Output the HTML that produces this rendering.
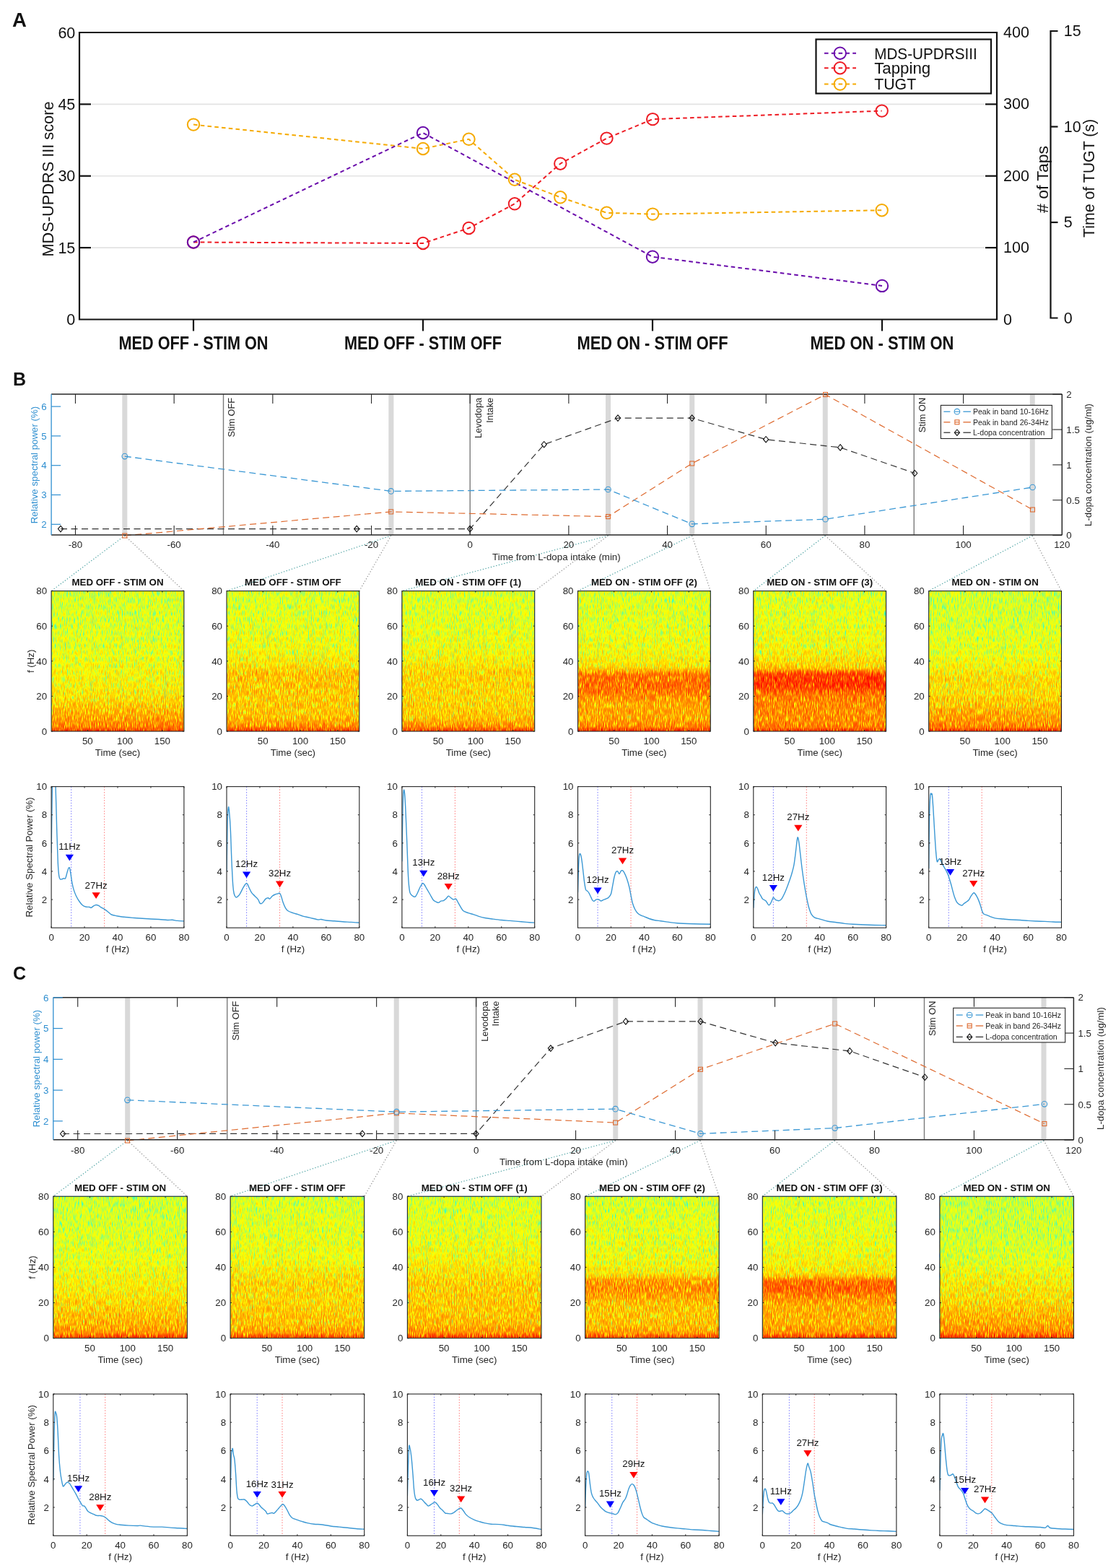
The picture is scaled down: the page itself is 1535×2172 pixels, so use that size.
<!DOCTYPE html>
<html><head><meta charset="utf-8"><title>Figure</title>
<style>html,body{margin:0;padding:0;background:#fff;} svg{display:block;} text{font-family:'Liberation Sans', Arial, Helvetica, sans-serif;}</style>
</head><body>
<svg width="1535" height="2172" viewBox="0 0 1535 2172">
<defs>
<linearGradient id="g1" x1="0" y1="0" x2="0" y2="1"><stop offset="0.0000" stop-color="rgb(152,152,152)"/><stop offset="0.2500" stop-color="rgb(154,154,154)"/><stop offset="0.4375" stop-color="rgb(157,157,157)"/><stop offset="0.5625" stop-color="rgb(161,161,161)"/><stop offset="0.6875" stop-color="rgb(164,164,164)"/><stop offset="0.7750" stop-color="rgb(170,170,170)"/><stop offset="0.8375" stop-color="rgb(178,178,178)"/><stop offset="0.9000" stop-color="rgb(185,185,185)"/><stop offset="0.9625" stop-color="rgb(193,193,193)"/><stop offset="0.9875" stop-color="rgb(204,204,204)"/><stop offset="1.0000" stop-color="rgb(212,212,212)"/></linearGradient>
<filter id="f1" x="0" y="0" width="1" height="1" color-interpolation-filters="sRGB">
<feTurbulence type="fractalNoise" baseFrequency="0.95 0.11" numOctaves="2" seed="11" result="t"/>
<feColorMatrix in="t" type="matrix" values="1 0 0 0 0 1 0 0 0 0 1 0 0 0 0 0 0 0 0 1" result="n0"/>
<feComponentTransfer in="n0" result="n"><feFuncR type="table" tableValues="0 0.07 0.3 0.5 0.58 0.645 0.71"/><feFuncG type="table" tableValues="0 0.07 0.3 0.5 0.58 0.645 0.71"/><feFuncB type="table" tableValues="0 0.07 0.3 0.5 0.58 0.645 0.71"/></feComponentTransfer>
<feComposite in="SourceGraphic" in2="n" operator="arithmetic" k1="0" k2="1" k3="0.42" k4="-0.21" result="v"/>
<feComponentTransfer in="v"><feFuncR type="table" tableValues="0.000 0.000 0.000 0.000 0.000 0.000 0.000 0.000 0.000 0.000 0.000 0.000 0.000 0.000 0.000 0.000 0.000 0.000 0.000 0.000 0.000 0.000 0.000 0.000 0.000 0.062 0.125 0.188 0.250 0.312 0.375 0.438 0.500 0.562 0.625 0.688 0.750 0.812 0.875 0.938 1.000 1.000 1.000 1.000 1.000 1.000 1.000 1.000 1.000 1.000 1.000 1.000 1.000 1.000 1.000 1.000 1.000 0.980 0.980 0.980 0.980 0.980 0.980 0.980 0.980"/><feFuncG type="table" tableValues="0.000 0.000 0.000 0.000 0.000 0.000 0.000 0.000 0.000 0.062 0.125 0.188 0.250 0.312 0.375 0.438 0.500 0.562 0.625 0.688 0.750 0.812 0.875 0.938 1.000 1.000 1.000 1.000 1.000 1.000 1.000 1.000 1.000 1.000 1.000 1.000 1.000 1.000 1.000 1.000 1.000 0.938 0.875 0.812 0.750 0.688 0.625 0.562 0.500 0.438 0.375 0.312 0.250 0.188 0.125 0.062 0.000 0.000 0.000 0.000 0.000 0.000 0.000 0.000 0.000"/><feFuncB type="table" tableValues="0.500 0.562 0.625 0.688 0.750 0.812 0.875 0.938 1.000 1.000 1.000 1.000 1.000 1.000 1.000 1.000 1.000 1.000 1.000 1.000 1.000 1.000 1.000 1.000 1.000 0.938 0.875 0.812 0.750 0.688 0.625 0.562 0.500 0.438 0.375 0.312 0.250 0.188 0.125 0.062 0.000 0.000 0.000 0.000 0.000 0.000 0.000 0.000 0.000 0.000 0.000 0.000 0.000 0.000 0.000 0.000 0.000 0.000 0.000 0.000 0.000 0.000 0.000 0.000 0.000"/></feComponentTransfer>
<feGaussianBlur stdDeviation="0.45"/>
</filter>
<linearGradient id="g2" x1="0" y1="0" x2="0" y2="1"><stop offset="0.0000" stop-color="rgb(153,153,153)"/><stop offset="0.2500" stop-color="rgb(156,156,156)"/><stop offset="0.4375" stop-color="rgb(161,161,161)"/><stop offset="0.5250" stop-color="rgb(168,168,168)"/><stop offset="0.5875" stop-color="rgb(177,177,177)"/><stop offset="0.7250" stop-color="rgb(176,176,176)"/><stop offset="0.8125" stop-color="rgb(175,175,175)"/><stop offset="0.9000" stop-color="rgb(178,178,178)"/><stop offset="0.9625" stop-color="rgb(190,190,190)"/><stop offset="0.9875" stop-color="rgb(204,204,204)"/><stop offset="1.0000" stop-color="rgb(212,212,212)"/></linearGradient>
<filter id="f2" x="0" y="0" width="1" height="1" color-interpolation-filters="sRGB">
<feTurbulence type="fractalNoise" baseFrequency="0.95 0.11" numOctaves="2" seed="12" result="t"/>
<feColorMatrix in="t" type="matrix" values="1 0 0 0 0 1 0 0 0 0 1 0 0 0 0 0 0 0 0 1" result="n0"/>
<feComponentTransfer in="n0" result="n"><feFuncR type="table" tableValues="0 0.07 0.3 0.5 0.58 0.645 0.71"/><feFuncG type="table" tableValues="0 0.07 0.3 0.5 0.58 0.645 0.71"/><feFuncB type="table" tableValues="0 0.07 0.3 0.5 0.58 0.645 0.71"/></feComponentTransfer>
<feComposite in="SourceGraphic" in2="n" operator="arithmetic" k1="0" k2="1" k3="0.42" k4="-0.21" result="v"/>
<feComponentTransfer in="v"><feFuncR type="table" tableValues="0.000 0.000 0.000 0.000 0.000 0.000 0.000 0.000 0.000 0.000 0.000 0.000 0.000 0.000 0.000 0.000 0.000 0.000 0.000 0.000 0.000 0.000 0.000 0.000 0.000 0.062 0.125 0.188 0.250 0.312 0.375 0.438 0.500 0.562 0.625 0.688 0.750 0.812 0.875 0.938 1.000 1.000 1.000 1.000 1.000 1.000 1.000 1.000 1.000 1.000 1.000 1.000 1.000 1.000 1.000 1.000 1.000 0.980 0.980 0.980 0.980 0.980 0.980 0.980 0.980"/><feFuncG type="table" tableValues="0.000 0.000 0.000 0.000 0.000 0.000 0.000 0.000 0.000 0.062 0.125 0.188 0.250 0.312 0.375 0.438 0.500 0.562 0.625 0.688 0.750 0.812 0.875 0.938 1.000 1.000 1.000 1.000 1.000 1.000 1.000 1.000 1.000 1.000 1.000 1.000 1.000 1.000 1.000 1.000 1.000 0.938 0.875 0.812 0.750 0.688 0.625 0.562 0.500 0.438 0.375 0.312 0.250 0.188 0.125 0.062 0.000 0.000 0.000 0.000 0.000 0.000 0.000 0.000 0.000"/><feFuncB type="table" tableValues="0.500 0.562 0.625 0.688 0.750 0.812 0.875 0.938 1.000 1.000 1.000 1.000 1.000 1.000 1.000 1.000 1.000 1.000 1.000 1.000 1.000 1.000 1.000 1.000 1.000 0.938 0.875 0.812 0.750 0.688 0.625 0.562 0.500 0.438 0.375 0.312 0.250 0.188 0.125 0.062 0.000 0.000 0.000 0.000 0.000 0.000 0.000 0.000 0.000 0.000 0.000 0.000 0.000 0.000 0.000 0.000 0.000 0.000 0.000 0.000 0.000 0.000 0.000 0.000 0.000"/></feComponentTransfer>
<feGaussianBlur stdDeviation="0.45"/>
</filter>
<linearGradient id="g3" x1="0" y1="0" x2="0" y2="1"><stop offset="0.0000" stop-color="rgb(153,153,153)"/><stop offset="0.2500" stop-color="rgb(156,156,156)"/><stop offset="0.4375" stop-color="rgb(161,161,161)"/><stop offset="0.5250" stop-color="rgb(167,167,167)"/><stop offset="0.5875" stop-color="rgb(173,173,173)"/><stop offset="0.7250" stop-color="rgb(172,172,172)"/><stop offset="0.8125" stop-color="rgb(173,173,173)"/><stop offset="0.9000" stop-color="rgb(177,177,177)"/><stop offset="0.9625" stop-color="rgb(189,189,189)"/><stop offset="0.9875" stop-color="rgb(204,204,204)"/><stop offset="1.0000" stop-color="rgb(212,212,212)"/></linearGradient>
<filter id="f3" x="0" y="0" width="1" height="1" color-interpolation-filters="sRGB">
<feTurbulence type="fractalNoise" baseFrequency="0.95 0.11" numOctaves="2" seed="13" result="t"/>
<feColorMatrix in="t" type="matrix" values="1 0 0 0 0 1 0 0 0 0 1 0 0 0 0 0 0 0 0 1" result="n0"/>
<feComponentTransfer in="n0" result="n"><feFuncR type="table" tableValues="0 0.07 0.3 0.5 0.58 0.645 0.71"/><feFuncG type="table" tableValues="0 0.07 0.3 0.5 0.58 0.645 0.71"/><feFuncB type="table" tableValues="0 0.07 0.3 0.5 0.58 0.645 0.71"/></feComponentTransfer>
<feComposite in="SourceGraphic" in2="n" operator="arithmetic" k1="0" k2="1" k3="0.42" k4="-0.21" result="v"/>
<feComponentTransfer in="v"><feFuncR type="table" tableValues="0.000 0.000 0.000 0.000 0.000 0.000 0.000 0.000 0.000 0.000 0.000 0.000 0.000 0.000 0.000 0.000 0.000 0.000 0.000 0.000 0.000 0.000 0.000 0.000 0.000 0.062 0.125 0.188 0.250 0.312 0.375 0.438 0.500 0.562 0.625 0.688 0.750 0.812 0.875 0.938 1.000 1.000 1.000 1.000 1.000 1.000 1.000 1.000 1.000 1.000 1.000 1.000 1.000 1.000 1.000 1.000 1.000 0.980 0.980 0.980 0.980 0.980 0.980 0.980 0.980"/><feFuncG type="table" tableValues="0.000 0.000 0.000 0.000 0.000 0.000 0.000 0.000 0.000 0.062 0.125 0.188 0.250 0.312 0.375 0.438 0.500 0.562 0.625 0.688 0.750 0.812 0.875 0.938 1.000 1.000 1.000 1.000 1.000 1.000 1.000 1.000 1.000 1.000 1.000 1.000 1.000 1.000 1.000 1.000 1.000 0.938 0.875 0.812 0.750 0.688 0.625 0.562 0.500 0.438 0.375 0.312 0.250 0.188 0.125 0.062 0.000 0.000 0.000 0.000 0.000 0.000 0.000 0.000 0.000"/><feFuncB type="table" tableValues="0.500 0.562 0.625 0.688 0.750 0.812 0.875 0.938 1.000 1.000 1.000 1.000 1.000 1.000 1.000 1.000 1.000 1.000 1.000 1.000 1.000 1.000 1.000 1.000 1.000 0.938 0.875 0.812 0.750 0.688 0.625 0.562 0.500 0.438 0.375 0.312 0.250 0.188 0.125 0.062 0.000 0.000 0.000 0.000 0.000 0.000 0.000 0.000 0.000 0.000 0.000 0.000 0.000 0.000 0.000 0.000 0.000 0.000 0.000 0.000 0.000 0.000 0.000 0.000 0.000"/></feComponentTransfer>
<feGaussianBlur stdDeviation="0.45"/>
</filter>
<linearGradient id="g4" x1="0" y1="0" x2="0" y2="1"><stop offset="0.0000" stop-color="rgb(153,153,153)"/><stop offset="0.2500" stop-color="rgb(156,156,156)"/><stop offset="0.4375" stop-color="rgb(161,161,161)"/><stop offset="0.5375" stop-color="rgb(168,168,168)"/><stop offset="0.5687" stop-color="rgb(182,182,182)"/><stop offset="0.5938" stop-color="rgb(196,196,196)"/><stop offset="0.6750" stop-color="rgb(199,199,199)"/><stop offset="0.7250" stop-color="rgb(195,195,195)"/><stop offset="0.7625" stop-color="rgb(189,189,189)"/><stop offset="0.8125" stop-color="rgb(184,184,184)"/><stop offset="0.9000" stop-color="rgb(184,184,184)"/><stop offset="0.9625" stop-color="rgb(191,191,191)"/><stop offset="0.9875" stop-color="rgb(207,207,207)"/><stop offset="1.0000" stop-color="rgb(214,214,214)"/></linearGradient>
<filter id="f4" x="0" y="0" width="1" height="1" color-interpolation-filters="sRGB">
<feTurbulence type="fractalNoise" baseFrequency="0.95 0.11" numOctaves="2" seed="14" result="t"/>
<feColorMatrix in="t" type="matrix" values="1 0 0 0 0 1 0 0 0 0 1 0 0 0 0 0 0 0 0 1" result="n0"/>
<feComponentTransfer in="n0" result="n"><feFuncR type="table" tableValues="0 0.07 0.3 0.5 0.58 0.645 0.71"/><feFuncG type="table" tableValues="0 0.07 0.3 0.5 0.58 0.645 0.71"/><feFuncB type="table" tableValues="0 0.07 0.3 0.5 0.58 0.645 0.71"/></feComponentTransfer>
<feComposite in="SourceGraphic" in2="n" operator="arithmetic" k1="0" k2="1" k3="0.42" k4="-0.21" result="v"/>
<feComponentTransfer in="v"><feFuncR type="table" tableValues="0.000 0.000 0.000 0.000 0.000 0.000 0.000 0.000 0.000 0.000 0.000 0.000 0.000 0.000 0.000 0.000 0.000 0.000 0.000 0.000 0.000 0.000 0.000 0.000 0.000 0.062 0.125 0.188 0.250 0.312 0.375 0.438 0.500 0.562 0.625 0.688 0.750 0.812 0.875 0.938 1.000 1.000 1.000 1.000 1.000 1.000 1.000 1.000 1.000 1.000 1.000 1.000 1.000 1.000 1.000 1.000 1.000 0.980 0.980 0.980 0.980 0.980 0.980 0.980 0.980"/><feFuncG type="table" tableValues="0.000 0.000 0.000 0.000 0.000 0.000 0.000 0.000 0.000 0.062 0.125 0.188 0.250 0.312 0.375 0.438 0.500 0.562 0.625 0.688 0.750 0.812 0.875 0.938 1.000 1.000 1.000 1.000 1.000 1.000 1.000 1.000 1.000 1.000 1.000 1.000 1.000 1.000 1.000 1.000 1.000 0.938 0.875 0.812 0.750 0.688 0.625 0.562 0.500 0.438 0.375 0.312 0.250 0.188 0.125 0.062 0.000 0.000 0.000 0.000 0.000 0.000 0.000 0.000 0.000"/><feFuncB type="table" tableValues="0.500 0.562 0.625 0.688 0.750 0.812 0.875 0.938 1.000 1.000 1.000 1.000 1.000 1.000 1.000 1.000 1.000 1.000 1.000 1.000 1.000 1.000 1.000 1.000 1.000 0.938 0.875 0.812 0.750 0.688 0.625 0.562 0.500 0.438 0.375 0.312 0.250 0.188 0.125 0.062 0.000 0.000 0.000 0.000 0.000 0.000 0.000 0.000 0.000 0.000 0.000 0.000 0.000 0.000 0.000 0.000 0.000 0.000 0.000 0.000 0.000 0.000 0.000 0.000 0.000"/></feComponentTransfer>
<feGaussianBlur stdDeviation="0.45"/>
</filter>
<linearGradient id="g5" x1="0" y1="0" x2="0" y2="1"><stop offset="0.0000" stop-color="rgb(154,154,154)"/><stop offset="0.2500" stop-color="rgb(157,157,157)"/><stop offset="0.4375" stop-color="rgb(163,163,163)"/><stop offset="0.5250" stop-color="rgb(172,172,172)"/><stop offset="0.5563" stop-color="rgb(180,180,180)"/><stop offset="0.5750" stop-color="rgb(196,196,196)"/><stop offset="0.5938" stop-color="rgb(209,209,209)"/><stop offset="0.6625" stop-color="rgb(212,212,212)"/><stop offset="0.7000" stop-color="rgb(207,207,207)"/><stop offset="0.7250" stop-color="rgb(199,199,199)"/><stop offset="0.7625" stop-color="rgb(193,193,193)"/><stop offset="0.8750" stop-color="rgb(190,190,190)"/><stop offset="0.9375" stop-color="rgb(191,191,191)"/><stop offset="0.9750" stop-color="rgb(196,196,196)"/><stop offset="0.9875" stop-color="rgb(207,207,207)"/><stop offset="1.0000" stop-color="rgb(212,212,212)"/></linearGradient>
<filter id="f5" x="0" y="0" width="1" height="1" color-interpolation-filters="sRGB">
<feTurbulence type="fractalNoise" baseFrequency="0.95 0.11" numOctaves="2" seed="15" result="t"/>
<feColorMatrix in="t" type="matrix" values="1 0 0 0 0 1 0 0 0 0 1 0 0 0 0 0 0 0 0 1" result="n0"/>
<feComponentTransfer in="n0" result="n"><feFuncR type="table" tableValues="0 0.07 0.3 0.5 0.58 0.645 0.71"/><feFuncG type="table" tableValues="0 0.07 0.3 0.5 0.58 0.645 0.71"/><feFuncB type="table" tableValues="0 0.07 0.3 0.5 0.58 0.645 0.71"/></feComponentTransfer>
<feComposite in="SourceGraphic" in2="n" operator="arithmetic" k1="0" k2="1" k3="0.42" k4="-0.21" result="v"/>
<feComponentTransfer in="v"><feFuncR type="table" tableValues="0.000 0.000 0.000 0.000 0.000 0.000 0.000 0.000 0.000 0.000 0.000 0.000 0.000 0.000 0.000 0.000 0.000 0.000 0.000 0.000 0.000 0.000 0.000 0.000 0.000 0.062 0.125 0.188 0.250 0.312 0.375 0.438 0.500 0.562 0.625 0.688 0.750 0.812 0.875 0.938 1.000 1.000 1.000 1.000 1.000 1.000 1.000 1.000 1.000 1.000 1.000 1.000 1.000 1.000 1.000 1.000 1.000 0.980 0.980 0.980 0.980 0.980 0.980 0.980 0.980"/><feFuncG type="table" tableValues="0.000 0.000 0.000 0.000 0.000 0.000 0.000 0.000 0.000 0.062 0.125 0.188 0.250 0.312 0.375 0.438 0.500 0.562 0.625 0.688 0.750 0.812 0.875 0.938 1.000 1.000 1.000 1.000 1.000 1.000 1.000 1.000 1.000 1.000 1.000 1.000 1.000 1.000 1.000 1.000 1.000 0.938 0.875 0.812 0.750 0.688 0.625 0.562 0.500 0.438 0.375 0.312 0.250 0.188 0.125 0.062 0.000 0.000 0.000 0.000 0.000 0.000 0.000 0.000 0.000"/><feFuncB type="table" tableValues="0.500 0.562 0.625 0.688 0.750 0.812 0.875 0.938 1.000 1.000 1.000 1.000 1.000 1.000 1.000 1.000 1.000 1.000 1.000 1.000 1.000 1.000 1.000 1.000 1.000 0.938 0.875 0.812 0.750 0.688 0.625 0.562 0.500 0.438 0.375 0.312 0.250 0.188 0.125 0.062 0.000 0.000 0.000 0.000 0.000 0.000 0.000 0.000 0.000 0.000 0.000 0.000 0.000 0.000 0.000 0.000 0.000 0.000 0.000 0.000 0.000 0.000 0.000 0.000 0.000"/></feComponentTransfer>
<feGaussianBlur stdDeviation="0.45"/>
</filter>
<linearGradient id="g6" x1="0" y1="0" x2="0" y2="1"><stop offset="0.0000" stop-color="rgb(150,150,150)"/><stop offset="0.2500" stop-color="rgb(153,153,153)"/><stop offset="0.4375" stop-color="rgb(157,157,157)"/><stop offset="0.5625" stop-color="rgb(164,164,164)"/><stop offset="0.6250" stop-color="rgb(171,171,171)"/><stop offset="0.7250" stop-color="rgb(170,170,170)"/><stop offset="0.8125" stop-color="rgb(177,177,177)"/><stop offset="0.8750" stop-color="rgb(184,184,184)"/><stop offset="0.9375" stop-color="rgb(189,189,189)"/><stop offset="0.9750" stop-color="rgb(196,196,196)"/><stop offset="0.9875" stop-color="rgb(209,209,209)"/><stop offset="1.0000" stop-color="rgb(214,214,214)"/></linearGradient>
<filter id="f6" x="0" y="0" width="1" height="1" color-interpolation-filters="sRGB">
<feTurbulence type="fractalNoise" baseFrequency="0.95 0.11" numOctaves="2" seed="16" result="t"/>
<feColorMatrix in="t" type="matrix" values="1 0 0 0 0 1 0 0 0 0 1 0 0 0 0 0 0 0 0 1" result="n0"/>
<feComponentTransfer in="n0" result="n"><feFuncR type="table" tableValues="0 0.07 0.3 0.5 0.58 0.645 0.71"/><feFuncG type="table" tableValues="0 0.07 0.3 0.5 0.58 0.645 0.71"/><feFuncB type="table" tableValues="0 0.07 0.3 0.5 0.58 0.645 0.71"/></feComponentTransfer>
<feComposite in="SourceGraphic" in2="n" operator="arithmetic" k1="0" k2="1" k3="0.42" k4="-0.21" result="v"/>
<feComponentTransfer in="v"><feFuncR type="table" tableValues="0.000 0.000 0.000 0.000 0.000 0.000 0.000 0.000 0.000 0.000 0.000 0.000 0.000 0.000 0.000 0.000 0.000 0.000 0.000 0.000 0.000 0.000 0.000 0.000 0.000 0.062 0.125 0.188 0.250 0.312 0.375 0.438 0.500 0.562 0.625 0.688 0.750 0.812 0.875 0.938 1.000 1.000 1.000 1.000 1.000 1.000 1.000 1.000 1.000 1.000 1.000 1.000 1.000 1.000 1.000 1.000 1.000 0.980 0.980 0.980 0.980 0.980 0.980 0.980 0.980"/><feFuncG type="table" tableValues="0.000 0.000 0.000 0.000 0.000 0.000 0.000 0.000 0.000 0.062 0.125 0.188 0.250 0.312 0.375 0.438 0.500 0.562 0.625 0.688 0.750 0.812 0.875 0.938 1.000 1.000 1.000 1.000 1.000 1.000 1.000 1.000 1.000 1.000 1.000 1.000 1.000 1.000 1.000 1.000 1.000 0.938 0.875 0.812 0.750 0.688 0.625 0.562 0.500 0.438 0.375 0.312 0.250 0.188 0.125 0.062 0.000 0.000 0.000 0.000 0.000 0.000 0.000 0.000 0.000"/><feFuncB type="table" tableValues="0.500 0.562 0.625 0.688 0.750 0.812 0.875 0.938 1.000 1.000 1.000 1.000 1.000 1.000 1.000 1.000 1.000 1.000 1.000 1.000 1.000 1.000 1.000 1.000 1.000 0.938 0.875 0.812 0.750 0.688 0.625 0.562 0.500 0.438 0.375 0.312 0.250 0.188 0.125 0.062 0.000 0.000 0.000 0.000 0.000 0.000 0.000 0.000 0.000 0.000 0.000 0.000 0.000 0.000 0.000 0.000 0.000 0.000 0.000 0.000 0.000 0.000 0.000 0.000 0.000"/></feComponentTransfer>
<feGaussianBlur stdDeviation="0.45"/>
</filter>
<clipPath id="c1"><rect x="71.1" y="1089.6" width="183.8" height="195.6"/></clipPath>
<clipPath id="c2"><rect x="314" y="1089.6" width="183.8" height="195.6"/></clipPath>
<clipPath id="c3"><rect x="556.9" y="1089.6" width="183.8" height="195.6"/></clipPath>
<clipPath id="c4"><rect x="800.5" y="1089.6" width="183.8" height="195.6"/></clipPath>
<clipPath id="c5"><rect x="1043.8" y="1089.6" width="183.8" height="195.6"/></clipPath>
<clipPath id="c6"><rect x="1286.7" y="1089.6" width="183.8" height="195.6"/></clipPath>
<linearGradient id="g7" x1="0" y1="0" x2="0" y2="1"><stop offset="0.0000" stop-color="rgb(150,150,150)"/><stop offset="0.2500" stop-color="rgb(153,153,153)"/><stop offset="0.4375" stop-color="rgb(157,157,157)"/><stop offset="0.5625" stop-color="rgb(162,162,162)"/><stop offset="0.6875" stop-color="rgb(167,167,167)"/><stop offset="0.7500" stop-color="rgb(171,171,171)"/><stop offset="0.8500" stop-color="rgb(178,178,178)"/><stop offset="0.9250" stop-color="rgb(184,184,184)"/><stop offset="0.9625" stop-color="rgb(189,189,189)"/><stop offset="0.9875" stop-color="rgb(207,207,207)"/><stop offset="1.0000" stop-color="rgb(212,212,212)"/></linearGradient>
<filter id="f7" x="0" y="0" width="1" height="1" color-interpolation-filters="sRGB">
<feTurbulence type="fractalNoise" baseFrequency="0.95 0.11" numOctaves="2" seed="31" result="t"/>
<feColorMatrix in="t" type="matrix" values="1 0 0 0 0 1 0 0 0 0 1 0 0 0 0 0 0 0 0 1" result="n0"/>
<feComponentTransfer in="n0" result="n"><feFuncR type="table" tableValues="0 0.07 0.3 0.5 0.58 0.645 0.71"/><feFuncG type="table" tableValues="0 0.07 0.3 0.5 0.58 0.645 0.71"/><feFuncB type="table" tableValues="0 0.07 0.3 0.5 0.58 0.645 0.71"/></feComponentTransfer>
<feComposite in="SourceGraphic" in2="n" operator="arithmetic" k1="0" k2="1" k3="0.42" k4="-0.21" result="v"/>
<feComponentTransfer in="v"><feFuncR type="table" tableValues="0.000 0.000 0.000 0.000 0.000 0.000 0.000 0.000 0.000 0.000 0.000 0.000 0.000 0.000 0.000 0.000 0.000 0.000 0.000 0.000 0.000 0.000 0.000 0.000 0.000 0.062 0.125 0.188 0.250 0.312 0.375 0.438 0.500 0.562 0.625 0.688 0.750 0.812 0.875 0.938 1.000 1.000 1.000 1.000 1.000 1.000 1.000 1.000 1.000 1.000 1.000 1.000 1.000 1.000 1.000 1.000 1.000 0.980 0.980 0.980 0.980 0.980 0.980 0.980 0.980"/><feFuncG type="table" tableValues="0.000 0.000 0.000 0.000 0.000 0.000 0.000 0.000 0.000 0.062 0.125 0.188 0.250 0.312 0.375 0.438 0.500 0.562 0.625 0.688 0.750 0.812 0.875 0.938 1.000 1.000 1.000 1.000 1.000 1.000 1.000 1.000 1.000 1.000 1.000 1.000 1.000 1.000 1.000 1.000 1.000 0.938 0.875 0.812 0.750 0.688 0.625 0.562 0.500 0.438 0.375 0.312 0.250 0.188 0.125 0.062 0.000 0.000 0.000 0.000 0.000 0.000 0.000 0.000 0.000"/><feFuncB type="table" tableValues="0.500 0.562 0.625 0.688 0.750 0.812 0.875 0.938 1.000 1.000 1.000 1.000 1.000 1.000 1.000 1.000 1.000 1.000 1.000 1.000 1.000 1.000 1.000 1.000 1.000 0.938 0.875 0.812 0.750 0.688 0.625 0.562 0.500 0.438 0.375 0.312 0.250 0.188 0.125 0.062 0.000 0.000 0.000 0.000 0.000 0.000 0.000 0.000 0.000 0.000 0.000 0.000 0.000 0.000 0.000 0.000 0.000 0.000 0.000 0.000 0.000 0.000 0.000 0.000 0.000"/></feComponentTransfer>
<feGaussianBlur stdDeviation="0.45"/>
</filter>
<linearGradient id="g8" x1="0" y1="0" x2="0" y2="1"><stop offset="0.0000" stop-color="rgb(152,152,152)"/><stop offset="0.2500" stop-color="rgb(156,156,156)"/><stop offset="0.4375" stop-color="rgb(159,159,159)"/><stop offset="0.5250" stop-color="rgb(166,166,166)"/><stop offset="0.6250" stop-color="rgb(173,173,173)"/><stop offset="0.7250" stop-color="rgb(171,171,171)"/><stop offset="0.8125" stop-color="rgb(175,175,175)"/><stop offset="0.9000" stop-color="rgb(178,178,178)"/><stop offset="0.9625" stop-color="rgb(187,187,187)"/><stop offset="0.9875" stop-color="rgb(204,204,204)"/><stop offset="1.0000" stop-color="rgb(209,209,209)"/></linearGradient>
<filter id="f8" x="0" y="0" width="1" height="1" color-interpolation-filters="sRGB">
<feTurbulence type="fractalNoise" baseFrequency="0.95 0.11" numOctaves="2" seed="32" result="t"/>
<feColorMatrix in="t" type="matrix" values="1 0 0 0 0 1 0 0 0 0 1 0 0 0 0 0 0 0 0 1" result="n0"/>
<feComponentTransfer in="n0" result="n"><feFuncR type="table" tableValues="0 0.07 0.3 0.5 0.58 0.645 0.71"/><feFuncG type="table" tableValues="0 0.07 0.3 0.5 0.58 0.645 0.71"/><feFuncB type="table" tableValues="0 0.07 0.3 0.5 0.58 0.645 0.71"/></feComponentTransfer>
<feComposite in="SourceGraphic" in2="n" operator="arithmetic" k1="0" k2="1" k3="0.42" k4="-0.21" result="v"/>
<feComponentTransfer in="v"><feFuncR type="table" tableValues="0.000 0.000 0.000 0.000 0.000 0.000 0.000 0.000 0.000 0.000 0.000 0.000 0.000 0.000 0.000 0.000 0.000 0.000 0.000 0.000 0.000 0.000 0.000 0.000 0.000 0.062 0.125 0.188 0.250 0.312 0.375 0.438 0.500 0.562 0.625 0.688 0.750 0.812 0.875 0.938 1.000 1.000 1.000 1.000 1.000 1.000 1.000 1.000 1.000 1.000 1.000 1.000 1.000 1.000 1.000 1.000 1.000 0.980 0.980 0.980 0.980 0.980 0.980 0.980 0.980"/><feFuncG type="table" tableValues="0.000 0.000 0.000 0.000 0.000 0.000 0.000 0.000 0.000 0.062 0.125 0.188 0.250 0.312 0.375 0.438 0.500 0.562 0.625 0.688 0.750 0.812 0.875 0.938 1.000 1.000 1.000 1.000 1.000 1.000 1.000 1.000 1.000 1.000 1.000 1.000 1.000 1.000 1.000 1.000 1.000 0.938 0.875 0.812 0.750 0.688 0.625 0.562 0.500 0.438 0.375 0.312 0.250 0.188 0.125 0.062 0.000 0.000 0.000 0.000 0.000 0.000 0.000 0.000 0.000"/><feFuncB type="table" tableValues="0.500 0.562 0.625 0.688 0.750 0.812 0.875 0.938 1.000 1.000 1.000 1.000 1.000 1.000 1.000 1.000 1.000 1.000 1.000 1.000 1.000 1.000 1.000 1.000 1.000 0.938 0.875 0.812 0.750 0.688 0.625 0.562 0.500 0.438 0.375 0.312 0.250 0.188 0.125 0.062 0.000 0.000 0.000 0.000 0.000 0.000 0.000 0.000 0.000 0.000 0.000 0.000 0.000 0.000 0.000 0.000 0.000 0.000 0.000 0.000 0.000 0.000 0.000 0.000 0.000"/></feComponentTransfer>
<feGaussianBlur stdDeviation="0.45"/>
</filter>
<linearGradient id="g9" x1="0" y1="0" x2="0" y2="1"><stop offset="0.0000" stop-color="rgb(152,152,152)"/><stop offset="0.2500" stop-color="rgb(156,156,156)"/><stop offset="0.4375" stop-color="rgb(162,162,162)"/><stop offset="0.5250" stop-color="rgb(168,168,168)"/><stop offset="0.6250" stop-color="rgb(175,175,175)"/><stop offset="0.7250" stop-color="rgb(175,175,175)"/><stop offset="0.8125" stop-color="rgb(176,176,176)"/><stop offset="0.9000" stop-color="rgb(180,180,180)"/><stop offset="0.9625" stop-color="rgb(189,189,189)"/><stop offset="0.9875" stop-color="rgb(207,207,207)"/><stop offset="1.0000" stop-color="rgb(212,212,212)"/></linearGradient>
<filter id="f9" x="0" y="0" width="1" height="1" color-interpolation-filters="sRGB">
<feTurbulence type="fractalNoise" baseFrequency="0.95 0.11" numOctaves="2" seed="33" result="t"/>
<feColorMatrix in="t" type="matrix" values="1 0 0 0 0 1 0 0 0 0 1 0 0 0 0 0 0 0 0 1" result="n0"/>
<feComponentTransfer in="n0" result="n"><feFuncR type="table" tableValues="0 0.07 0.3 0.5 0.58 0.645 0.71"/><feFuncG type="table" tableValues="0 0.07 0.3 0.5 0.58 0.645 0.71"/><feFuncB type="table" tableValues="0 0.07 0.3 0.5 0.58 0.645 0.71"/></feComponentTransfer>
<feComposite in="SourceGraphic" in2="n" operator="arithmetic" k1="0" k2="1" k3="0.42" k4="-0.21" result="v"/>
<feComponentTransfer in="v"><feFuncR type="table" tableValues="0.000 0.000 0.000 0.000 0.000 0.000 0.000 0.000 0.000 0.000 0.000 0.000 0.000 0.000 0.000 0.000 0.000 0.000 0.000 0.000 0.000 0.000 0.000 0.000 0.000 0.062 0.125 0.188 0.250 0.312 0.375 0.438 0.500 0.562 0.625 0.688 0.750 0.812 0.875 0.938 1.000 1.000 1.000 1.000 1.000 1.000 1.000 1.000 1.000 1.000 1.000 1.000 1.000 1.000 1.000 1.000 1.000 0.980 0.980 0.980 0.980 0.980 0.980 0.980 0.980"/><feFuncG type="table" tableValues="0.000 0.000 0.000 0.000 0.000 0.000 0.000 0.000 0.000 0.062 0.125 0.188 0.250 0.312 0.375 0.438 0.500 0.562 0.625 0.688 0.750 0.812 0.875 0.938 1.000 1.000 1.000 1.000 1.000 1.000 1.000 1.000 1.000 1.000 1.000 1.000 1.000 1.000 1.000 1.000 1.000 0.938 0.875 0.812 0.750 0.688 0.625 0.562 0.500 0.438 0.375 0.312 0.250 0.188 0.125 0.062 0.000 0.000 0.000 0.000 0.000 0.000 0.000 0.000 0.000"/><feFuncB type="table" tableValues="0.500 0.562 0.625 0.688 0.750 0.812 0.875 0.938 1.000 1.000 1.000 1.000 1.000 1.000 1.000 1.000 1.000 1.000 1.000 1.000 1.000 1.000 1.000 1.000 1.000 0.938 0.875 0.812 0.750 0.688 0.625 0.562 0.500 0.438 0.375 0.312 0.250 0.188 0.125 0.062 0.000 0.000 0.000 0.000 0.000 0.000 0.000 0.000 0.000 0.000 0.000 0.000 0.000 0.000 0.000 0.000 0.000 0.000 0.000 0.000 0.000 0.000 0.000 0.000 0.000"/></feComponentTransfer>
<feGaussianBlur stdDeviation="0.45"/>
</filter>
<linearGradient id="g10" x1="0" y1="0" x2="0" y2="1"><stop offset="0.0000" stop-color="rgb(152,152,152)"/><stop offset="0.2500" stop-color="rgb(156,156,156)"/><stop offset="0.4375" stop-color="rgb(159,159,159)"/><stop offset="0.5375" stop-color="rgb(166,166,166)"/><stop offset="0.5687" stop-color="rgb(175,175,175)"/><stop offset="0.5875" stop-color="rgb(186,186,186)"/><stop offset="0.6500" stop-color="rgb(191,191,191)"/><stop offset="0.7125" stop-color="rgb(185,185,185)"/><stop offset="0.7500" stop-color="rgb(178,178,178)"/><stop offset="0.8000" stop-color="rgb(176,176,176)"/><stop offset="0.9000" stop-color="rgb(177,177,177)"/><stop offset="0.9625" stop-color="rgb(187,187,187)"/><stop offset="0.9875" stop-color="rgb(204,204,204)"/><stop offset="1.0000" stop-color="rgb(209,209,209)"/></linearGradient>
<filter id="f10" x="0" y="0" width="1" height="1" color-interpolation-filters="sRGB">
<feTurbulence type="fractalNoise" baseFrequency="0.95 0.11" numOctaves="2" seed="34" result="t"/>
<feColorMatrix in="t" type="matrix" values="1 0 0 0 0 1 0 0 0 0 1 0 0 0 0 0 0 0 0 1" result="n0"/>
<feComponentTransfer in="n0" result="n"><feFuncR type="table" tableValues="0 0.07 0.3 0.5 0.58 0.645 0.71"/><feFuncG type="table" tableValues="0 0.07 0.3 0.5 0.58 0.645 0.71"/><feFuncB type="table" tableValues="0 0.07 0.3 0.5 0.58 0.645 0.71"/></feComponentTransfer>
<feComposite in="SourceGraphic" in2="n" operator="arithmetic" k1="0" k2="1" k3="0.42" k4="-0.21" result="v"/>
<feComponentTransfer in="v"><feFuncR type="table" tableValues="0.000 0.000 0.000 0.000 0.000 0.000 0.000 0.000 0.000 0.000 0.000 0.000 0.000 0.000 0.000 0.000 0.000 0.000 0.000 0.000 0.000 0.000 0.000 0.000 0.000 0.062 0.125 0.188 0.250 0.312 0.375 0.438 0.500 0.562 0.625 0.688 0.750 0.812 0.875 0.938 1.000 1.000 1.000 1.000 1.000 1.000 1.000 1.000 1.000 1.000 1.000 1.000 1.000 1.000 1.000 1.000 1.000 0.980 0.980 0.980 0.980 0.980 0.980 0.980 0.980"/><feFuncG type="table" tableValues="0.000 0.000 0.000 0.000 0.000 0.000 0.000 0.000 0.000 0.062 0.125 0.188 0.250 0.312 0.375 0.438 0.500 0.562 0.625 0.688 0.750 0.812 0.875 0.938 1.000 1.000 1.000 1.000 1.000 1.000 1.000 1.000 1.000 1.000 1.000 1.000 1.000 1.000 1.000 1.000 1.000 0.938 0.875 0.812 0.750 0.688 0.625 0.562 0.500 0.438 0.375 0.312 0.250 0.188 0.125 0.062 0.000 0.000 0.000 0.000 0.000 0.000 0.000 0.000 0.000"/><feFuncB type="table" tableValues="0.500 0.562 0.625 0.688 0.750 0.812 0.875 0.938 1.000 1.000 1.000 1.000 1.000 1.000 1.000 1.000 1.000 1.000 1.000 1.000 1.000 1.000 1.000 1.000 1.000 0.938 0.875 0.812 0.750 0.688 0.625 0.562 0.500 0.438 0.375 0.312 0.250 0.188 0.125 0.062 0.000 0.000 0.000 0.000 0.000 0.000 0.000 0.000 0.000 0.000 0.000 0.000 0.000 0.000 0.000 0.000 0.000 0.000 0.000 0.000 0.000 0.000 0.000 0.000 0.000"/></feComponentTransfer>
<feGaussianBlur stdDeviation="0.45"/>
</filter>
<linearGradient id="g11" x1="0" y1="0" x2="0" y2="1"><stop offset="0.0000" stop-color="rgb(153,153,153)"/><stop offset="0.2500" stop-color="rgb(156,156,156)"/><stop offset="0.4375" stop-color="rgb(162,162,162)"/><stop offset="0.5375" stop-color="rgb(168,168,168)"/><stop offset="0.5625" stop-color="rgb(175,175,175)"/><stop offset="0.5813" stop-color="rgb(189,189,189)"/><stop offset="0.6000" stop-color="rgb(199,199,199)"/><stop offset="0.6500" stop-color="rgb(201,201,201)"/><stop offset="0.6875" stop-color="rgb(196,196,196)"/><stop offset="0.7250" stop-color="rgb(189,189,189)"/><stop offset="0.7750" stop-color="rgb(182,182,182)"/><stop offset="0.9000" stop-color="rgb(182,182,182)"/><stop offset="0.9625" stop-color="rgb(190,190,190)"/><stop offset="0.9875" stop-color="rgb(207,207,207)"/><stop offset="1.0000" stop-color="rgb(212,212,212)"/></linearGradient>
<filter id="f11" x="0" y="0" width="1" height="1" color-interpolation-filters="sRGB">
<feTurbulence type="fractalNoise" baseFrequency="0.95 0.11" numOctaves="2" seed="35" result="t"/>
<feColorMatrix in="t" type="matrix" values="1 0 0 0 0 1 0 0 0 0 1 0 0 0 0 0 0 0 0 1" result="n0"/>
<feComponentTransfer in="n0" result="n"><feFuncR type="table" tableValues="0 0.07 0.3 0.5 0.58 0.645 0.71"/><feFuncG type="table" tableValues="0 0.07 0.3 0.5 0.58 0.645 0.71"/><feFuncB type="table" tableValues="0 0.07 0.3 0.5 0.58 0.645 0.71"/></feComponentTransfer>
<feComposite in="SourceGraphic" in2="n" operator="arithmetic" k1="0" k2="1" k3="0.42" k4="-0.21" result="v"/>
<feComponentTransfer in="v"><feFuncR type="table" tableValues="0.000 0.000 0.000 0.000 0.000 0.000 0.000 0.000 0.000 0.000 0.000 0.000 0.000 0.000 0.000 0.000 0.000 0.000 0.000 0.000 0.000 0.000 0.000 0.000 0.000 0.062 0.125 0.188 0.250 0.312 0.375 0.438 0.500 0.562 0.625 0.688 0.750 0.812 0.875 0.938 1.000 1.000 1.000 1.000 1.000 1.000 1.000 1.000 1.000 1.000 1.000 1.000 1.000 1.000 1.000 1.000 1.000 0.980 0.980 0.980 0.980 0.980 0.980 0.980 0.980"/><feFuncG type="table" tableValues="0.000 0.000 0.000 0.000 0.000 0.000 0.000 0.000 0.000 0.062 0.125 0.188 0.250 0.312 0.375 0.438 0.500 0.562 0.625 0.688 0.750 0.812 0.875 0.938 1.000 1.000 1.000 1.000 1.000 1.000 1.000 1.000 1.000 1.000 1.000 1.000 1.000 1.000 1.000 1.000 1.000 0.938 0.875 0.812 0.750 0.688 0.625 0.562 0.500 0.438 0.375 0.312 0.250 0.188 0.125 0.062 0.000 0.000 0.000 0.000 0.000 0.000 0.000 0.000 0.000"/><feFuncB type="table" tableValues="0.500 0.562 0.625 0.688 0.750 0.812 0.875 0.938 1.000 1.000 1.000 1.000 1.000 1.000 1.000 1.000 1.000 1.000 1.000 1.000 1.000 1.000 1.000 1.000 1.000 0.938 0.875 0.812 0.750 0.688 0.625 0.562 0.500 0.438 0.375 0.312 0.250 0.188 0.125 0.062 0.000 0.000 0.000 0.000 0.000 0.000 0.000 0.000 0.000 0.000 0.000 0.000 0.000 0.000 0.000 0.000 0.000 0.000 0.000 0.000 0.000 0.000 0.000 0.000 0.000"/></feComponentTransfer>
<feGaussianBlur stdDeviation="0.45"/>
</filter>
<linearGradient id="g12" x1="0" y1="0" x2="0" y2="1"><stop offset="0.0000" stop-color="rgb(148,148,148)"/><stop offset="0.2500" stop-color="rgb(150,150,150)"/><stop offset="0.4375" stop-color="rgb(154,154,154)"/><stop offset="0.5625" stop-color="rgb(163,163,163)"/><stop offset="0.6500" stop-color="rgb(168,168,168)"/><stop offset="0.7250" stop-color="rgb(170,170,170)"/><stop offset="0.7750" stop-color="rgb(175,175,175)"/><stop offset="0.8500" stop-color="rgb(181,181,181)"/><stop offset="0.9250" stop-color="rgb(187,187,187)"/><stop offset="0.9625" stop-color="rgb(193,193,193)"/><stop offset="0.9875" stop-color="rgb(207,207,207)"/><stop offset="1.0000" stop-color="rgb(212,212,212)"/></linearGradient>
<filter id="f12" x="0" y="0" width="1" height="1" color-interpolation-filters="sRGB">
<feTurbulence type="fractalNoise" baseFrequency="0.95 0.11" numOctaves="2" seed="36" result="t"/>
<feColorMatrix in="t" type="matrix" values="1 0 0 0 0 1 0 0 0 0 1 0 0 0 0 0 0 0 0 1" result="n0"/>
<feComponentTransfer in="n0" result="n"><feFuncR type="table" tableValues="0 0.07 0.3 0.5 0.58 0.645 0.71"/><feFuncG type="table" tableValues="0 0.07 0.3 0.5 0.58 0.645 0.71"/><feFuncB type="table" tableValues="0 0.07 0.3 0.5 0.58 0.645 0.71"/></feComponentTransfer>
<feComposite in="SourceGraphic" in2="n" operator="arithmetic" k1="0" k2="1" k3="0.42" k4="-0.21" result="v"/>
<feComponentTransfer in="v"><feFuncR type="table" tableValues="0.000 0.000 0.000 0.000 0.000 0.000 0.000 0.000 0.000 0.000 0.000 0.000 0.000 0.000 0.000 0.000 0.000 0.000 0.000 0.000 0.000 0.000 0.000 0.000 0.000 0.062 0.125 0.188 0.250 0.312 0.375 0.438 0.500 0.562 0.625 0.688 0.750 0.812 0.875 0.938 1.000 1.000 1.000 1.000 1.000 1.000 1.000 1.000 1.000 1.000 1.000 1.000 1.000 1.000 1.000 1.000 1.000 0.980 0.980 0.980 0.980 0.980 0.980 0.980 0.980"/><feFuncG type="table" tableValues="0.000 0.000 0.000 0.000 0.000 0.000 0.000 0.000 0.000 0.062 0.125 0.188 0.250 0.312 0.375 0.438 0.500 0.562 0.625 0.688 0.750 0.812 0.875 0.938 1.000 1.000 1.000 1.000 1.000 1.000 1.000 1.000 1.000 1.000 1.000 1.000 1.000 1.000 1.000 1.000 1.000 0.938 0.875 0.812 0.750 0.688 0.625 0.562 0.500 0.438 0.375 0.312 0.250 0.188 0.125 0.062 0.000 0.000 0.000 0.000 0.000 0.000 0.000 0.000 0.000"/><feFuncB type="table" tableValues="0.500 0.562 0.625 0.688 0.750 0.812 0.875 0.938 1.000 1.000 1.000 1.000 1.000 1.000 1.000 1.000 1.000 1.000 1.000 1.000 1.000 1.000 1.000 1.000 1.000 0.938 0.875 0.812 0.750 0.688 0.625 0.562 0.500 0.438 0.375 0.312 0.250 0.188 0.125 0.062 0.000 0.000 0.000 0.000 0.000 0.000 0.000 0.000 0.000 0.000 0.000 0.000 0.000 0.000 0.000 0.000 0.000 0.000 0.000 0.000 0.000 0.000 0.000 0.000 0.000"/></feComponentTransfer>
<feGaussianBlur stdDeviation="0.45"/>
</filter>
<clipPath id="c7"><rect x="73.8" y="1931" width="185.6" height="196.3"/></clipPath>
<clipPath id="c8"><rect x="319.1" y="1931" width="185.6" height="196.3"/></clipPath>
<clipPath id="c9"><rect x="564.4" y="1931" width="185.6" height="196.3"/></clipPath>
<clipPath id="c10"><rect x="810.6" y="1931" width="185.6" height="196.3"/></clipPath>
<clipPath id="c11"><rect x="1056.3" y="1931" width="185.6" height="196.3"/></clipPath>
<clipPath id="c12"><rect x="1301.9" y="1931" width="185.6" height="196.3"/></clipPath>
</defs>
<rect width="1535" height="2172" fill="#fff"/>
<text x="17" y="36.6" font-size="27.5" fill="#111" font-weight="bold">A</text>
<line x1="127" y1="343.12" x2="1364" y2="343.12" stroke="#e3e3e3" stroke-width="1.6"/>
<line x1="127" y1="243.75" x2="1364" y2="243.75" stroke="#e3e3e3" stroke-width="1.6"/>
<line x1="127" y1="144.38" x2="1364" y2="144.38" stroke="#e3e3e3" stroke-width="1.6"/>
<path d="M110,45 H1381 V442.5 H110 Z" fill="none" stroke="#111" stroke-width="2.2"/>
<line x1="110" y1="343.12" x2="126" y2="343.12" stroke="#111" stroke-width="2.2"/>
<line x1="1365" y1="343.12" x2="1381" y2="343.12" stroke="#111" stroke-width="2.2"/>
<line x1="110" y1="243.75" x2="126" y2="243.75" stroke="#111" stroke-width="2.2"/>
<line x1="1365" y1="243.75" x2="1381" y2="243.75" stroke="#111" stroke-width="2.2"/>
<line x1="110" y1="144.38" x2="126" y2="144.38" stroke="#111" stroke-width="2.2"/>
<line x1="1365" y1="144.38" x2="1381" y2="144.38" stroke="#111" stroke-width="2.2"/>
<text x="104.3" y="450.2" font-size="21.5" fill="#111" text-anchor="end">0</text>
<text x="104.3" y="350.82" font-size="21.5" fill="#111" text-anchor="end">15</text>
<text x="104.3" y="251.45" font-size="21.5" fill="#111" text-anchor="end">30</text>
<text x="104.3" y="152.07" font-size="21.5" fill="#111" text-anchor="end">45</text>
<text x="104.3" y="52.7" font-size="21.5" fill="#111" text-anchor="end">60</text>
<text x="1390" y="449.6" font-size="21.5" fill="#111">0</text>
<text x="1390" y="350.22" font-size="21.5" fill="#111">100</text>
<text x="1390" y="250.85" font-size="21.5" fill="#111">200</text>
<text x="1390" y="151.47" font-size="21.5" fill="#111">300</text>
<text x="1390" y="52.1" font-size="21.5" fill="#111">400</text>
<path d="M1465.5,43 H1455.5 V440.5 H1465.5" fill="none" stroke="#111" stroke-width="2.2"/>
<line x1="1455.5" y1="308" x2="1465.5" y2="308" stroke="#111" stroke-width="2.2"/>
<line x1="1455.5" y1="175.5" x2="1465.5" y2="175.5" stroke="#111" stroke-width="2.2"/>
<text x="1473.8" y="447.6" font-size="21.5" fill="#111">0</text>
<text x="1473.8" y="315.1" font-size="21.5" fill="#111">5</text>
<text x="1473.8" y="182.6" font-size="21.5" fill="#111">10</text>
<text x="1473.8" y="50.1" font-size="21.5" fill="#111">15</text>
<text x="74.3" y="248" font-size="21.5" fill="#111" text-anchor="middle" transform="rotate(-90 74.3 248)" textLength="215" lengthAdjust="spacingAndGlyphs">MDS-UPDRS III score</text>
<text x="1451.5" y="248.5" font-size="21.5" fill="#111" text-anchor="middle" transform="rotate(-90 1451.5 248.5)" textLength="93" lengthAdjust="spacingAndGlyphs"># of Taps</text>
<text x="1516.3" y="247" font-size="21.5" fill="#111" text-anchor="middle" transform="rotate(-90 1516.3 247)" textLength="164" lengthAdjust="spacingAndGlyphs">Time of TUGT (s)</text>
<line x1="268" y1="442.5" x2="268" y2="458.5" stroke="#111" stroke-width="2.2"/>
<text x="268" y="483.8" font-size="25.8" fill="#111" text-anchor="middle" font-weight="bold" textLength="207" lengthAdjust="spacingAndGlyphs">MED OFF - STIM ON</text>
<line x1="586" y1="442.5" x2="586" y2="458.5" stroke="#111" stroke-width="2.2"/>
<text x="586" y="483.8" font-size="25.8" fill="#111" text-anchor="middle" font-weight="bold" textLength="218" lengthAdjust="spacingAndGlyphs">MED OFF - STIM OFF</text>
<line x1="904" y1="442.5" x2="904" y2="458.5" stroke="#111" stroke-width="2.2"/>
<text x="904" y="483.8" font-size="25.8" fill="#111" text-anchor="middle" font-weight="bold" textLength="209" lengthAdjust="spacingAndGlyphs">MED ON - STIM OFF</text>
<line x1="1222" y1="442.5" x2="1222" y2="458.5" stroke="#111" stroke-width="2.2"/>
<text x="1222" y="483.8" font-size="25.8" fill="#111" text-anchor="middle" font-weight="bold" textLength="199" lengthAdjust="spacingAndGlyphs">MED ON - STIM ON</text>
<polyline points="268,172.6 586,206 649.5,192.8 713,248.8 776.3,273.3 840.5,294.8 904.2,296.6 1221.7,291.2" fill="none" stroke="#f5aa00" stroke-width="2" stroke-dasharray="5.6 4.2"/>
<polyline points="268,335.5 586,337 649.5,316 713,282.3 776.3,226.7 840.5,191.6 904.2,165.1 1221.7,153.6" fill="none" stroke="#ee1c24" stroke-width="2" stroke-dasharray="5.6 4.2"/>
<polyline points="268,335.5 586,184 904,355.7 1222,395.9" fill="none" stroke="#6a0cab" stroke-width="2" stroke-dasharray="5.6 4.2"/>
<circle cx="268" cy="172.6" r="8.2" fill="none" stroke="#f5aa00" stroke-width="2"/>
<circle cx="586" cy="206" r="8.2" fill="none" stroke="#f5aa00" stroke-width="2"/>
<circle cx="649.5" cy="192.8" r="8.2" fill="none" stroke="#f5aa00" stroke-width="2"/>
<circle cx="713" cy="248.8" r="8.2" fill="none" stroke="#f5aa00" stroke-width="2"/>
<circle cx="776.3" cy="273.3" r="8.2" fill="none" stroke="#f5aa00" stroke-width="2"/>
<circle cx="840.5" cy="294.8" r="8.2" fill="none" stroke="#f5aa00" stroke-width="2"/>
<circle cx="904.2" cy="296.6" r="8.2" fill="none" stroke="#f5aa00" stroke-width="2"/>
<circle cx="1221.7" cy="291.2" r="8.2" fill="none" stroke="#f5aa00" stroke-width="2"/>
<circle cx="268" cy="335.5" r="8.2" fill="none" stroke="#ee1c24" stroke-width="2"/>
<circle cx="586" cy="337" r="8.2" fill="none" stroke="#ee1c24" stroke-width="2"/>
<circle cx="649.5" cy="316" r="8.2" fill="none" stroke="#ee1c24" stroke-width="2"/>
<circle cx="713" cy="282.3" r="8.2" fill="none" stroke="#ee1c24" stroke-width="2"/>
<circle cx="776.3" cy="226.7" r="8.2" fill="none" stroke="#ee1c24" stroke-width="2"/>
<circle cx="840.5" cy="191.6" r="8.2" fill="none" stroke="#ee1c24" stroke-width="2"/>
<circle cx="904.2" cy="165.1" r="8.2" fill="none" stroke="#ee1c24" stroke-width="2"/>
<circle cx="1221.7" cy="153.6" r="8.2" fill="none" stroke="#ee1c24" stroke-width="2"/>
<circle cx="268" cy="335.5" r="8.2" fill="none" stroke="#6a0cab" stroke-width="2"/>
<circle cx="586" cy="184" r="8.2" fill="none" stroke="#6a0cab" stroke-width="2"/>
<circle cx="904" cy="355.7" r="8.2" fill="none" stroke="#6a0cab" stroke-width="2"/>
<circle cx="1222" cy="395.9" r="8.2" fill="none" stroke="#6a0cab" stroke-width="2"/>
<rect x="1130.5" y="54.5" width="242.5" height="75" fill="#fff" stroke="#111" stroke-width="2.2"/>
<line x1="1142" y1="73.7" x2="1186" y2="73.7" stroke="#6a0cab" stroke-width="2" stroke-dasharray="5.6 4.2" stroke-dashoffset="0"/>
<circle cx="1163.8" cy="73.7" r="8.2" fill="none" stroke="#6a0cab" stroke-width="2"/>
<text x="1211.2" y="81.6" font-size="21.5" fill="#111" textLength="142.5" lengthAdjust="spacingAndGlyphs">MDS-UPDRSIII</text>
<line x1="1142" y1="94.2" x2="1186" y2="94.2" stroke="#ee1c24" stroke-width="2" stroke-dasharray="5.6 4.2" stroke-dashoffset="0"/>
<circle cx="1163.8" cy="94.2" r="8.2" fill="none" stroke="#ee1c24" stroke-width="2"/>
<text x="1211.2" y="102.3" font-size="21.5" fill="#111" textLength="78" lengthAdjust="spacingAndGlyphs">Tapping</text>
<line x1="1142" y1="116.6" x2="1186" y2="116.6" stroke="#f5aa00" stroke-width="2" stroke-dasharray="5.6 4.2" stroke-dashoffset="0"/>
<circle cx="1163.8" cy="116.6" r="8.2" fill="none" stroke="#f5aa00" stroke-width="2"/>
<text x="1211.2" y="124.3" font-size="21.5" fill="#111" textLength="58" lengthAdjust="spacingAndGlyphs">TUGT</text>
<text x="18" y="533.5" font-size="25" fill="#111" font-weight="bold">B</text>
<line x1="172.82" y1="742" x2="71.1" y2="818.6" stroke="#3d9a9a" stroke-width="1.2" stroke-dasharray="1.2 2.6"/>
<line x1="172.82" y1="742" x2="254.9" y2="818.6" stroke="#8a8a8a" stroke-width="1.2" stroke-dasharray="1.2 2.6"/>
<line x1="541.86" y1="742" x2="314" y2="818.6" stroke="#3d9a9a" stroke-width="1.2" stroke-dasharray="1.2 2.6"/>
<line x1="541.86" y1="742" x2="497.8" y2="818.6" stroke="#8a8a8a" stroke-width="1.2" stroke-dasharray="1.2 2.6"/>
<line x1="842.55" y1="742" x2="556.9" y2="818.6" stroke="#3d9a9a" stroke-width="1.2" stroke-dasharray="1.2 2.6"/>
<line x1="842.55" y1="742" x2="740.7" y2="818.6" stroke="#8a8a8a" stroke-width="1.2" stroke-dasharray="1.2 2.6"/>
<line x1="958.73" y1="742" x2="800.5" y2="818.6" stroke="#3d9a9a" stroke-width="1.2" stroke-dasharray="1.2 2.6"/>
<line x1="958.73" y1="742" x2="984.3" y2="818.6" stroke="#8a8a8a" stroke-width="1.2" stroke-dasharray="1.2 2.6"/>
<line x1="1143.25" y1="742" x2="1043.8" y2="818.6" stroke="#3d9a9a" stroke-width="1.2" stroke-dasharray="1.2 2.6"/>
<line x1="1143.25" y1="742" x2="1227.6" y2="818.6" stroke="#8a8a8a" stroke-width="1.2" stroke-dasharray="1.2 2.6"/>
<line x1="1430.28" y1="742" x2="1286.7" y2="818.6" stroke="#3d9a9a" stroke-width="1.2" stroke-dasharray="1.2 2.6"/>
<line x1="1430.28" y1="742" x2="1470.5" y2="818.6" stroke="#8a8a8a" stroke-width="1.2" stroke-dasharray="1.2 2.6"/>
<rect x="169.32" y="546" width="7" height="195" fill="#d9d9d9"/>
<rect x="538.36" y="546" width="7" height="195" fill="#d9d9d9"/>
<rect x="839.05" y="546" width="7" height="195" fill="#d9d9d9"/>
<rect x="955.23" y="546" width="7" height="195" fill="#d9d9d9"/>
<rect x="1139.75" y="546" width="7" height="195" fill="#d9d9d9"/>
<rect x="1426.78" y="546" width="7" height="195" fill="#d9d9d9"/>
<line x1="309.5" y1="546" x2="309.5" y2="741" stroke="#7a7a7a" stroke-width="1.4"/>
<line x1="651.2" y1="546" x2="651.2" y2="741" stroke="#7a7a7a" stroke-width="1.4"/>
<line x1="1266.26" y1="546" x2="1266.26" y2="741" stroke="#7a7a7a" stroke-width="1.4"/>
<polyline points="84,732.6 494.2,732.6 651.1,732.6 753.7,615.7 856,579.1 958.7,579.1 1061.1,608.7 1164.1,619.9 1267.2,655.5" fill="none" stroke="#333" stroke-width="1.2" stroke-dasharray="9 5.5"/>
<polyline points="172.8,742 541.7,708.9 842.5,715.6 958.7,642 1143.5,546.5 1430.5,706" fill="none" stroke="#de6a2f" stroke-width="1.2" stroke-dasharray="9 5.5"/>
<polyline points="172.8,632.1 541.7,680.4 842.5,678 958.7,725.8 1143.5,719.2 1430.5,675" fill="none" stroke="#3b98d4" stroke-width="1.3" stroke-dasharray="9 5.5"/>
<line x1="71.1" y1="546" x2="1471.3" y2="546" stroke="#262626" stroke-width="1.5"/>
<line x1="71.1" y1="741" x2="1471.3" y2="741" stroke="#262626" stroke-width="1.5"/>
<line x1="1471.3" y1="546" x2="1471.3" y2="741" stroke="#262626" stroke-width="1.5"/>
<line x1="71.1" y1="546" x2="71.1" y2="741" stroke="#2f8fd0" stroke-width="1.3"/>
<line x1="104.48" y1="741" x2="104.48" y2="728" stroke="#262626" stroke-width="1.1"/>
<line x1="104.48" y1="546" x2="104.48" y2="559" stroke="#262626" stroke-width="1.1"/>
<text x="104.48" y="759.26" font-size="13.3" fill="#262626" text-anchor="middle">-80</text>
<line x1="241.16" y1="741" x2="241.16" y2="728" stroke="#262626" stroke-width="1.1"/>
<line x1="241.16" y1="546" x2="241.16" y2="559" stroke="#262626" stroke-width="1.1"/>
<text x="241.16" y="759.26" font-size="13.3" fill="#262626" text-anchor="middle">-60</text>
<line x1="377.84" y1="741" x2="377.84" y2="728" stroke="#262626" stroke-width="1.1"/>
<line x1="377.84" y1="546" x2="377.84" y2="559" stroke="#262626" stroke-width="1.1"/>
<text x="377.84" y="759.26" font-size="13.3" fill="#262626" text-anchor="middle">-40</text>
<line x1="514.52" y1="741" x2="514.52" y2="728" stroke="#262626" stroke-width="1.1"/>
<line x1="514.52" y1="546" x2="514.52" y2="559" stroke="#262626" stroke-width="1.1"/>
<text x="514.52" y="759.26" font-size="13.3" fill="#262626" text-anchor="middle">-20</text>
<line x1="651.2" y1="741" x2="651.2" y2="728" stroke="#262626" stroke-width="1.1"/>
<line x1="651.2" y1="546" x2="651.2" y2="559" stroke="#262626" stroke-width="1.1"/>
<text x="651.2" y="759.26" font-size="13.3" fill="#262626" text-anchor="middle">0</text>
<line x1="787.88" y1="741" x2="787.88" y2="728" stroke="#262626" stroke-width="1.1"/>
<line x1="787.88" y1="546" x2="787.88" y2="559" stroke="#262626" stroke-width="1.1"/>
<text x="787.88" y="759.26" font-size="13.3" fill="#262626" text-anchor="middle">20</text>
<line x1="924.56" y1="741" x2="924.56" y2="728" stroke="#262626" stroke-width="1.1"/>
<line x1="924.56" y1="546" x2="924.56" y2="559" stroke="#262626" stroke-width="1.1"/>
<text x="924.56" y="759.26" font-size="13.3" fill="#262626" text-anchor="middle">40</text>
<line x1="1061.24" y1="741" x2="1061.24" y2="728" stroke="#262626" stroke-width="1.1"/>
<line x1="1061.24" y1="546" x2="1061.24" y2="559" stroke="#262626" stroke-width="1.1"/>
<text x="1061.24" y="759.26" font-size="13.3" fill="#262626" text-anchor="middle">60</text>
<line x1="1197.92" y1="741" x2="1197.92" y2="728" stroke="#262626" stroke-width="1.1"/>
<line x1="1197.92" y1="546" x2="1197.92" y2="559" stroke="#262626" stroke-width="1.1"/>
<text x="1197.92" y="759.26" font-size="13.3" fill="#262626" text-anchor="middle">80</text>
<line x1="1334.6" y1="741" x2="1334.6" y2="728" stroke="#262626" stroke-width="1.1"/>
<line x1="1334.6" y1="546" x2="1334.6" y2="559" stroke="#262626" stroke-width="1.1"/>
<text x="1334.6" y="759.26" font-size="13.3" fill="#262626" text-anchor="middle">100</text>
<text x="1471.28" y="759.26" font-size="13.3" fill="#262626" text-anchor="middle">120</text>
<line x1="71.1" y1="726.3" x2="84.1" y2="726.3" stroke="#2f8fd0" stroke-width="1.2"/>
<text x="64.6" y="731.06" font-size="13.3" fill="#2f8fd0" text-anchor="end">2</text>
<line x1="71.1" y1="685.5" x2="84.1" y2="685.5" stroke="#2f8fd0" stroke-width="1.2"/>
<text x="64.6" y="690.26" font-size="13.3" fill="#2f8fd0" text-anchor="end">3</text>
<line x1="71.1" y1="644.7" x2="84.1" y2="644.7" stroke="#2f8fd0" stroke-width="1.2"/>
<text x="64.6" y="649.46" font-size="13.3" fill="#2f8fd0" text-anchor="end">4</text>
<line x1="71.1" y1="603.9" x2="84.1" y2="603.9" stroke="#2f8fd0" stroke-width="1.2"/>
<text x="64.6" y="608.66" font-size="13.3" fill="#2f8fd0" text-anchor="end">5</text>
<line x1="71.1" y1="563.1" x2="84.1" y2="563.1" stroke="#2f8fd0" stroke-width="1.2"/>
<text x="64.6" y="567.86" font-size="13.3" fill="#2f8fd0" text-anchor="end">6</text>
<line x1="1458.3" y1="741.6" x2="1471.3" y2="741.6" stroke="#262626" stroke-width="1.1"/>
<text x="1477.3" y="746.36" font-size="13.3" fill="#262626">0</text>
<line x1="1458.3" y1="692.75" x2="1471.3" y2="692.75" stroke="#262626" stroke-width="1.1"/>
<text x="1477.3" y="697.51" font-size="13.3" fill="#262626">0.5</text>
<line x1="1458.3" y1="643.9" x2="1471.3" y2="643.9" stroke="#262626" stroke-width="1.1"/>
<text x="1477.3" y="648.66" font-size="13.3" fill="#262626">1</text>
<line x1="1458.3" y1="595.05" x2="1471.3" y2="595.05" stroke="#262626" stroke-width="1.1"/>
<text x="1477.3" y="599.81" font-size="13.3" fill="#262626">1.5</text>
<line x1="1458.3" y1="546.2" x2="1471.3" y2="546.2" stroke="#262626" stroke-width="1.1"/>
<text x="1477.3" y="550.96" font-size="13.3" fill="#262626">2</text>
<path d="M84,728.4 L87.57,732.6 L84,736.8 L80.43,732.6 Z" fill="none" stroke="#111" stroke-width="1.1"/>
<path d="M494.2,728.4 L497.77,732.6 L494.2,736.8 L490.63,732.6 Z" fill="none" stroke="#111" stroke-width="1.1"/>
<path d="M651.1,728.4 L654.67,732.6 L651.1,736.8 L647.53,732.6 Z" fill="none" stroke="#111" stroke-width="1.1"/>
<path d="M753.7,611.5 L757.27,615.7 L753.7,619.9 L750.13,615.7 Z" fill="none" stroke="#111" stroke-width="1.1"/>
<path d="M856,574.9 L859.57,579.1 L856,583.3 L852.43,579.1 Z" fill="none" stroke="#111" stroke-width="1.1"/>
<path d="M958.7,574.9 L962.27,579.1 L958.7,583.3 L955.13,579.1 Z" fill="none" stroke="#111" stroke-width="1.1"/>
<path d="M1061.1,604.5 L1064.67,608.7 L1061.1,612.9 L1057.53,608.7 Z" fill="none" stroke="#111" stroke-width="1.1"/>
<path d="M1164.1,615.7 L1167.67,619.9 L1164.1,624.1 L1160.53,619.9 Z" fill="none" stroke="#111" stroke-width="1.1"/>
<path d="M1267.2,651.3 L1270.77,655.5 L1267.2,659.7 L1263.63,655.5 Z" fill="none" stroke="#111" stroke-width="1.1"/>
<rect x="169.8" y="739" width="6" height="6" fill="none" stroke="#de6a2f" stroke-width="1.1"/>
<rect x="538.7" y="705.9" width="6" height="6" fill="none" stroke="#de6a2f" stroke-width="1.1"/>
<rect x="839.5" y="712.6" width="6" height="6" fill="none" stroke="#de6a2f" stroke-width="1.1"/>
<rect x="955.7" y="639" width="6" height="6" fill="none" stroke="#de6a2f" stroke-width="1.1"/>
<rect x="1140.5" y="543.5" width="6" height="6" fill="none" stroke="#de6a2f" stroke-width="1.1"/>
<rect x="1427.5" y="703" width="6" height="6" fill="none" stroke="#de6a2f" stroke-width="1.1"/>
<circle cx="172.8" cy="632.1" r="3.8" fill="none" stroke="#3b98d4" stroke-width="1.1"/>
<circle cx="541.7" cy="680.4" r="3.8" fill="none" stroke="#3b98d4" stroke-width="1.1"/>
<circle cx="842.5" cy="678" r="3.8" fill="none" stroke="#3b98d4" stroke-width="1.1"/>
<circle cx="958.7" cy="725.8" r="3.8" fill="none" stroke="#3b98d4" stroke-width="1.1"/>
<circle cx="1143.5" cy="719.2" r="3.8" fill="none" stroke="#3b98d4" stroke-width="1.1"/>
<circle cx="1430.5" cy="675" r="3.8" fill="none" stroke="#3b98d4" stroke-width="1.1"/>
<text x="325.5" y="550.8" font-size="12.8" fill="#262626" text-anchor="end" transform="rotate(-90 325.5 550.8)">Stim OFF</text>
<text x="667.2" y="550.8" font-size="12.8" fill="#262626" text-anchor="end" transform="rotate(-90 667.2 550.8)">Levodopa</text>
<text x="682.6" y="550.8" font-size="12.8" fill="#262626" text-anchor="end" transform="rotate(-90 682.6 550.8)">Intake</text>
<text x="1282.26" y="550.8" font-size="12.8" fill="#262626" text-anchor="end" transform="rotate(-90 1282.26 550.8)">Stim ON</text>
<text x="51.5" y="644" font-size="13.3" fill="#2f8fd0" text-anchor="middle" transform="rotate(-90 51.5 644)">Relative spectral power (%)</text>
<text x="1512.4" y="644" font-size="13.3" fill="#262626" text-anchor="middle" transform="rotate(-90 1512.4 644)">L-dopa concentration (ug/ml)</text>
<text x="770.9" y="775.96" font-size="13.3" fill="#262626" text-anchor="middle">Time from L-dopa intake (min)</text>
<rect x="1303.4" y="561.4" width="154" height="46.1" fill="#fff" stroke="#262626" stroke-width="1.1"/>
<line x1="1307.4" y1="570.2" x2="1316.4" y2="570.2" stroke="#3b98d4" stroke-width="1.3"/>
<line x1="1334.4" y1="570.2" x2="1344.9" y2="570.2" stroke="#3b98d4" stroke-width="1.3"/>
<circle cx="1325.9" cy="570.2" r="3.8" fill="none" stroke="#3b98d4" stroke-width="1.1"/>
<line x1="1322.4" y1="570.2" x2="1329.4" y2="570.2" stroke="#3b98d4" stroke-width="1.1"/>
<text x="1347.9" y="573.99" font-size="10.6" fill="#262626">Peak in band 10-16Hz</text>
<line x1="1307.4" y1="584.8" x2="1316.4" y2="584.8" stroke="#de6a2f" stroke-width="1.3"/>
<line x1="1334.4" y1="584.8" x2="1344.9" y2="584.8" stroke="#de6a2f" stroke-width="1.3"/>
<rect x="1322.9" y="581.8" width="6" height="6" fill="none" stroke="#de6a2f" stroke-width="1.1"/>
<line x1="1322.9" y1="584.8" x2="1328.9" y2="584.8" stroke="#de6a2f" stroke-width="1.1"/>
<text x="1347.9" y="588.59" font-size="10.6" fill="#262626">Peak in band 26-34Hz</text>
<line x1="1307.4" y1="599.2" x2="1316.4" y2="599.2" stroke="#333" stroke-width="1.3"/>
<line x1="1334.4" y1="599.2" x2="1344.9" y2="599.2" stroke="#333" stroke-width="1.3"/>
<path d="M1325.9,595 L1329.47,599.2 L1325.9,603.4 L1322.33,599.2 Z" fill="none" stroke="#111" stroke-width="1.1"/>
<line x1="1322.4" y1="599.2" x2="1329.4" y2="599.2" stroke="#111" stroke-width="1.1"/>
<text x="1347.9" y="602.99" font-size="10.6" fill="#262626">L-dopa concentration</text>
<rect x="71.1" y="818.6" width="183.8" height="194.4" fill="url(#g1)" filter="url(#f1)"/>
<rect x="71.1" y="818.6" width="183.8" height="194.4" fill="none" stroke="#262626" stroke-width="1.1"/>
<line x1="71.1" y1="1013" x2="73.1" y2="1013" stroke="#262626" stroke-width="1"/>
<line x1="252.9" y1="1013" x2="254.9" y2="1013" stroke="#262626" stroke-width="1"/>
<text x="65.1" y="1017.76" font-size="13.3" fill="#262626" text-anchor="end">0</text>
<line x1="71.1" y1="964.4" x2="73.1" y2="964.4" stroke="#262626" stroke-width="1"/>
<line x1="252.9" y1="964.4" x2="254.9" y2="964.4" stroke="#262626" stroke-width="1"/>
<text x="65.1" y="969.16" font-size="13.3" fill="#262626" text-anchor="end">20</text>
<line x1="71.1" y1="915.8" x2="73.1" y2="915.8" stroke="#262626" stroke-width="1"/>
<line x1="252.9" y1="915.8" x2="254.9" y2="915.8" stroke="#262626" stroke-width="1"/>
<text x="65.1" y="920.56" font-size="13.3" fill="#262626" text-anchor="end">40</text>
<line x1="71.1" y1="867.2" x2="73.1" y2="867.2" stroke="#262626" stroke-width="1"/>
<line x1="252.9" y1="867.2" x2="254.9" y2="867.2" stroke="#262626" stroke-width="1"/>
<text x="65.1" y="871.96" font-size="13.3" fill="#262626" text-anchor="end">60</text>
<line x1="71.1" y1="818.6" x2="73.1" y2="818.6" stroke="#262626" stroke-width="1"/>
<line x1="252.9" y1="818.6" x2="254.9" y2="818.6" stroke="#262626" stroke-width="1"/>
<text x="65.1" y="823.36" font-size="13.3" fill="#262626" text-anchor="end">80</text>
<line x1="121.32" y1="1013" x2="121.32" y2="1011" stroke="#262626" stroke-width="1"/>
<line x1="121.32" y1="818.6" x2="121.32" y2="820.6" stroke="#262626" stroke-width="1"/>
<text x="121.32" y="1030.96" font-size="13.3" fill="#262626" text-anchor="middle">50</text>
<line x1="173.1" y1="1013" x2="173.1" y2="1011" stroke="#262626" stroke-width="1"/>
<line x1="173.1" y1="818.6" x2="173.1" y2="820.6" stroke="#262626" stroke-width="1"/>
<text x="173.1" y="1030.96" font-size="13.3" fill="#262626" text-anchor="middle">100</text>
<line x1="224.87" y1="1013" x2="224.87" y2="1011" stroke="#262626" stroke-width="1"/>
<line x1="224.87" y1="818.6" x2="224.87" y2="820.6" stroke="#262626" stroke-width="1"/>
<text x="224.87" y="1030.96" font-size="13.3" fill="#262626" text-anchor="middle">150</text>
<text x="163" y="1047.26" font-size="13.3" fill="#262626" text-anchor="middle">Time (sec)</text>
<text x="163" y="811.36" font-size="13.3" fill="#111" text-anchor="middle" font-weight="bold">MED OFF - STIM ON</text>
<text x="46.6" y="915.8" font-size="13.3" fill="#262626" text-anchor="middle" transform="rotate(-90 46.6 915.8)">f (Hz)</text>
<rect x="314" y="818.6" width="183.8" height="194.4" fill="url(#g2)" filter="url(#f2)"/>
<rect x="314" y="818.6" width="183.8" height="194.4" fill="none" stroke="#262626" stroke-width="1.1"/>
<line x1="314" y1="1013" x2="316" y2="1013" stroke="#262626" stroke-width="1"/>
<line x1="495.8" y1="1013" x2="497.8" y2="1013" stroke="#262626" stroke-width="1"/>
<text x="308" y="1017.76" font-size="13.3" fill="#262626" text-anchor="end">0</text>
<line x1="314" y1="964.4" x2="316" y2="964.4" stroke="#262626" stroke-width="1"/>
<line x1="495.8" y1="964.4" x2="497.8" y2="964.4" stroke="#262626" stroke-width="1"/>
<text x="308" y="969.16" font-size="13.3" fill="#262626" text-anchor="end">20</text>
<line x1="314" y1="915.8" x2="316" y2="915.8" stroke="#262626" stroke-width="1"/>
<line x1="495.8" y1="915.8" x2="497.8" y2="915.8" stroke="#262626" stroke-width="1"/>
<text x="308" y="920.56" font-size="13.3" fill="#262626" text-anchor="end">40</text>
<line x1="314" y1="867.2" x2="316" y2="867.2" stroke="#262626" stroke-width="1"/>
<line x1="495.8" y1="867.2" x2="497.8" y2="867.2" stroke="#262626" stroke-width="1"/>
<text x="308" y="871.96" font-size="13.3" fill="#262626" text-anchor="end">60</text>
<line x1="314" y1="818.6" x2="316" y2="818.6" stroke="#262626" stroke-width="1"/>
<line x1="495.8" y1="818.6" x2="497.8" y2="818.6" stroke="#262626" stroke-width="1"/>
<text x="308" y="823.36" font-size="13.3" fill="#262626" text-anchor="end">80</text>
<line x1="364.22" y1="1013" x2="364.22" y2="1011" stroke="#262626" stroke-width="1"/>
<line x1="364.22" y1="818.6" x2="364.22" y2="820.6" stroke="#262626" stroke-width="1"/>
<text x="364.22" y="1030.96" font-size="13.3" fill="#262626" text-anchor="middle">50</text>
<line x1="416" y1="1013" x2="416" y2="1011" stroke="#262626" stroke-width="1"/>
<line x1="416" y1="818.6" x2="416" y2="820.6" stroke="#262626" stroke-width="1"/>
<text x="416" y="1030.96" font-size="13.3" fill="#262626" text-anchor="middle">100</text>
<line x1="467.77" y1="1013" x2="467.77" y2="1011" stroke="#262626" stroke-width="1"/>
<line x1="467.77" y1="818.6" x2="467.77" y2="820.6" stroke="#262626" stroke-width="1"/>
<text x="467.77" y="1030.96" font-size="13.3" fill="#262626" text-anchor="middle">150</text>
<text x="405.9" y="1047.26" font-size="13.3" fill="#262626" text-anchor="middle">Time (sec)</text>
<text x="405.9" y="811.36" font-size="13.3" fill="#111" text-anchor="middle" font-weight="bold">MED OFF - STIM OFF</text>
<rect x="556.9" y="818.6" width="183.8" height="194.4" fill="url(#g3)" filter="url(#f3)"/>
<rect x="556.9" y="818.6" width="183.8" height="194.4" fill="none" stroke="#262626" stroke-width="1.1"/>
<line x1="556.9" y1="1013" x2="558.9" y2="1013" stroke="#262626" stroke-width="1"/>
<line x1="738.7" y1="1013" x2="740.7" y2="1013" stroke="#262626" stroke-width="1"/>
<text x="550.9" y="1017.76" font-size="13.3" fill="#262626" text-anchor="end">0</text>
<line x1="556.9" y1="964.4" x2="558.9" y2="964.4" stroke="#262626" stroke-width="1"/>
<line x1="738.7" y1="964.4" x2="740.7" y2="964.4" stroke="#262626" stroke-width="1"/>
<text x="550.9" y="969.16" font-size="13.3" fill="#262626" text-anchor="end">20</text>
<line x1="556.9" y1="915.8" x2="558.9" y2="915.8" stroke="#262626" stroke-width="1"/>
<line x1="738.7" y1="915.8" x2="740.7" y2="915.8" stroke="#262626" stroke-width="1"/>
<text x="550.9" y="920.56" font-size="13.3" fill="#262626" text-anchor="end">40</text>
<line x1="556.9" y1="867.2" x2="558.9" y2="867.2" stroke="#262626" stroke-width="1"/>
<line x1="738.7" y1="867.2" x2="740.7" y2="867.2" stroke="#262626" stroke-width="1"/>
<text x="550.9" y="871.96" font-size="13.3" fill="#262626" text-anchor="end">60</text>
<line x1="556.9" y1="818.6" x2="558.9" y2="818.6" stroke="#262626" stroke-width="1"/>
<line x1="738.7" y1="818.6" x2="740.7" y2="818.6" stroke="#262626" stroke-width="1"/>
<text x="550.9" y="823.36" font-size="13.3" fill="#262626" text-anchor="end">80</text>
<line x1="607.12" y1="1013" x2="607.12" y2="1011" stroke="#262626" stroke-width="1"/>
<line x1="607.12" y1="818.6" x2="607.12" y2="820.6" stroke="#262626" stroke-width="1"/>
<text x="607.12" y="1030.96" font-size="13.3" fill="#262626" text-anchor="middle">50</text>
<line x1="658.9" y1="1013" x2="658.9" y2="1011" stroke="#262626" stroke-width="1"/>
<line x1="658.9" y1="818.6" x2="658.9" y2="820.6" stroke="#262626" stroke-width="1"/>
<text x="658.9" y="1030.96" font-size="13.3" fill="#262626" text-anchor="middle">100</text>
<line x1="710.67" y1="1013" x2="710.67" y2="1011" stroke="#262626" stroke-width="1"/>
<line x1="710.67" y1="818.6" x2="710.67" y2="820.6" stroke="#262626" stroke-width="1"/>
<text x="710.67" y="1030.96" font-size="13.3" fill="#262626" text-anchor="middle">150</text>
<text x="648.8" y="1047.26" font-size="13.3" fill="#262626" text-anchor="middle">Time (sec)</text>
<text x="648.8" y="811.36" font-size="13.3" fill="#111" text-anchor="middle" font-weight="bold">MED ON - STIM OFF (1)</text>
<rect x="800.5" y="818.6" width="183.8" height="194.4" fill="url(#g4)" filter="url(#f4)"/>
<rect x="800.5" y="818.6" width="183.8" height="194.4" fill="none" stroke="#262626" stroke-width="1.1"/>
<line x1="800.5" y1="1013" x2="802.5" y2="1013" stroke="#262626" stroke-width="1"/>
<line x1="982.3" y1="1013" x2="984.3" y2="1013" stroke="#262626" stroke-width="1"/>
<text x="794.5" y="1017.76" font-size="13.3" fill="#262626" text-anchor="end">0</text>
<line x1="800.5" y1="964.4" x2="802.5" y2="964.4" stroke="#262626" stroke-width="1"/>
<line x1="982.3" y1="964.4" x2="984.3" y2="964.4" stroke="#262626" stroke-width="1"/>
<text x="794.5" y="969.16" font-size="13.3" fill="#262626" text-anchor="end">20</text>
<line x1="800.5" y1="915.8" x2="802.5" y2="915.8" stroke="#262626" stroke-width="1"/>
<line x1="982.3" y1="915.8" x2="984.3" y2="915.8" stroke="#262626" stroke-width="1"/>
<text x="794.5" y="920.56" font-size="13.3" fill="#262626" text-anchor="end">40</text>
<line x1="800.5" y1="867.2" x2="802.5" y2="867.2" stroke="#262626" stroke-width="1"/>
<line x1="982.3" y1="867.2" x2="984.3" y2="867.2" stroke="#262626" stroke-width="1"/>
<text x="794.5" y="871.96" font-size="13.3" fill="#262626" text-anchor="end">60</text>
<line x1="800.5" y1="818.6" x2="802.5" y2="818.6" stroke="#262626" stroke-width="1"/>
<line x1="982.3" y1="818.6" x2="984.3" y2="818.6" stroke="#262626" stroke-width="1"/>
<text x="794.5" y="823.36" font-size="13.3" fill="#262626" text-anchor="end">80</text>
<line x1="850.72" y1="1013" x2="850.72" y2="1011" stroke="#262626" stroke-width="1"/>
<line x1="850.72" y1="818.6" x2="850.72" y2="820.6" stroke="#262626" stroke-width="1"/>
<text x="850.72" y="1030.96" font-size="13.3" fill="#262626" text-anchor="middle">50</text>
<line x1="902.5" y1="1013" x2="902.5" y2="1011" stroke="#262626" stroke-width="1"/>
<line x1="902.5" y1="818.6" x2="902.5" y2="820.6" stroke="#262626" stroke-width="1"/>
<text x="902.5" y="1030.96" font-size="13.3" fill="#262626" text-anchor="middle">100</text>
<line x1="954.27" y1="1013" x2="954.27" y2="1011" stroke="#262626" stroke-width="1"/>
<line x1="954.27" y1="818.6" x2="954.27" y2="820.6" stroke="#262626" stroke-width="1"/>
<text x="954.27" y="1030.96" font-size="13.3" fill="#262626" text-anchor="middle">150</text>
<text x="892.4" y="1047.26" font-size="13.3" fill="#262626" text-anchor="middle">Time (sec)</text>
<text x="892.4" y="811.36" font-size="13.3" fill="#111" text-anchor="middle" font-weight="bold">MED ON - STIM OFF (2)</text>
<rect x="1043.8" y="818.6" width="183.8" height="194.4" fill="url(#g5)" filter="url(#f5)"/>
<rect x="1043.8" y="818.6" width="183.8" height="194.4" fill="none" stroke="#262626" stroke-width="1.1"/>
<line x1="1043.8" y1="1013" x2="1045.8" y2="1013" stroke="#262626" stroke-width="1"/>
<line x1="1225.6" y1="1013" x2="1227.6" y2="1013" stroke="#262626" stroke-width="1"/>
<text x="1037.8" y="1017.76" font-size="13.3" fill="#262626" text-anchor="end">0</text>
<line x1="1043.8" y1="964.4" x2="1045.8" y2="964.4" stroke="#262626" stroke-width="1"/>
<line x1="1225.6" y1="964.4" x2="1227.6" y2="964.4" stroke="#262626" stroke-width="1"/>
<text x="1037.8" y="969.16" font-size="13.3" fill="#262626" text-anchor="end">20</text>
<line x1="1043.8" y1="915.8" x2="1045.8" y2="915.8" stroke="#262626" stroke-width="1"/>
<line x1="1225.6" y1="915.8" x2="1227.6" y2="915.8" stroke="#262626" stroke-width="1"/>
<text x="1037.8" y="920.56" font-size="13.3" fill="#262626" text-anchor="end">40</text>
<line x1="1043.8" y1="867.2" x2="1045.8" y2="867.2" stroke="#262626" stroke-width="1"/>
<line x1="1225.6" y1="867.2" x2="1227.6" y2="867.2" stroke="#262626" stroke-width="1"/>
<text x="1037.8" y="871.96" font-size="13.3" fill="#262626" text-anchor="end">60</text>
<line x1="1043.8" y1="818.6" x2="1045.8" y2="818.6" stroke="#262626" stroke-width="1"/>
<line x1="1225.6" y1="818.6" x2="1227.6" y2="818.6" stroke="#262626" stroke-width="1"/>
<text x="1037.8" y="823.36" font-size="13.3" fill="#262626" text-anchor="end">80</text>
<line x1="1094.02" y1="1013" x2="1094.02" y2="1011" stroke="#262626" stroke-width="1"/>
<line x1="1094.02" y1="818.6" x2="1094.02" y2="820.6" stroke="#262626" stroke-width="1"/>
<text x="1094.02" y="1030.96" font-size="13.3" fill="#262626" text-anchor="middle">50</text>
<line x1="1145.8" y1="1013" x2="1145.8" y2="1011" stroke="#262626" stroke-width="1"/>
<line x1="1145.8" y1="818.6" x2="1145.8" y2="820.6" stroke="#262626" stroke-width="1"/>
<text x="1145.8" y="1030.96" font-size="13.3" fill="#262626" text-anchor="middle">100</text>
<line x1="1197.57" y1="1013" x2="1197.57" y2="1011" stroke="#262626" stroke-width="1"/>
<line x1="1197.57" y1="818.6" x2="1197.57" y2="820.6" stroke="#262626" stroke-width="1"/>
<text x="1197.57" y="1030.96" font-size="13.3" fill="#262626" text-anchor="middle">150</text>
<text x="1135.7" y="1047.26" font-size="13.3" fill="#262626" text-anchor="middle">Time (sec)</text>
<text x="1135.7" y="811.36" font-size="13.3" fill="#111" text-anchor="middle" font-weight="bold">MED ON - STIM OFF (3)</text>
<rect x="1286.7" y="818.6" width="183.8" height="194.4" fill="url(#g6)" filter="url(#f6)"/>
<rect x="1286.7" y="818.6" width="183.8" height="194.4" fill="none" stroke="#262626" stroke-width="1.1"/>
<line x1="1286.7" y1="1013" x2="1288.7" y2="1013" stroke="#262626" stroke-width="1"/>
<line x1="1468.5" y1="1013" x2="1470.5" y2="1013" stroke="#262626" stroke-width="1"/>
<text x="1280.7" y="1017.76" font-size="13.3" fill="#262626" text-anchor="end">0</text>
<line x1="1286.7" y1="964.4" x2="1288.7" y2="964.4" stroke="#262626" stroke-width="1"/>
<line x1="1468.5" y1="964.4" x2="1470.5" y2="964.4" stroke="#262626" stroke-width="1"/>
<text x="1280.7" y="969.16" font-size="13.3" fill="#262626" text-anchor="end">20</text>
<line x1="1286.7" y1="915.8" x2="1288.7" y2="915.8" stroke="#262626" stroke-width="1"/>
<line x1="1468.5" y1="915.8" x2="1470.5" y2="915.8" stroke="#262626" stroke-width="1"/>
<text x="1280.7" y="920.56" font-size="13.3" fill="#262626" text-anchor="end">40</text>
<line x1="1286.7" y1="867.2" x2="1288.7" y2="867.2" stroke="#262626" stroke-width="1"/>
<line x1="1468.5" y1="867.2" x2="1470.5" y2="867.2" stroke="#262626" stroke-width="1"/>
<text x="1280.7" y="871.96" font-size="13.3" fill="#262626" text-anchor="end">60</text>
<line x1="1286.7" y1="818.6" x2="1288.7" y2="818.6" stroke="#262626" stroke-width="1"/>
<line x1="1468.5" y1="818.6" x2="1470.5" y2="818.6" stroke="#262626" stroke-width="1"/>
<text x="1280.7" y="823.36" font-size="13.3" fill="#262626" text-anchor="end">80</text>
<line x1="1336.92" y1="1013" x2="1336.92" y2="1011" stroke="#262626" stroke-width="1"/>
<line x1="1336.92" y1="818.6" x2="1336.92" y2="820.6" stroke="#262626" stroke-width="1"/>
<text x="1336.92" y="1030.96" font-size="13.3" fill="#262626" text-anchor="middle">50</text>
<line x1="1388.7" y1="1013" x2="1388.7" y2="1011" stroke="#262626" stroke-width="1"/>
<line x1="1388.7" y1="818.6" x2="1388.7" y2="820.6" stroke="#262626" stroke-width="1"/>
<text x="1388.7" y="1030.96" font-size="13.3" fill="#262626" text-anchor="middle">100</text>
<line x1="1440.47" y1="1013" x2="1440.47" y2="1011" stroke="#262626" stroke-width="1"/>
<line x1="1440.47" y1="818.6" x2="1440.47" y2="820.6" stroke="#262626" stroke-width="1"/>
<text x="1440.47" y="1030.96" font-size="13.3" fill="#262626" text-anchor="middle">150</text>
<text x="1378.6" y="1047.26" font-size="13.3" fill="#262626" text-anchor="middle">Time (sec)</text>
<text x="1378.6" y="811.36" font-size="13.3" fill="#111" text-anchor="middle" font-weight="bold">MED ON - STIM ON</text>
<line x1="98.67" y1="1089.6" x2="98.67" y2="1285.2" stroke="#8484ff" stroke-width="1.1" stroke-dasharray="1.5 2.2"/>
<line x1="144.62" y1="1089.6" x2="144.62" y2="1285.2" stroke="#ff8484" stroke-width="1.1" stroke-dasharray="1.5 2.2"/>
<path d="M71.1,1181.53 C71.29,1167.84 71.87,1119.59 72.25,1099.38 C72.63,1079.17 72.82,1065.15 73.4,1060.26 C73.97,1055.37 75.08,1065.15 75.69,1070.04 C76.31,1074.93 76.58,1076.56 77.07,1089.6 C77.57,1102.64 78.15,1130.68 78.68,1148.28 C79.22,1165.88 79.79,1184.47 80.29,1195.22 C80.79,1205.98 81.17,1209.08 81.67,1212.83 C82.17,1216.58 82.55,1216.9 83.28,1217.72 C84,1218.53 85.19,1217.88 86.03,1217.72 C86.88,1217.55 87.57,1216.9 88.33,1216.74 C89.1,1216.58 89.86,1218.04 90.63,1216.74 C91.39,1215.44 92.24,1211.2 92.93,1208.92 C93.62,1206.63 94.19,1204.19 94.76,1203.05 C95.34,1201.91 95.87,1201.09 96.37,1202.07 C96.87,1203.05 97.18,1205.49 97.75,1208.92 C98.33,1212.34 99.09,1218.7 99.82,1222.61 C100.55,1226.52 101.16,1229.29 102.12,1232.39 C103.07,1235.48 104.22,1238.42 105.56,1241.19 C106.9,1243.96 108.63,1246.83 110.16,1249.01 C111.69,1251.2 113.22,1253.09 114.75,1254.3 C116.28,1255.5 117.82,1255.89 119.35,1256.25 C120.88,1256.61 122.79,1256.25 123.94,1256.45 C125.09,1256.64 125.28,1257.69 126.24,1257.42 C127.2,1257.16 128.54,1255.53 129.69,1254.88 C130.84,1254.23 131.98,1253.58 133.13,1253.51 C134.28,1253.45 135.43,1253.94 136.58,1254.49 C137.73,1255.04 138.68,1256.02 140.02,1256.84 C141.37,1257.65 143.09,1258.4 144.62,1259.38 C146.15,1260.36 147.68,1261.5 149.22,1262.71 C150.75,1263.91 152.28,1265.74 153.81,1266.62 C155.34,1267.5 156.87,1267.6 158.41,1267.99 C159.94,1268.38 160.32,1268.54 163,1268.97 C165.68,1269.39 170.66,1270.11 174.49,1270.53 C178.32,1270.95 182.15,1271.21 185.97,1271.51 C189.8,1271.8 193.63,1272.03 197.46,1272.29 C201.29,1272.55 205.12,1272.88 208.95,1273.07 C212.78,1273.27 216.61,1273.24 220.44,1273.46 C224.27,1273.69 228.86,1274.31 231.92,1274.44 C234.99,1274.57 236.52,1274.08 238.82,1274.25 C241.12,1274.41 243.03,1275.13 245.71,1275.42 C248.39,1275.71 253.37,1275.91 254.9,1276.01" fill="none" stroke="#3b98d4" stroke-width="1.4" clip-path="url(#c1)"/>
<rect x="71.1" y="1089.6" width="183.8" height="195.6" fill="none" stroke="#262626" stroke-width="1.1"/>
<line x1="71.1" y1="1246.08" x2="73.1" y2="1246.08" stroke="#262626" stroke-width="1"/>
<line x1="252.9" y1="1246.08" x2="254.9" y2="1246.08" stroke="#262626" stroke-width="1"/>
<text x="65.1" y="1250.84" font-size="13.3" fill="#262626" text-anchor="end">2</text>
<line x1="71.1" y1="1206.96" x2="73.1" y2="1206.96" stroke="#262626" stroke-width="1"/>
<line x1="252.9" y1="1206.96" x2="254.9" y2="1206.96" stroke="#262626" stroke-width="1"/>
<text x="65.1" y="1211.72" font-size="13.3" fill="#262626" text-anchor="end">4</text>
<line x1="71.1" y1="1167.84" x2="73.1" y2="1167.84" stroke="#262626" stroke-width="1"/>
<line x1="252.9" y1="1167.84" x2="254.9" y2="1167.84" stroke="#262626" stroke-width="1"/>
<text x="65.1" y="1172.6" font-size="13.3" fill="#262626" text-anchor="end">6</text>
<line x1="71.1" y1="1128.72" x2="73.1" y2="1128.72" stroke="#262626" stroke-width="1"/>
<line x1="252.9" y1="1128.72" x2="254.9" y2="1128.72" stroke="#262626" stroke-width="1"/>
<text x="65.1" y="1133.48" font-size="13.3" fill="#262626" text-anchor="end">8</text>
<line x1="71.1" y1="1089.6" x2="73.1" y2="1089.6" stroke="#262626" stroke-width="1"/>
<line x1="252.9" y1="1089.6" x2="254.9" y2="1089.6" stroke="#262626" stroke-width="1"/>
<text x="65.1" y="1094.36" font-size="13.3" fill="#262626" text-anchor="end">10</text>
<line x1="71.1" y1="1285.2" x2="71.1" y2="1283.2" stroke="#262626" stroke-width="1"/>
<line x1="71.1" y1="1089.6" x2="71.1" y2="1091.6" stroke="#262626" stroke-width="1"/>
<text x="71.1" y="1303.16" font-size="13.3" fill="#262626" text-anchor="middle">0</text>
<line x1="117.05" y1="1285.2" x2="117.05" y2="1283.2" stroke="#262626" stroke-width="1"/>
<line x1="117.05" y1="1089.6" x2="117.05" y2="1091.6" stroke="#262626" stroke-width="1"/>
<text x="117.05" y="1303.16" font-size="13.3" fill="#262626" text-anchor="middle">20</text>
<line x1="163" y1="1285.2" x2="163" y2="1283.2" stroke="#262626" stroke-width="1"/>
<line x1="163" y1="1089.6" x2="163" y2="1091.6" stroke="#262626" stroke-width="1"/>
<text x="163" y="1303.16" font-size="13.3" fill="#262626" text-anchor="middle">40</text>
<line x1="208.95" y1="1285.2" x2="208.95" y2="1283.2" stroke="#262626" stroke-width="1"/>
<line x1="208.95" y1="1089.6" x2="208.95" y2="1091.6" stroke="#262626" stroke-width="1"/>
<text x="208.95" y="1303.16" font-size="13.3" fill="#262626" text-anchor="middle">60</text>
<line x1="254.9" y1="1285.2" x2="254.9" y2="1283.2" stroke="#262626" stroke-width="1"/>
<line x1="254.9" y1="1089.6" x2="254.9" y2="1091.6" stroke="#262626" stroke-width="1"/>
<text x="254.9" y="1303.16" font-size="13.3" fill="#262626" text-anchor="middle">80</text>
<text x="163" y="1318.96" font-size="13.3" fill="#262626" text-anchor="middle">f (Hz)</text>
<path d="M90.77,1183.7 L101.97,1183.7 L96.37,1192.5 Z" fill="#0000ff"/>
<text x="96.37" y="1177.36" font-size="13.3" fill="#111" text-anchor="middle">11Hz</text>
<path d="M127.53,1236.2 L138.73,1236.2 L133.13,1245 Z" fill="#ff0000"/>
<text x="133.13" y="1230.56" font-size="13.3" fill="#111" text-anchor="middle">27Hz</text>
<text x="45.1" y="1187.4" font-size="13.3" fill="#262626" text-anchor="middle" transform="rotate(-90 45.1 1187.4)">Relative Spectral Power (%)</text>
<line x1="341.57" y1="1089.6" x2="341.57" y2="1285.2" stroke="#8484ff" stroke-width="1.1" stroke-dasharray="1.5 2.2"/>
<line x1="387.52" y1="1089.6" x2="387.52" y2="1285.2" stroke="#ff8484" stroke-width="1.1" stroke-dasharray="1.5 2.2"/>
<path d="M314,1206.96 C314.19,1195.55 314.77,1153.17 315.15,1138.5 C315.53,1123.83 315.91,1121.55 316.3,1118.94 C316.68,1116.33 316.95,1117.96 317.45,1122.85 C317.94,1127.74 318.71,1136.87 319.28,1148.28 C319.86,1159.69 320.32,1178.27 320.89,1191.31 C321.47,1204.35 322.16,1218.7 322.73,1226.52 C323.3,1234.34 323.69,1235.55 324.34,1238.26 C324.99,1240.96 325.87,1242.1 326.64,1242.75 C327.4,1243.41 327.98,1242.92 328.93,1242.17 C329.89,1241.42 331.04,1240.38 332.38,1238.26 C333.72,1236.14 335.63,1231.8 336.98,1229.45 C338.32,1227.11 339.46,1224.99 340.42,1224.17 C341.38,1223.36 341.95,1223.68 342.72,1224.56 C343.48,1225.44 344.06,1227.5 345.02,1229.45 C345.97,1231.41 347.12,1234.34 348.46,1236.3 C349.8,1238.26 351.53,1239.56 353.06,1241.19 C354.59,1242.82 356.5,1244.45 357.65,1246.08 C358.8,1247.71 359.18,1250.06 359.95,1250.97 C360.72,1251.88 361.48,1251.78 362.25,1251.56 C363.01,1251.33 363.59,1250.68 364.55,1249.6 C365.5,1248.52 366.84,1246.08 367.99,1245.1 C369.14,1244.12 370.48,1243.73 371.44,1243.73 C372.39,1243.73 372.78,1245.53 373.74,1245.1 C374.69,1244.68 376.03,1242.17 377.18,1241.19 C378.33,1240.21 379.29,1239.79 380.63,1239.23 C381.97,1238.68 384.07,1238.19 385.22,1237.86 C386.37,1237.54 386.75,1236.56 387.52,1237.28 C388.29,1238 389.05,1240.05 389.82,1242.17 C390.58,1244.29 391.16,1247.38 392.12,1249.99 C393.07,1252.6 394.41,1255.86 395.56,1257.82 C396.71,1259.77 397.28,1260.59 399.01,1261.73 C400.73,1262.87 403.6,1263.85 405.9,1264.66 C408.2,1265.48 410.5,1265.87 412.79,1266.62 C415.09,1267.37 417,1268.41 419.69,1269.16 C422.37,1269.91 425.43,1270.33 428.88,1271.12 C432.32,1271.9 437.68,1273.46 440.36,1273.86 C443.04,1274.25 443.04,1273.27 444.96,1273.46 C446.87,1273.66 448.79,1274.64 451.85,1275.03 C454.91,1275.42 459.51,1275.52 463.34,1275.81 C467.17,1276.1 471,1276.53 474.82,1276.79 C478.65,1277.05 482.48,1277.15 486.31,1277.38 C490.14,1277.6 495.89,1278.03 497.8,1278.16" fill="none" stroke="#3b98d4" stroke-width="1.4" clip-path="url(#c2)"/>
<rect x="314" y="1089.6" width="183.8" height="195.6" fill="none" stroke="#262626" stroke-width="1.1"/>
<line x1="314" y1="1246.08" x2="316" y2="1246.08" stroke="#262626" stroke-width="1"/>
<line x1="495.8" y1="1246.08" x2="497.8" y2="1246.08" stroke="#262626" stroke-width="1"/>
<text x="308" y="1250.84" font-size="13.3" fill="#262626" text-anchor="end">2</text>
<line x1="314" y1="1206.96" x2="316" y2="1206.96" stroke="#262626" stroke-width="1"/>
<line x1="495.8" y1="1206.96" x2="497.8" y2="1206.96" stroke="#262626" stroke-width="1"/>
<text x="308" y="1211.72" font-size="13.3" fill="#262626" text-anchor="end">4</text>
<line x1="314" y1="1167.84" x2="316" y2="1167.84" stroke="#262626" stroke-width="1"/>
<line x1="495.8" y1="1167.84" x2="497.8" y2="1167.84" stroke="#262626" stroke-width="1"/>
<text x="308" y="1172.6" font-size="13.3" fill="#262626" text-anchor="end">6</text>
<line x1="314" y1="1128.72" x2="316" y2="1128.72" stroke="#262626" stroke-width="1"/>
<line x1="495.8" y1="1128.72" x2="497.8" y2="1128.72" stroke="#262626" stroke-width="1"/>
<text x="308" y="1133.48" font-size="13.3" fill="#262626" text-anchor="end">8</text>
<line x1="314" y1="1089.6" x2="316" y2="1089.6" stroke="#262626" stroke-width="1"/>
<line x1="495.8" y1="1089.6" x2="497.8" y2="1089.6" stroke="#262626" stroke-width="1"/>
<text x="308" y="1094.36" font-size="13.3" fill="#262626" text-anchor="end">10</text>
<line x1="314" y1="1285.2" x2="314" y2="1283.2" stroke="#262626" stroke-width="1"/>
<line x1="314" y1="1089.6" x2="314" y2="1091.6" stroke="#262626" stroke-width="1"/>
<text x="314" y="1303.16" font-size="13.3" fill="#262626" text-anchor="middle">0</text>
<line x1="359.95" y1="1285.2" x2="359.95" y2="1283.2" stroke="#262626" stroke-width="1"/>
<line x1="359.95" y1="1089.6" x2="359.95" y2="1091.6" stroke="#262626" stroke-width="1"/>
<text x="359.95" y="1303.16" font-size="13.3" fill="#262626" text-anchor="middle">20</text>
<line x1="405.9" y1="1285.2" x2="405.9" y2="1283.2" stroke="#262626" stroke-width="1"/>
<line x1="405.9" y1="1089.6" x2="405.9" y2="1091.6" stroke="#262626" stroke-width="1"/>
<text x="405.9" y="1303.16" font-size="13.3" fill="#262626" text-anchor="middle">40</text>
<line x1="451.85" y1="1285.2" x2="451.85" y2="1283.2" stroke="#262626" stroke-width="1"/>
<line x1="451.85" y1="1089.6" x2="451.85" y2="1091.6" stroke="#262626" stroke-width="1"/>
<text x="451.85" y="1303.16" font-size="13.3" fill="#262626" text-anchor="middle">60</text>
<line x1="497.8" y1="1285.2" x2="497.8" y2="1283.2" stroke="#262626" stroke-width="1"/>
<line x1="497.8" y1="1089.6" x2="497.8" y2="1091.6" stroke="#262626" stroke-width="1"/>
<text x="497.8" y="1303.16" font-size="13.3" fill="#262626" text-anchor="middle">80</text>
<text x="405.9" y="1318.96" font-size="13.3" fill="#262626" text-anchor="middle">f (Hz)</text>
<path d="M335.97,1207.4 L347.17,1207.4 L341.57,1216.2 Z" fill="#0000ff"/>
<text x="341.57" y="1201.16" font-size="13.3" fill="#111" text-anchor="middle">12Hz</text>
<path d="M381.92,1220.6 L393.12,1220.6 L387.52,1229.4 Z" fill="#ff0000"/>
<text x="387.52" y="1213.66" font-size="13.3" fill="#111" text-anchor="middle">32Hz</text>
<line x1="584.47" y1="1089.6" x2="584.47" y2="1285.2" stroke="#8484ff" stroke-width="1.1" stroke-dasharray="1.5 2.2"/>
<line x1="630.42" y1="1089.6" x2="630.42" y2="1285.2" stroke="#ff8484" stroke-width="1.1" stroke-dasharray="1.5 2.2"/>
<path d="M556.9,1193.27 C557.09,1180.88 557.67,1135.24 558.05,1118.94 C558.43,1102.64 558.78,1098.73 559.2,1095.47 C559.62,1092.21 560.12,1094.82 560.58,1099.38 C561.04,1103.94 561.42,1111.44 561.95,1122.85 C562.49,1134.26 563.18,1152.52 563.79,1167.84 C564.41,1183.16 565.02,1203.7 565.63,1214.78 C566.24,1225.87 566.82,1230.27 567.47,1234.34 C568.12,1238.42 568.81,1238.09 569.54,1239.23 C570.26,1240.38 570.88,1240.7 571.83,1241.19 C572.79,1241.68 574.13,1242.98 575.28,1242.17 C576.43,1241.35 577.58,1238.58 578.73,1236.3 C579.88,1234.02 581.02,1230.59 582.17,1228.48 C583.32,1226.36 584.66,1224.07 585.62,1223.59 C586.58,1223.1 586.96,1224.24 587.92,1225.54 C588.87,1226.85 590.02,1229.13 591.36,1231.41 C592.7,1233.69 594.43,1236.63 595.96,1239.23 C597.49,1241.84 599.21,1245.43 600.55,1247.06 C601.89,1248.69 602.85,1248.46 604,1249.01 C605.15,1249.57 606.3,1250.55 607.44,1250.38 C608.59,1250.22 609.74,1248.49 610.89,1248.04 C612.04,1247.58 613.19,1248.13 614.34,1247.64 C615.49,1247.16 616.63,1246.18 617.78,1245.1 C618.93,1244.03 620.08,1241.42 621.23,1241.19 C622.38,1240.96 623.53,1242.92 624.68,1243.73 C625.82,1244.55 626.97,1245.85 628.12,1246.08 C629.27,1246.31 630.42,1244.29 631.57,1245.1 C632.72,1245.92 633.87,1249.01 635.01,1250.97 C636.16,1252.93 637.31,1255.04 638.46,1256.84 C639.61,1258.63 640.18,1260.42 641.91,1261.73 C643.63,1263.03 646.5,1263.85 648.8,1264.66 C651.1,1265.48 653.39,1265.87 655.69,1266.62 C657.99,1267.37 659.9,1268.35 662.59,1269.16 C665.27,1269.98 668.33,1270.86 671.77,1271.51 C675.22,1272.16 679.43,1272.58 683.26,1273.07 C687.09,1273.56 690.92,1274.05 694.75,1274.44 C698.58,1274.83 702.41,1275.09 706.24,1275.42 C710.07,1275.75 713.9,1276.07 717.72,1276.4 C721.55,1276.72 725.38,1277.08 729.21,1277.38 C733.04,1277.67 738.79,1278.03 740.7,1278.16" fill="none" stroke="#3b98d4" stroke-width="1.4" clip-path="url(#c3)"/>
<rect x="556.9" y="1089.6" width="183.8" height="195.6" fill="none" stroke="#262626" stroke-width="1.1"/>
<line x1="556.9" y1="1246.08" x2="558.9" y2="1246.08" stroke="#262626" stroke-width="1"/>
<line x1="738.7" y1="1246.08" x2="740.7" y2="1246.08" stroke="#262626" stroke-width="1"/>
<text x="550.9" y="1250.84" font-size="13.3" fill="#262626" text-anchor="end">2</text>
<line x1="556.9" y1="1206.96" x2="558.9" y2="1206.96" stroke="#262626" stroke-width="1"/>
<line x1="738.7" y1="1206.96" x2="740.7" y2="1206.96" stroke="#262626" stroke-width="1"/>
<text x="550.9" y="1211.72" font-size="13.3" fill="#262626" text-anchor="end">4</text>
<line x1="556.9" y1="1167.84" x2="558.9" y2="1167.84" stroke="#262626" stroke-width="1"/>
<line x1="738.7" y1="1167.84" x2="740.7" y2="1167.84" stroke="#262626" stroke-width="1"/>
<text x="550.9" y="1172.6" font-size="13.3" fill="#262626" text-anchor="end">6</text>
<line x1="556.9" y1="1128.72" x2="558.9" y2="1128.72" stroke="#262626" stroke-width="1"/>
<line x1="738.7" y1="1128.72" x2="740.7" y2="1128.72" stroke="#262626" stroke-width="1"/>
<text x="550.9" y="1133.48" font-size="13.3" fill="#262626" text-anchor="end">8</text>
<line x1="556.9" y1="1089.6" x2="558.9" y2="1089.6" stroke="#262626" stroke-width="1"/>
<line x1="738.7" y1="1089.6" x2="740.7" y2="1089.6" stroke="#262626" stroke-width="1"/>
<text x="550.9" y="1094.36" font-size="13.3" fill="#262626" text-anchor="end">10</text>
<line x1="556.9" y1="1285.2" x2="556.9" y2="1283.2" stroke="#262626" stroke-width="1"/>
<line x1="556.9" y1="1089.6" x2="556.9" y2="1091.6" stroke="#262626" stroke-width="1"/>
<text x="556.9" y="1303.16" font-size="13.3" fill="#262626" text-anchor="middle">0</text>
<line x1="602.85" y1="1285.2" x2="602.85" y2="1283.2" stroke="#262626" stroke-width="1"/>
<line x1="602.85" y1="1089.6" x2="602.85" y2="1091.6" stroke="#262626" stroke-width="1"/>
<text x="602.85" y="1303.16" font-size="13.3" fill="#262626" text-anchor="middle">20</text>
<line x1="648.8" y1="1285.2" x2="648.8" y2="1283.2" stroke="#262626" stroke-width="1"/>
<line x1="648.8" y1="1089.6" x2="648.8" y2="1091.6" stroke="#262626" stroke-width="1"/>
<text x="648.8" y="1303.16" font-size="13.3" fill="#262626" text-anchor="middle">40</text>
<line x1="694.75" y1="1285.2" x2="694.75" y2="1283.2" stroke="#262626" stroke-width="1"/>
<line x1="694.75" y1="1089.6" x2="694.75" y2="1091.6" stroke="#262626" stroke-width="1"/>
<text x="694.75" y="1303.16" font-size="13.3" fill="#262626" text-anchor="middle">60</text>
<line x1="740.7" y1="1285.2" x2="740.7" y2="1283.2" stroke="#262626" stroke-width="1"/>
<line x1="740.7" y1="1089.6" x2="740.7" y2="1091.6" stroke="#262626" stroke-width="1"/>
<text x="740.7" y="1303.16" font-size="13.3" fill="#262626" text-anchor="middle">80</text>
<text x="648.8" y="1318.96" font-size="13.3" fill="#262626" text-anchor="middle">f (Hz)</text>
<path d="M581.17,1205.7 L592.37,1205.7 L586.77,1214.5 Z" fill="#0000ff"/>
<text x="586.77" y="1199.46" font-size="13.3" fill="#111" text-anchor="middle">13Hz</text>
<path d="M615.63,1224 L626.83,1224 L621.23,1232.8 Z" fill="#ff0000"/>
<text x="621.23" y="1218.06" font-size="13.3" fill="#111" text-anchor="middle">28Hz</text>
<line x1="828.07" y1="1089.6" x2="828.07" y2="1285.2" stroke="#8484ff" stroke-width="1.1" stroke-dasharray="1.5 2.2"/>
<line x1="874.02" y1="1089.6" x2="874.02" y2="1285.2" stroke="#ff8484" stroke-width="1.1" stroke-dasharray="1.5 2.2"/>
<path d="M800.5,1236.3 C800.69,1229.78 801.27,1205.98 801.65,1197.18 C802.03,1188.38 802.3,1185.61 802.8,1183.49 C803.3,1181.37 804.06,1182.84 804.64,1184.47 C805.21,1186.1 805.67,1189.19 806.24,1193.27 C806.82,1197.34 807.51,1204.03 808.08,1208.92 C808.66,1213.81 809.12,1218.7 809.69,1222.61 C810.26,1226.52 810.84,1230.43 811.53,1232.39 C812.22,1234.34 813.06,1233.53 813.83,1234.34 C814.59,1235.16 815.28,1235.81 816.12,1237.28 C816.97,1238.74 818.04,1241.42 818.88,1243.15 C819.72,1244.87 820.41,1246.83 821.18,1247.64 C821.94,1248.46 822.71,1248.3 823.48,1248.04 C824.24,1247.78 825.01,1246.47 825.77,1246.08 C826.54,1245.69 827.3,1245.62 828.07,1245.69 C828.84,1245.75 829.6,1246.08 830.37,1246.47 C831.13,1246.86 831.71,1248.04 832.66,1248.04 C833.62,1248.04 834.96,1246.96 836.11,1246.47 C837.26,1245.98 838.41,1245.66 839.56,1245.1 C840.71,1244.55 841.86,1244.29 843,1243.15 C844.15,1242 845.49,1241.03 846.45,1238.26 C847.41,1235.48 847.98,1230.43 848.75,1226.52 C849.51,1222.61 850.28,1217.88 851.04,1214.78 C851.81,1211.69 852.58,1209.24 853.34,1207.94 C854.11,1206.63 854.87,1206.54 855.64,1206.96 C856.41,1207.38 857.17,1210.55 857.94,1210.48 C858.7,1210.42 859.47,1207.32 860.24,1206.57 C861,1205.82 861.77,1205.59 862.53,1205.98 C863.3,1206.37 863.87,1207.12 864.83,1208.92 C865.79,1210.71 867.13,1213.48 868.28,1216.74 C869.42,1220 870.77,1224.56 871.72,1228.48 C872.68,1232.39 873.25,1236.46 874.02,1240.21 C874.79,1243.96 875.36,1247.71 876.32,1250.97 C877.27,1254.23 878.62,1257.49 879.76,1259.77 C880.91,1262.05 881.87,1263.29 883.21,1264.66 C884.55,1266.03 886.27,1267.17 887.81,1267.99 C889.34,1268.8 890.49,1268.8 892.4,1269.55 C894.31,1270.3 897,1271.67 899.29,1272.49 C901.59,1273.3 903.5,1273.89 906.19,1274.44 C908.87,1275 911.93,1275.32 915.38,1275.81 C918.82,1276.3 923.03,1276.89 926.86,1277.38 C930.69,1277.86 932.61,1278.35 938.35,1278.75 C944.09,1279.14 953.67,1279.46 961.33,1279.72 C968.98,1279.98 980.47,1280.21 984.3,1280.31" fill="none" stroke="#3b98d4" stroke-width="1.4" clip-path="url(#c4)"/>
<rect x="800.5" y="1089.6" width="183.8" height="195.6" fill="none" stroke="#262626" stroke-width="1.1"/>
<line x1="800.5" y1="1246.08" x2="802.5" y2="1246.08" stroke="#262626" stroke-width="1"/>
<line x1="982.3" y1="1246.08" x2="984.3" y2="1246.08" stroke="#262626" stroke-width="1"/>
<text x="794.5" y="1250.84" font-size="13.3" fill="#262626" text-anchor="end">2</text>
<line x1="800.5" y1="1206.96" x2="802.5" y2="1206.96" stroke="#262626" stroke-width="1"/>
<line x1="982.3" y1="1206.96" x2="984.3" y2="1206.96" stroke="#262626" stroke-width="1"/>
<text x="794.5" y="1211.72" font-size="13.3" fill="#262626" text-anchor="end">4</text>
<line x1="800.5" y1="1167.84" x2="802.5" y2="1167.84" stroke="#262626" stroke-width="1"/>
<line x1="982.3" y1="1167.84" x2="984.3" y2="1167.84" stroke="#262626" stroke-width="1"/>
<text x="794.5" y="1172.6" font-size="13.3" fill="#262626" text-anchor="end">6</text>
<line x1="800.5" y1="1128.72" x2="802.5" y2="1128.72" stroke="#262626" stroke-width="1"/>
<line x1="982.3" y1="1128.72" x2="984.3" y2="1128.72" stroke="#262626" stroke-width="1"/>
<text x="794.5" y="1133.48" font-size="13.3" fill="#262626" text-anchor="end">8</text>
<line x1="800.5" y1="1089.6" x2="802.5" y2="1089.6" stroke="#262626" stroke-width="1"/>
<line x1="982.3" y1="1089.6" x2="984.3" y2="1089.6" stroke="#262626" stroke-width="1"/>
<text x="794.5" y="1094.36" font-size="13.3" fill="#262626" text-anchor="end">10</text>
<line x1="800.5" y1="1285.2" x2="800.5" y2="1283.2" stroke="#262626" stroke-width="1"/>
<line x1="800.5" y1="1089.6" x2="800.5" y2="1091.6" stroke="#262626" stroke-width="1"/>
<text x="800.5" y="1303.16" font-size="13.3" fill="#262626" text-anchor="middle">0</text>
<line x1="846.45" y1="1285.2" x2="846.45" y2="1283.2" stroke="#262626" stroke-width="1"/>
<line x1="846.45" y1="1089.6" x2="846.45" y2="1091.6" stroke="#262626" stroke-width="1"/>
<text x="846.45" y="1303.16" font-size="13.3" fill="#262626" text-anchor="middle">20</text>
<line x1="892.4" y1="1285.2" x2="892.4" y2="1283.2" stroke="#262626" stroke-width="1"/>
<line x1="892.4" y1="1089.6" x2="892.4" y2="1091.6" stroke="#262626" stroke-width="1"/>
<text x="892.4" y="1303.16" font-size="13.3" fill="#262626" text-anchor="middle">40</text>
<line x1="938.35" y1="1285.2" x2="938.35" y2="1283.2" stroke="#262626" stroke-width="1"/>
<line x1="938.35" y1="1089.6" x2="938.35" y2="1091.6" stroke="#262626" stroke-width="1"/>
<text x="938.35" y="1303.16" font-size="13.3" fill="#262626" text-anchor="middle">60</text>
<line x1="984.3" y1="1285.2" x2="984.3" y2="1283.2" stroke="#262626" stroke-width="1"/>
<line x1="984.3" y1="1089.6" x2="984.3" y2="1091.6" stroke="#262626" stroke-width="1"/>
<text x="984.3" y="1303.16" font-size="13.3" fill="#262626" text-anchor="middle">80</text>
<text x="892.4" y="1318.96" font-size="13.3" fill="#262626" text-anchor="middle">f (Hz)</text>
<path d="M822.47,1229.4 L833.67,1229.4 L828.07,1238.2 Z" fill="#0000ff"/>
<text x="828.07" y="1222.76" font-size="13.3" fill="#111" text-anchor="middle">12Hz</text>
<path d="M856.93,1188.4 L868.13,1188.4 L862.53,1197.2 Z" fill="#ff0000"/>
<text x="862.53" y="1182.46" font-size="13.3" fill="#111" text-anchor="middle">27Hz</text>
<line x1="1071.37" y1="1089.6" x2="1071.37" y2="1285.2" stroke="#8484ff" stroke-width="1.1" stroke-dasharray="1.5 2.2"/>
<line x1="1117.32" y1="1089.6" x2="1117.32" y2="1285.2" stroke="#ff8484" stroke-width="1.1" stroke-dasharray="1.5 2.2"/>
<path d="M1043.8,1257.82 C1043.99,1254.88 1044.57,1244.61 1044.95,1240.21 C1045.33,1235.81 1045.6,1233.37 1046.1,1231.41 C1046.6,1229.45 1047.32,1228.48 1047.94,1228.48 C1048.55,1228.48 1049.12,1229.94 1049.77,1231.41 C1050.42,1232.88 1051.11,1235.65 1051.84,1237.28 C1052.57,1238.91 1053.37,1239.89 1054.14,1241.19 C1054.9,1242.49 1055.67,1244.22 1056.44,1245.1 C1057.2,1245.98 1057.97,1245.98 1058.73,1246.47 C1059.5,1246.96 1060.27,1247.19 1061.03,1248.04 C1061.8,1248.88 1062.64,1250.58 1063.33,1251.56 C1064.02,1252.53 1064.52,1253.84 1065.17,1253.9 C1065.82,1253.97 1066.51,1253.09 1067.23,1251.95 C1067.96,1250.81 1068.84,1248.52 1069.53,1247.06 C1070.22,1245.59 1070.68,1243.37 1071.37,1243.15 C1072.06,1242.92 1072.9,1245.04 1073.67,1245.69 C1074.43,1246.34 1075.01,1246.73 1075.96,1247.06 C1076.92,1247.38 1078.26,1247.97 1079.41,1247.64 C1080.56,1247.32 1081.52,1246.99 1082.86,1245.1 C1084.2,1243.21 1085.92,1239.72 1087.45,1236.3 C1088.98,1232.88 1090.71,1228.15 1092.05,1224.56 C1093.39,1220.98 1094.54,1217.72 1095.49,1214.78 C1096.45,1211.85 1097.03,1209.89 1097.79,1206.96 C1098.56,1204.03 1099.32,1201.74 1100.09,1197.18 C1100.85,1192.62 1101.7,1185.12 1102.39,1179.58 C1103.08,1174.03 1103.73,1167.19 1104.22,1163.93 C1104.72,1160.67 1104.91,1159.36 1105.37,1160.02 C1105.83,1160.67 1106.41,1163.93 1106.98,1167.84 C1107.56,1171.75 1108.13,1177.62 1108.82,1183.49 C1109.51,1189.36 1110.27,1196.53 1111.12,1203.05 C1111.96,1209.57 1113.03,1217.07 1113.87,1222.61 C1114.72,1228.15 1115.41,1232.06 1116.17,1236.3 C1116.94,1240.54 1117.7,1244.45 1118.47,1248.04 C1119.23,1251.62 1119.81,1254.72 1120.77,1257.82 C1121.72,1260.91 1122.87,1264.4 1124.21,1266.62 C1125.55,1268.83 1126.89,1270.04 1128.81,1271.12 C1130.72,1272.19 1132.64,1272.23 1135.7,1273.07 C1138.76,1273.92 1143.36,1275.42 1147.19,1276.2 C1151.02,1276.98 1154.85,1277.25 1158.67,1277.77 C1162.5,1278.29 1166.33,1278.91 1170.16,1279.33 C1173.99,1279.76 1175.91,1279.98 1181.65,1280.31 C1187.39,1280.64 1196.97,1281.06 1204.62,1281.29 C1212.28,1281.52 1223.77,1281.61 1227.6,1281.68" fill="none" stroke="#3b98d4" stroke-width="1.4" clip-path="url(#c5)"/>
<rect x="1043.8" y="1089.6" width="183.8" height="195.6" fill="none" stroke="#262626" stroke-width="1.1"/>
<line x1="1043.8" y1="1246.08" x2="1045.8" y2="1246.08" stroke="#262626" stroke-width="1"/>
<line x1="1225.6" y1="1246.08" x2="1227.6" y2="1246.08" stroke="#262626" stroke-width="1"/>
<text x="1037.8" y="1250.84" font-size="13.3" fill="#262626" text-anchor="end">2</text>
<line x1="1043.8" y1="1206.96" x2="1045.8" y2="1206.96" stroke="#262626" stroke-width="1"/>
<line x1="1225.6" y1="1206.96" x2="1227.6" y2="1206.96" stroke="#262626" stroke-width="1"/>
<text x="1037.8" y="1211.72" font-size="13.3" fill="#262626" text-anchor="end">4</text>
<line x1="1043.8" y1="1167.84" x2="1045.8" y2="1167.84" stroke="#262626" stroke-width="1"/>
<line x1="1225.6" y1="1167.84" x2="1227.6" y2="1167.84" stroke="#262626" stroke-width="1"/>
<text x="1037.8" y="1172.6" font-size="13.3" fill="#262626" text-anchor="end">6</text>
<line x1="1043.8" y1="1128.72" x2="1045.8" y2="1128.72" stroke="#262626" stroke-width="1"/>
<line x1="1225.6" y1="1128.72" x2="1227.6" y2="1128.72" stroke="#262626" stroke-width="1"/>
<text x="1037.8" y="1133.48" font-size="13.3" fill="#262626" text-anchor="end">8</text>
<line x1="1043.8" y1="1089.6" x2="1045.8" y2="1089.6" stroke="#262626" stroke-width="1"/>
<line x1="1225.6" y1="1089.6" x2="1227.6" y2="1089.6" stroke="#262626" stroke-width="1"/>
<text x="1037.8" y="1094.36" font-size="13.3" fill="#262626" text-anchor="end">10</text>
<line x1="1043.8" y1="1285.2" x2="1043.8" y2="1283.2" stroke="#262626" stroke-width="1"/>
<line x1="1043.8" y1="1089.6" x2="1043.8" y2="1091.6" stroke="#262626" stroke-width="1"/>
<text x="1043.8" y="1303.16" font-size="13.3" fill="#262626" text-anchor="middle">0</text>
<line x1="1089.75" y1="1285.2" x2="1089.75" y2="1283.2" stroke="#262626" stroke-width="1"/>
<line x1="1089.75" y1="1089.6" x2="1089.75" y2="1091.6" stroke="#262626" stroke-width="1"/>
<text x="1089.75" y="1303.16" font-size="13.3" fill="#262626" text-anchor="middle">20</text>
<line x1="1135.7" y1="1285.2" x2="1135.7" y2="1283.2" stroke="#262626" stroke-width="1"/>
<line x1="1135.7" y1="1089.6" x2="1135.7" y2="1091.6" stroke="#262626" stroke-width="1"/>
<text x="1135.7" y="1303.16" font-size="13.3" fill="#262626" text-anchor="middle">40</text>
<line x1="1181.65" y1="1285.2" x2="1181.65" y2="1283.2" stroke="#262626" stroke-width="1"/>
<line x1="1181.65" y1="1089.6" x2="1181.65" y2="1091.6" stroke="#262626" stroke-width="1"/>
<text x="1181.65" y="1303.16" font-size="13.3" fill="#262626" text-anchor="middle">60</text>
<line x1="1227.6" y1="1285.2" x2="1227.6" y2="1283.2" stroke="#262626" stroke-width="1"/>
<line x1="1227.6" y1="1089.6" x2="1227.6" y2="1091.6" stroke="#262626" stroke-width="1"/>
<text x="1227.6" y="1303.16" font-size="13.3" fill="#262626" text-anchor="middle">80</text>
<text x="1135.7" y="1318.96" font-size="13.3" fill="#262626" text-anchor="middle">f (Hz)</text>
<path d="M1065.77,1226 L1076.97,1226 L1071.37,1234.8 Z" fill="#0000ff"/>
<text x="1071.37" y="1219.76" font-size="13.3" fill="#111" text-anchor="middle">12Hz</text>
<path d="M1100.23,1142.7 L1111.43,1142.7 L1105.83,1151.5 Z" fill="#ff0000"/>
<text x="1105.83" y="1135.76" font-size="13.3" fill="#111" text-anchor="middle">27Hz</text>
<line x1="1314.27" y1="1089.6" x2="1314.27" y2="1285.2" stroke="#8484ff" stroke-width="1.1" stroke-dasharray="1.5 2.2"/>
<line x1="1360.22" y1="1089.6" x2="1360.22" y2="1285.2" stroke="#ff8484" stroke-width="1.1" stroke-dasharray="1.5 2.2"/>
<path d="M1286.7,1203.05 C1286.85,1190.66 1287.24,1145.67 1287.62,1128.72 C1288,1111.77 1288.58,1106.06 1289,1101.34 C1289.42,1096.61 1289.76,1100.52 1290.15,1100.36 C1290.53,1100.19 1290.87,1097.59 1291.3,1100.36 C1291.72,1103.13 1292.1,1108.34 1292.67,1116.98 C1293.25,1125.62 1294.09,1141.76 1294.74,1152.19 C1295.39,1162.62 1296,1172.73 1296.58,1179.58 C1297.15,1186.42 1297.61,1191.31 1298.19,1193.27 C1298.76,1195.22 1299.41,1191.96 1300.03,1191.31 C1300.64,1190.66 1301.29,1189.19 1301.86,1189.36 C1302.44,1189.52 1302.74,1190.82 1303.47,1192.29 C1304.2,1193.76 1305.19,1196.2 1306.23,1198.16 C1307.26,1200.11 1308.53,1201.91 1309.67,1204.03 C1310.82,1206.14 1312.16,1208.59 1313.12,1210.87 C1314.08,1213.15 1314.65,1215.27 1315.42,1217.72 C1316.18,1220.16 1316.95,1222.77 1317.72,1225.54 C1318.48,1228.31 1319.25,1231.57 1320.01,1234.34 C1320.78,1237.11 1321.35,1239.56 1322.31,1242.17 C1323.27,1244.78 1324.61,1248.2 1325.76,1249.99 C1326.91,1251.78 1328.06,1252.21 1329.2,1252.93 C1330.35,1253.64 1331.69,1254.46 1332.65,1254.3 C1333.61,1254.13 1333.99,1252.73 1334.95,1251.95 C1335.9,1251.17 1337.24,1250.42 1338.39,1249.6 C1339.54,1248.79 1340.69,1248.46 1341.84,1247.06 C1342.99,1245.66 1344.14,1242.89 1345.29,1241.19 C1346.44,1239.49 1347.78,1237.38 1348.73,1236.89 C1349.69,1236.4 1350.07,1237.05 1351.03,1238.26 C1351.99,1239.46 1353.33,1241.68 1354.48,1244.12 C1355.63,1246.57 1356.97,1250.15 1357.92,1252.93 C1358.88,1255.7 1359.45,1258.63 1360.22,1260.75 C1360.99,1262.87 1361.37,1264.5 1362.52,1265.64 C1363.67,1266.78 1365.58,1266.94 1367.11,1267.6 C1368.64,1268.25 1369.79,1268.83 1371.71,1269.55 C1373.62,1270.27 1375.54,1271.31 1378.6,1271.9 C1381.66,1272.49 1386.26,1272.71 1390.09,1273.07 C1393.92,1273.43 1397.75,1273.82 1401.58,1274.05 C1405.4,1274.28 1409.23,1274.21 1413.06,1274.44 C1416.89,1274.67 1420.72,1275.16 1424.55,1275.42 C1428.38,1275.68 1432.21,1275.84 1436.04,1276.01 C1439.87,1276.17 1443.7,1276.23 1447.53,1276.4 C1451.35,1276.56 1455.18,1276.82 1459.01,1276.98 C1462.84,1277.15 1468.59,1277.31 1470.5,1277.38" fill="none" stroke="#3b98d4" stroke-width="1.4" clip-path="url(#c6)"/>
<rect x="1286.7" y="1089.6" width="183.8" height="195.6" fill="none" stroke="#262626" stroke-width="1.1"/>
<line x1="1286.7" y1="1246.08" x2="1288.7" y2="1246.08" stroke="#262626" stroke-width="1"/>
<line x1="1468.5" y1="1246.08" x2="1470.5" y2="1246.08" stroke="#262626" stroke-width="1"/>
<text x="1280.7" y="1250.84" font-size="13.3" fill="#262626" text-anchor="end">2</text>
<line x1="1286.7" y1="1206.96" x2="1288.7" y2="1206.96" stroke="#262626" stroke-width="1"/>
<line x1="1468.5" y1="1206.96" x2="1470.5" y2="1206.96" stroke="#262626" stroke-width="1"/>
<text x="1280.7" y="1211.72" font-size="13.3" fill="#262626" text-anchor="end">4</text>
<line x1="1286.7" y1="1167.84" x2="1288.7" y2="1167.84" stroke="#262626" stroke-width="1"/>
<line x1="1468.5" y1="1167.84" x2="1470.5" y2="1167.84" stroke="#262626" stroke-width="1"/>
<text x="1280.7" y="1172.6" font-size="13.3" fill="#262626" text-anchor="end">6</text>
<line x1="1286.7" y1="1128.72" x2="1288.7" y2="1128.72" stroke="#262626" stroke-width="1"/>
<line x1="1468.5" y1="1128.72" x2="1470.5" y2="1128.72" stroke="#262626" stroke-width="1"/>
<text x="1280.7" y="1133.48" font-size="13.3" fill="#262626" text-anchor="end">8</text>
<line x1="1286.7" y1="1089.6" x2="1288.7" y2="1089.6" stroke="#262626" stroke-width="1"/>
<line x1="1468.5" y1="1089.6" x2="1470.5" y2="1089.6" stroke="#262626" stroke-width="1"/>
<text x="1280.7" y="1094.36" font-size="13.3" fill="#262626" text-anchor="end">10</text>
<line x1="1286.7" y1="1285.2" x2="1286.7" y2="1283.2" stroke="#262626" stroke-width="1"/>
<line x1="1286.7" y1="1089.6" x2="1286.7" y2="1091.6" stroke="#262626" stroke-width="1"/>
<text x="1286.7" y="1303.16" font-size="13.3" fill="#262626" text-anchor="middle">0</text>
<line x1="1332.65" y1="1285.2" x2="1332.65" y2="1283.2" stroke="#262626" stroke-width="1"/>
<line x1="1332.65" y1="1089.6" x2="1332.65" y2="1091.6" stroke="#262626" stroke-width="1"/>
<text x="1332.65" y="1303.16" font-size="13.3" fill="#262626" text-anchor="middle">20</text>
<line x1="1378.6" y1="1285.2" x2="1378.6" y2="1283.2" stroke="#262626" stroke-width="1"/>
<line x1="1378.6" y1="1089.6" x2="1378.6" y2="1091.6" stroke="#262626" stroke-width="1"/>
<text x="1378.6" y="1303.16" font-size="13.3" fill="#262626" text-anchor="middle">40</text>
<line x1="1424.55" y1="1285.2" x2="1424.55" y2="1283.2" stroke="#262626" stroke-width="1"/>
<line x1="1424.55" y1="1089.6" x2="1424.55" y2="1091.6" stroke="#262626" stroke-width="1"/>
<text x="1424.55" y="1303.16" font-size="13.3" fill="#262626" text-anchor="middle">60</text>
<line x1="1470.5" y1="1285.2" x2="1470.5" y2="1283.2" stroke="#262626" stroke-width="1"/>
<line x1="1470.5" y1="1089.6" x2="1470.5" y2="1091.6" stroke="#262626" stroke-width="1"/>
<text x="1470.5" y="1303.16" font-size="13.3" fill="#262626" text-anchor="middle">80</text>
<text x="1378.6" y="1318.96" font-size="13.3" fill="#262626" text-anchor="middle">f (Hz)</text>
<path d="M1310.97,1204 L1322.17,1204 L1316.57,1212.8 Z" fill="#0000ff"/>
<text x="1316.57" y="1198.36" font-size="13.3" fill="#111" text-anchor="middle">13Hz</text>
<path d="M1343.13,1219.9 L1354.33,1219.9 L1348.73,1228.7 Z" fill="#ff0000"/>
<text x="1348.73" y="1213.66" font-size="13.3" fill="#111" text-anchor="middle">27Hz</text>
<text x="18" y="1357" font-size="25" fill="#111" font-weight="bold">C</text>
<line x1="176.7" y1="1579.8" x2="73.8" y2="1657.2" stroke="#3d9a9a" stroke-width="1.2" stroke-dasharray="1.2 2.6"/>
<line x1="176.7" y1="1579.8" x2="259.4" y2="1657.2" stroke="#8a8a8a" stroke-width="1.2" stroke-dasharray="1.2 2.6"/>
<line x1="549.22" y1="1579.8" x2="319.1" y2="1657.2" stroke="#3d9a9a" stroke-width="1.2" stroke-dasharray="1.2 2.6"/>
<line x1="549.22" y1="1579.8" x2="504.7" y2="1657.2" stroke="#8a8a8a" stroke-width="1.2" stroke-dasharray="1.2 2.6"/>
<line x1="852.76" y1="1579.8" x2="564.4" y2="1657.2" stroke="#3d9a9a" stroke-width="1.2" stroke-dasharray="1.2 2.6"/>
<line x1="852.76" y1="1579.8" x2="750" y2="1657.2" stroke="#8a8a8a" stroke-width="1.2" stroke-dasharray="1.2 2.6"/>
<line x1="970.03" y1="1579.8" x2="810.6" y2="1657.2" stroke="#3d9a9a" stroke-width="1.2" stroke-dasharray="1.2 2.6"/>
<line x1="970.03" y1="1579.8" x2="996.2" y2="1657.2" stroke="#8a8a8a" stroke-width="1.2" stroke-dasharray="1.2 2.6"/>
<line x1="1156.29" y1="1579.8" x2="1056.3" y2="1657.2" stroke="#3d9a9a" stroke-width="1.2" stroke-dasharray="1.2 2.6"/>
<line x1="1156.29" y1="1579.8" x2="1241.9" y2="1657.2" stroke="#8a8a8a" stroke-width="1.2" stroke-dasharray="1.2 2.6"/>
<line x1="1446.03" y1="1579.8" x2="1301.9" y2="1657.2" stroke="#3d9a9a" stroke-width="1.2" stroke-dasharray="1.2 2.6"/>
<line x1="1446.03" y1="1579.8" x2="1487.5" y2="1657.2" stroke="#8a8a8a" stroke-width="1.2" stroke-dasharray="1.2 2.6"/>
<rect x="173.2" y="1381.8" width="7" height="197" fill="#d9d9d9"/>
<rect x="545.72" y="1381.8" width="7" height="197" fill="#d9d9d9"/>
<rect x="849.26" y="1381.8" width="7" height="197" fill="#d9d9d9"/>
<rect x="966.53" y="1381.8" width="7" height="197" fill="#d9d9d9"/>
<rect x="1152.79" y="1381.8" width="7" height="197" fill="#d9d9d9"/>
<rect x="1442.53" y="1381.8" width="7" height="197" fill="#d9d9d9"/>
<line x1="314.68" y1="1381.8" x2="314.68" y2="1578.8" stroke="#7a7a7a" stroke-width="1.4"/>
<line x1="659.6" y1="1381.8" x2="659.6" y2="1578.8" stroke="#7a7a7a" stroke-width="1.4"/>
<line x1="1280.47" y1="1381.8" x2="1280.47" y2="1578.8" stroke="#7a7a7a" stroke-width="1.4"/>
<polyline points="87.1,1570.5 502,1570.4 659.5,1570.4 762.9,1452.1 866.9,1414.9 970.5,1414.9 1074.2,1444.6 1177.2,1455.9 1281.3,1492.2" fill="none" stroke="#333" stroke-width="1.2" stroke-dasharray="9 5.5"/>
<polyline points="176.5,1580 549.4,1541.9 852.6,1555.1 970.5,1481.3 1156.6,1418 1446.9,1556.6" fill="none" stroke="#de6a2f" stroke-width="1.2" stroke-dasharray="9 5.5"/>
<polyline points="176.5,1523.8 549.4,1540.2 852.6,1536.2 970.5,1570.4 1156.6,1562.6 1446.9,1529.3" fill="none" stroke="#3b98d4" stroke-width="1.3" stroke-dasharray="9 5.5"/>
<line x1="73.8" y1="1381.8" x2="1487.4" y2="1381.8" stroke="#262626" stroke-width="1.5"/>
<line x1="73.8" y1="1578.8" x2="1487.4" y2="1578.8" stroke="#262626" stroke-width="1.5"/>
<line x1="1487.4" y1="1381.8" x2="1487.4" y2="1578.8" stroke="#262626" stroke-width="1.5"/>
<line x1="73.8" y1="1381.8" x2="73.8" y2="1578.8" stroke="#2f8fd0" stroke-width="1.3"/>
<line x1="107.72" y1="1578.8" x2="107.72" y2="1565.8" stroke="#262626" stroke-width="1.1"/>
<line x1="107.72" y1="1381.8" x2="107.72" y2="1394.8" stroke="#262626" stroke-width="1.1"/>
<text x="107.72" y="1597.76" font-size="13.3" fill="#262626" text-anchor="middle">-80</text>
<line x1="245.69" y1="1578.8" x2="245.69" y2="1565.8" stroke="#262626" stroke-width="1.1"/>
<line x1="245.69" y1="1381.8" x2="245.69" y2="1394.8" stroke="#262626" stroke-width="1.1"/>
<text x="245.69" y="1597.76" font-size="13.3" fill="#262626" text-anchor="middle">-60</text>
<line x1="383.66" y1="1578.8" x2="383.66" y2="1565.8" stroke="#262626" stroke-width="1.1"/>
<line x1="383.66" y1="1381.8" x2="383.66" y2="1394.8" stroke="#262626" stroke-width="1.1"/>
<text x="383.66" y="1597.76" font-size="13.3" fill="#262626" text-anchor="middle">-40</text>
<line x1="521.63" y1="1578.8" x2="521.63" y2="1565.8" stroke="#262626" stroke-width="1.1"/>
<line x1="521.63" y1="1381.8" x2="521.63" y2="1394.8" stroke="#262626" stroke-width="1.1"/>
<text x="521.63" y="1597.76" font-size="13.3" fill="#262626" text-anchor="middle">-20</text>
<line x1="659.6" y1="1578.8" x2="659.6" y2="1565.8" stroke="#262626" stroke-width="1.1"/>
<line x1="659.6" y1="1381.8" x2="659.6" y2="1394.8" stroke="#262626" stroke-width="1.1"/>
<text x="659.6" y="1597.76" font-size="13.3" fill="#262626" text-anchor="middle">0</text>
<line x1="797.57" y1="1578.8" x2="797.57" y2="1565.8" stroke="#262626" stroke-width="1.1"/>
<line x1="797.57" y1="1381.8" x2="797.57" y2="1394.8" stroke="#262626" stroke-width="1.1"/>
<text x="797.57" y="1597.76" font-size="13.3" fill="#262626" text-anchor="middle">20</text>
<line x1="935.54" y1="1578.8" x2="935.54" y2="1565.8" stroke="#262626" stroke-width="1.1"/>
<line x1="935.54" y1="1381.8" x2="935.54" y2="1394.8" stroke="#262626" stroke-width="1.1"/>
<text x="935.54" y="1597.76" font-size="13.3" fill="#262626" text-anchor="middle">40</text>
<line x1="1073.51" y1="1578.8" x2="1073.51" y2="1565.8" stroke="#262626" stroke-width="1.1"/>
<line x1="1073.51" y1="1381.8" x2="1073.51" y2="1394.8" stroke="#262626" stroke-width="1.1"/>
<text x="1073.51" y="1597.76" font-size="13.3" fill="#262626" text-anchor="middle">60</text>
<line x1="1211.48" y1="1578.8" x2="1211.48" y2="1565.8" stroke="#262626" stroke-width="1.1"/>
<line x1="1211.48" y1="1381.8" x2="1211.48" y2="1394.8" stroke="#262626" stroke-width="1.1"/>
<text x="1211.48" y="1597.76" font-size="13.3" fill="#262626" text-anchor="middle">80</text>
<line x1="1349.45" y1="1578.8" x2="1349.45" y2="1565.8" stroke="#262626" stroke-width="1.1"/>
<line x1="1349.45" y1="1381.8" x2="1349.45" y2="1394.8" stroke="#262626" stroke-width="1.1"/>
<text x="1349.45" y="1597.76" font-size="13.3" fill="#262626" text-anchor="middle">100</text>
<text x="1487.42" y="1597.76" font-size="13.3" fill="#262626" text-anchor="middle">120</text>
<line x1="73.8" y1="1552.9" x2="86.8" y2="1552.9" stroke="#2f8fd0" stroke-width="1.2"/>
<text x="67.3" y="1557.66" font-size="13.3" fill="#2f8fd0" text-anchor="end">2</text>
<line x1="73.8" y1="1510.12" x2="86.8" y2="1510.12" stroke="#2f8fd0" stroke-width="1.2"/>
<text x="67.3" y="1514.88" font-size="13.3" fill="#2f8fd0" text-anchor="end">3</text>
<line x1="73.8" y1="1467.34" x2="86.8" y2="1467.34" stroke="#2f8fd0" stroke-width="1.2"/>
<text x="67.3" y="1472.1" font-size="13.3" fill="#2f8fd0" text-anchor="end">4</text>
<line x1="73.8" y1="1424.56" x2="86.8" y2="1424.56" stroke="#2f8fd0" stroke-width="1.2"/>
<text x="67.3" y="1429.32" font-size="13.3" fill="#2f8fd0" text-anchor="end">5</text>
<line x1="73.8" y1="1381.78" x2="86.8" y2="1381.78" stroke="#2f8fd0" stroke-width="1.2"/>
<text x="67.3" y="1386.54" font-size="13.3" fill="#2f8fd0" text-anchor="end">6</text>
<line x1="1474.4" y1="1579.1" x2="1487.4" y2="1579.1" stroke="#262626" stroke-width="1.1"/>
<text x="1493.4" y="1583.86" font-size="13.3" fill="#262626">0</text>
<line x1="1474.4" y1="1529.75" x2="1487.4" y2="1529.75" stroke="#262626" stroke-width="1.1"/>
<text x="1493.4" y="1534.51" font-size="13.3" fill="#262626">0.5</text>
<line x1="1474.4" y1="1480.4" x2="1487.4" y2="1480.4" stroke="#262626" stroke-width="1.1"/>
<text x="1493.4" y="1485.16" font-size="13.3" fill="#262626">1</text>
<line x1="1474.4" y1="1431.05" x2="1487.4" y2="1431.05" stroke="#262626" stroke-width="1.1"/>
<text x="1493.4" y="1435.81" font-size="13.3" fill="#262626">1.5</text>
<line x1="1474.4" y1="1381.7" x2="1487.4" y2="1381.7" stroke="#262626" stroke-width="1.1"/>
<text x="1493.4" y="1386.46" font-size="13.3" fill="#262626">2</text>
<path d="M87.1,1566.3 L90.67,1570.5 L87.1,1574.7 L83.53,1570.5 Z" fill="none" stroke="#111" stroke-width="1.1"/>
<path d="M502,1566.2 L505.57,1570.4 L502,1574.6 L498.43,1570.4 Z" fill="none" stroke="#111" stroke-width="1.1"/>
<path d="M659.5,1566.2 L663.07,1570.4 L659.5,1574.6 L655.93,1570.4 Z" fill="none" stroke="#111" stroke-width="1.1"/>
<path d="M762.9,1447.9 L766.47,1452.1 L762.9,1456.3 L759.33,1452.1 Z" fill="none" stroke="#111" stroke-width="1.1"/>
<path d="M866.9,1410.7 L870.47,1414.9 L866.9,1419.1 L863.33,1414.9 Z" fill="none" stroke="#111" stroke-width="1.1"/>
<path d="M970.5,1410.7 L974.07,1414.9 L970.5,1419.1 L966.93,1414.9 Z" fill="none" stroke="#111" stroke-width="1.1"/>
<path d="M1074.2,1440.4 L1077.77,1444.6 L1074.2,1448.8 L1070.63,1444.6 Z" fill="none" stroke="#111" stroke-width="1.1"/>
<path d="M1177.2,1451.7 L1180.77,1455.9 L1177.2,1460.1 L1173.63,1455.9 Z" fill="none" stroke="#111" stroke-width="1.1"/>
<path d="M1281.3,1488 L1284.87,1492.2 L1281.3,1496.4 L1277.73,1492.2 Z" fill="none" stroke="#111" stroke-width="1.1"/>
<rect x="173.5" y="1577" width="6" height="6" fill="none" stroke="#de6a2f" stroke-width="1.1"/>
<rect x="546.4" y="1538.9" width="6" height="6" fill="none" stroke="#de6a2f" stroke-width="1.1"/>
<rect x="849.6" y="1552.1" width="6" height="6" fill="none" stroke="#de6a2f" stroke-width="1.1"/>
<rect x="967.5" y="1478.3" width="6" height="6" fill="none" stroke="#de6a2f" stroke-width="1.1"/>
<rect x="1153.6" y="1415" width="6" height="6" fill="none" stroke="#de6a2f" stroke-width="1.1"/>
<rect x="1443.9" y="1553.6" width="6" height="6" fill="none" stroke="#de6a2f" stroke-width="1.1"/>
<circle cx="176.5" cy="1523.8" r="3.8" fill="none" stroke="#3b98d4" stroke-width="1.1"/>
<circle cx="549.4" cy="1540.2" r="3.8" fill="none" stroke="#3b98d4" stroke-width="1.1"/>
<circle cx="852.6" cy="1536.2" r="3.8" fill="none" stroke="#3b98d4" stroke-width="1.1"/>
<circle cx="970.5" cy="1570.4" r="3.8" fill="none" stroke="#3b98d4" stroke-width="1.1"/>
<circle cx="1156.6" cy="1562.6" r="3.8" fill="none" stroke="#3b98d4" stroke-width="1.1"/>
<circle cx="1446.9" cy="1529.3" r="3.8" fill="none" stroke="#3b98d4" stroke-width="1.1"/>
<text x="330.68" y="1386.6" font-size="12.8" fill="#262626" text-anchor="end" transform="rotate(-90 330.68 1386.6)">Stim OFF</text>
<text x="675.6" y="1386.6" font-size="12.8" fill="#262626" text-anchor="end" transform="rotate(-90 675.6 1386.6)">Levodopa</text>
<text x="691" y="1386.6" font-size="12.8" fill="#262626" text-anchor="end" transform="rotate(-90 691 1386.6)">Intake</text>
<text x="1296.47" y="1386.6" font-size="12.8" fill="#262626" text-anchor="end" transform="rotate(-90 1296.47 1386.6)">Stim ON</text>
<text x="54.5" y="1480" font-size="13.3" fill="#2f8fd0" text-anchor="middle" transform="rotate(-90 54.5 1480)">Relative spectral power (%)</text>
<text x="1528.5" y="1480" font-size="13.3" fill="#262626" text-anchor="middle" transform="rotate(-90 1528.5 1480)">L-dopa concentration (ug/ml)</text>
<text x="780.8" y="1614.46" font-size="13.3" fill="#262626" text-anchor="middle">Time from L-dopa intake (min)</text>
<rect x="1320.7" y="1396.3" width="155" height="47.6" fill="#fff" stroke="#262626" stroke-width="1.1"/>
<line x1="1324.7" y1="1406" x2="1333.7" y2="1406" stroke="#3b98d4" stroke-width="1.3"/>
<line x1="1351.7" y1="1406" x2="1362.2" y2="1406" stroke="#3b98d4" stroke-width="1.3"/>
<circle cx="1343.2" cy="1406" r="3.8" fill="none" stroke="#3b98d4" stroke-width="1.1"/>
<line x1="1339.7" y1="1406" x2="1346.7" y2="1406" stroke="#3b98d4" stroke-width="1.1"/>
<text x="1365.2" y="1409.79" font-size="10.6" fill="#262626">Peak in band 10-16Hz</text>
<line x1="1324.7" y1="1421" x2="1333.7" y2="1421" stroke="#de6a2f" stroke-width="1.3"/>
<line x1="1351.7" y1="1421" x2="1362.2" y2="1421" stroke="#de6a2f" stroke-width="1.3"/>
<rect x="1340.2" y="1418" width="6" height="6" fill="none" stroke="#de6a2f" stroke-width="1.1"/>
<line x1="1340.2" y1="1421" x2="1346.2" y2="1421" stroke="#de6a2f" stroke-width="1.1"/>
<text x="1365.2" y="1424.79" font-size="10.6" fill="#262626">Peak in band 26-34Hz</text>
<line x1="1324.7" y1="1436.4" x2="1333.7" y2="1436.4" stroke="#333" stroke-width="1.3"/>
<line x1="1351.7" y1="1436.4" x2="1362.2" y2="1436.4" stroke="#333" stroke-width="1.3"/>
<path d="M1343.2,1432.2 L1346.77,1436.4 L1343.2,1440.6 L1339.63,1436.4 Z" fill="none" stroke="#111" stroke-width="1.1"/>
<line x1="1339.7" y1="1436.4" x2="1346.7" y2="1436.4" stroke="#111" stroke-width="1.1"/>
<text x="1365.2" y="1440.19" font-size="10.6" fill="#262626">L-dopa concentration</text>
<rect x="73.8" y="1657.2" width="185.6" height="196.5" fill="url(#g7)" filter="url(#f7)"/>
<rect x="73.8" y="1657.2" width="185.6" height="196.5" fill="none" stroke="#262626" stroke-width="1.1"/>
<line x1="73.8" y1="1853.7" x2="75.8" y2="1853.7" stroke="#262626" stroke-width="1"/>
<line x1="257.4" y1="1853.7" x2="259.4" y2="1853.7" stroke="#262626" stroke-width="1"/>
<text x="67.8" y="1858.46" font-size="13.3" fill="#262626" text-anchor="end">0</text>
<line x1="73.8" y1="1804.58" x2="75.8" y2="1804.58" stroke="#262626" stroke-width="1"/>
<line x1="257.4" y1="1804.58" x2="259.4" y2="1804.58" stroke="#262626" stroke-width="1"/>
<text x="67.8" y="1809.34" font-size="13.3" fill="#262626" text-anchor="end">20</text>
<line x1="73.8" y1="1755.45" x2="75.8" y2="1755.45" stroke="#262626" stroke-width="1"/>
<line x1="257.4" y1="1755.45" x2="259.4" y2="1755.45" stroke="#262626" stroke-width="1"/>
<text x="67.8" y="1760.21" font-size="13.3" fill="#262626" text-anchor="end">40</text>
<line x1="73.8" y1="1706.33" x2="75.8" y2="1706.33" stroke="#262626" stroke-width="1"/>
<line x1="257.4" y1="1706.33" x2="259.4" y2="1706.33" stroke="#262626" stroke-width="1"/>
<text x="67.8" y="1711.09" font-size="13.3" fill="#262626" text-anchor="end">60</text>
<line x1="73.8" y1="1657.2" x2="75.8" y2="1657.2" stroke="#262626" stroke-width="1"/>
<line x1="257.4" y1="1657.2" x2="259.4" y2="1657.2" stroke="#262626" stroke-width="1"/>
<text x="67.8" y="1661.96" font-size="13.3" fill="#262626" text-anchor="end">80</text>
<line x1="124.51" y1="1853.7" x2="124.51" y2="1851.7" stroke="#262626" stroke-width="1"/>
<line x1="124.51" y1="1657.2" x2="124.51" y2="1659.2" stroke="#262626" stroke-width="1"/>
<text x="124.51" y="1871.66" font-size="13.3" fill="#262626" text-anchor="middle">50</text>
<line x1="176.79" y1="1853.7" x2="176.79" y2="1851.7" stroke="#262626" stroke-width="1"/>
<line x1="176.79" y1="1657.2" x2="176.79" y2="1659.2" stroke="#262626" stroke-width="1"/>
<text x="176.79" y="1871.66" font-size="13.3" fill="#262626" text-anchor="middle">100</text>
<line x1="229.08" y1="1853.7" x2="229.08" y2="1851.7" stroke="#262626" stroke-width="1"/>
<line x1="229.08" y1="1657.2" x2="229.08" y2="1659.2" stroke="#262626" stroke-width="1"/>
<text x="229.08" y="1871.66" font-size="13.3" fill="#262626" text-anchor="middle">150</text>
<text x="166.6" y="1887.96" font-size="13.3" fill="#262626" text-anchor="middle">Time (sec)</text>
<text x="166.6" y="1649.96" font-size="13.3" fill="#111" text-anchor="middle" font-weight="bold">MED OFF - STIM ON</text>
<text x="49.3" y="1755.45" font-size="13.3" fill="#262626" text-anchor="middle" transform="rotate(-90 49.3 1755.45)">f (Hz)</text>
<rect x="319.1" y="1657.2" width="185.6" height="196.5" fill="url(#g8)" filter="url(#f8)"/>
<rect x="319.1" y="1657.2" width="185.6" height="196.5" fill="none" stroke="#262626" stroke-width="1.1"/>
<line x1="319.1" y1="1853.7" x2="321.1" y2="1853.7" stroke="#262626" stroke-width="1"/>
<line x1="502.7" y1="1853.7" x2="504.7" y2="1853.7" stroke="#262626" stroke-width="1"/>
<text x="313.1" y="1858.46" font-size="13.3" fill="#262626" text-anchor="end">0</text>
<line x1="319.1" y1="1804.58" x2="321.1" y2="1804.58" stroke="#262626" stroke-width="1"/>
<line x1="502.7" y1="1804.58" x2="504.7" y2="1804.58" stroke="#262626" stroke-width="1"/>
<text x="313.1" y="1809.34" font-size="13.3" fill="#262626" text-anchor="end">20</text>
<line x1="319.1" y1="1755.45" x2="321.1" y2="1755.45" stroke="#262626" stroke-width="1"/>
<line x1="502.7" y1="1755.45" x2="504.7" y2="1755.45" stroke="#262626" stroke-width="1"/>
<text x="313.1" y="1760.21" font-size="13.3" fill="#262626" text-anchor="end">40</text>
<line x1="319.1" y1="1706.33" x2="321.1" y2="1706.33" stroke="#262626" stroke-width="1"/>
<line x1="502.7" y1="1706.33" x2="504.7" y2="1706.33" stroke="#262626" stroke-width="1"/>
<text x="313.1" y="1711.09" font-size="13.3" fill="#262626" text-anchor="end">60</text>
<line x1="319.1" y1="1657.2" x2="321.1" y2="1657.2" stroke="#262626" stroke-width="1"/>
<line x1="502.7" y1="1657.2" x2="504.7" y2="1657.2" stroke="#262626" stroke-width="1"/>
<text x="313.1" y="1661.96" font-size="13.3" fill="#262626" text-anchor="end">80</text>
<line x1="369.81" y1="1853.7" x2="369.81" y2="1851.7" stroke="#262626" stroke-width="1"/>
<line x1="369.81" y1="1657.2" x2="369.81" y2="1659.2" stroke="#262626" stroke-width="1"/>
<text x="369.81" y="1871.66" font-size="13.3" fill="#262626" text-anchor="middle">50</text>
<line x1="422.09" y1="1853.7" x2="422.09" y2="1851.7" stroke="#262626" stroke-width="1"/>
<line x1="422.09" y1="1657.2" x2="422.09" y2="1659.2" stroke="#262626" stroke-width="1"/>
<text x="422.09" y="1871.66" font-size="13.3" fill="#262626" text-anchor="middle">100</text>
<line x1="474.38" y1="1853.7" x2="474.38" y2="1851.7" stroke="#262626" stroke-width="1"/>
<line x1="474.38" y1="1657.2" x2="474.38" y2="1659.2" stroke="#262626" stroke-width="1"/>
<text x="474.38" y="1871.66" font-size="13.3" fill="#262626" text-anchor="middle">150</text>
<text x="411.9" y="1887.96" font-size="13.3" fill="#262626" text-anchor="middle">Time (sec)</text>
<text x="411.9" y="1649.96" font-size="13.3" fill="#111" text-anchor="middle" font-weight="bold">MED OFF - STIM OFF</text>
<rect x="564.4" y="1657.2" width="185.6" height="196.5" fill="url(#g9)" filter="url(#f9)"/>
<rect x="564.4" y="1657.2" width="185.6" height="196.5" fill="none" stroke="#262626" stroke-width="1.1"/>
<line x1="564.4" y1="1853.7" x2="566.4" y2="1853.7" stroke="#262626" stroke-width="1"/>
<line x1="748" y1="1853.7" x2="750" y2="1853.7" stroke="#262626" stroke-width="1"/>
<text x="558.4" y="1858.46" font-size="13.3" fill="#262626" text-anchor="end">0</text>
<line x1="564.4" y1="1804.58" x2="566.4" y2="1804.58" stroke="#262626" stroke-width="1"/>
<line x1="748" y1="1804.58" x2="750" y2="1804.58" stroke="#262626" stroke-width="1"/>
<text x="558.4" y="1809.34" font-size="13.3" fill="#262626" text-anchor="end">20</text>
<line x1="564.4" y1="1755.45" x2="566.4" y2="1755.45" stroke="#262626" stroke-width="1"/>
<line x1="748" y1="1755.45" x2="750" y2="1755.45" stroke="#262626" stroke-width="1"/>
<text x="558.4" y="1760.21" font-size="13.3" fill="#262626" text-anchor="end">40</text>
<line x1="564.4" y1="1706.33" x2="566.4" y2="1706.33" stroke="#262626" stroke-width="1"/>
<line x1="748" y1="1706.33" x2="750" y2="1706.33" stroke="#262626" stroke-width="1"/>
<text x="558.4" y="1711.09" font-size="13.3" fill="#262626" text-anchor="end">60</text>
<line x1="564.4" y1="1657.2" x2="566.4" y2="1657.2" stroke="#262626" stroke-width="1"/>
<line x1="748" y1="1657.2" x2="750" y2="1657.2" stroke="#262626" stroke-width="1"/>
<text x="558.4" y="1661.96" font-size="13.3" fill="#262626" text-anchor="end">80</text>
<line x1="615.11" y1="1853.7" x2="615.11" y2="1851.7" stroke="#262626" stroke-width="1"/>
<line x1="615.11" y1="1657.2" x2="615.11" y2="1659.2" stroke="#262626" stroke-width="1"/>
<text x="615.11" y="1871.66" font-size="13.3" fill="#262626" text-anchor="middle">50</text>
<line x1="667.39" y1="1853.7" x2="667.39" y2="1851.7" stroke="#262626" stroke-width="1"/>
<line x1="667.39" y1="1657.2" x2="667.39" y2="1659.2" stroke="#262626" stroke-width="1"/>
<text x="667.39" y="1871.66" font-size="13.3" fill="#262626" text-anchor="middle">100</text>
<line x1="719.68" y1="1853.7" x2="719.68" y2="1851.7" stroke="#262626" stroke-width="1"/>
<line x1="719.68" y1="1657.2" x2="719.68" y2="1659.2" stroke="#262626" stroke-width="1"/>
<text x="719.68" y="1871.66" font-size="13.3" fill="#262626" text-anchor="middle">150</text>
<text x="657.2" y="1887.96" font-size="13.3" fill="#262626" text-anchor="middle">Time (sec)</text>
<text x="657.2" y="1649.96" font-size="13.3" fill="#111" text-anchor="middle" font-weight="bold">MED ON - STIM OFF (1)</text>
<rect x="810.6" y="1657.2" width="185.6" height="196.5" fill="url(#g10)" filter="url(#f10)"/>
<rect x="810.6" y="1657.2" width="185.6" height="196.5" fill="none" stroke="#262626" stroke-width="1.1"/>
<line x1="810.6" y1="1853.7" x2="812.6" y2="1853.7" stroke="#262626" stroke-width="1"/>
<line x1="994.2" y1="1853.7" x2="996.2" y2="1853.7" stroke="#262626" stroke-width="1"/>
<text x="804.6" y="1858.46" font-size="13.3" fill="#262626" text-anchor="end">0</text>
<line x1="810.6" y1="1804.58" x2="812.6" y2="1804.58" stroke="#262626" stroke-width="1"/>
<line x1="994.2" y1="1804.58" x2="996.2" y2="1804.58" stroke="#262626" stroke-width="1"/>
<text x="804.6" y="1809.34" font-size="13.3" fill="#262626" text-anchor="end">20</text>
<line x1="810.6" y1="1755.45" x2="812.6" y2="1755.45" stroke="#262626" stroke-width="1"/>
<line x1="994.2" y1="1755.45" x2="996.2" y2="1755.45" stroke="#262626" stroke-width="1"/>
<text x="804.6" y="1760.21" font-size="13.3" fill="#262626" text-anchor="end">40</text>
<line x1="810.6" y1="1706.33" x2="812.6" y2="1706.33" stroke="#262626" stroke-width="1"/>
<line x1="994.2" y1="1706.33" x2="996.2" y2="1706.33" stroke="#262626" stroke-width="1"/>
<text x="804.6" y="1711.09" font-size="13.3" fill="#262626" text-anchor="end">60</text>
<line x1="810.6" y1="1657.2" x2="812.6" y2="1657.2" stroke="#262626" stroke-width="1"/>
<line x1="994.2" y1="1657.2" x2="996.2" y2="1657.2" stroke="#262626" stroke-width="1"/>
<text x="804.6" y="1661.96" font-size="13.3" fill="#262626" text-anchor="end">80</text>
<line x1="861.31" y1="1853.7" x2="861.31" y2="1851.7" stroke="#262626" stroke-width="1"/>
<line x1="861.31" y1="1657.2" x2="861.31" y2="1659.2" stroke="#262626" stroke-width="1"/>
<text x="861.31" y="1871.66" font-size="13.3" fill="#262626" text-anchor="middle">50</text>
<line x1="913.59" y1="1853.7" x2="913.59" y2="1851.7" stroke="#262626" stroke-width="1"/>
<line x1="913.59" y1="1657.2" x2="913.59" y2="1659.2" stroke="#262626" stroke-width="1"/>
<text x="913.59" y="1871.66" font-size="13.3" fill="#262626" text-anchor="middle">100</text>
<line x1="965.88" y1="1853.7" x2="965.88" y2="1851.7" stroke="#262626" stroke-width="1"/>
<line x1="965.88" y1="1657.2" x2="965.88" y2="1659.2" stroke="#262626" stroke-width="1"/>
<text x="965.88" y="1871.66" font-size="13.3" fill="#262626" text-anchor="middle">150</text>
<text x="903.4" y="1887.96" font-size="13.3" fill="#262626" text-anchor="middle">Time (sec)</text>
<text x="903.4" y="1649.96" font-size="13.3" fill="#111" text-anchor="middle" font-weight="bold">MED ON - STIM OFF (2)</text>
<rect x="1056.3" y="1657.2" width="185.6" height="196.5" fill="url(#g11)" filter="url(#f11)"/>
<rect x="1056.3" y="1657.2" width="185.6" height="196.5" fill="none" stroke="#262626" stroke-width="1.1"/>
<line x1="1056.3" y1="1853.7" x2="1058.3" y2="1853.7" stroke="#262626" stroke-width="1"/>
<line x1="1239.9" y1="1853.7" x2="1241.9" y2="1853.7" stroke="#262626" stroke-width="1"/>
<text x="1050.3" y="1858.46" font-size="13.3" fill="#262626" text-anchor="end">0</text>
<line x1="1056.3" y1="1804.58" x2="1058.3" y2="1804.58" stroke="#262626" stroke-width="1"/>
<line x1="1239.9" y1="1804.58" x2="1241.9" y2="1804.58" stroke="#262626" stroke-width="1"/>
<text x="1050.3" y="1809.34" font-size="13.3" fill="#262626" text-anchor="end">20</text>
<line x1="1056.3" y1="1755.45" x2="1058.3" y2="1755.45" stroke="#262626" stroke-width="1"/>
<line x1="1239.9" y1="1755.45" x2="1241.9" y2="1755.45" stroke="#262626" stroke-width="1"/>
<text x="1050.3" y="1760.21" font-size="13.3" fill="#262626" text-anchor="end">40</text>
<line x1="1056.3" y1="1706.33" x2="1058.3" y2="1706.33" stroke="#262626" stroke-width="1"/>
<line x1="1239.9" y1="1706.33" x2="1241.9" y2="1706.33" stroke="#262626" stroke-width="1"/>
<text x="1050.3" y="1711.09" font-size="13.3" fill="#262626" text-anchor="end">60</text>
<line x1="1056.3" y1="1657.2" x2="1058.3" y2="1657.2" stroke="#262626" stroke-width="1"/>
<line x1="1239.9" y1="1657.2" x2="1241.9" y2="1657.2" stroke="#262626" stroke-width="1"/>
<text x="1050.3" y="1661.96" font-size="13.3" fill="#262626" text-anchor="end">80</text>
<line x1="1107.01" y1="1853.7" x2="1107.01" y2="1851.7" stroke="#262626" stroke-width="1"/>
<line x1="1107.01" y1="1657.2" x2="1107.01" y2="1659.2" stroke="#262626" stroke-width="1"/>
<text x="1107.01" y="1871.66" font-size="13.3" fill="#262626" text-anchor="middle">50</text>
<line x1="1159.29" y1="1853.7" x2="1159.29" y2="1851.7" stroke="#262626" stroke-width="1"/>
<line x1="1159.29" y1="1657.2" x2="1159.29" y2="1659.2" stroke="#262626" stroke-width="1"/>
<text x="1159.29" y="1871.66" font-size="13.3" fill="#262626" text-anchor="middle">100</text>
<line x1="1211.58" y1="1853.7" x2="1211.58" y2="1851.7" stroke="#262626" stroke-width="1"/>
<line x1="1211.58" y1="1657.2" x2="1211.58" y2="1659.2" stroke="#262626" stroke-width="1"/>
<text x="1211.58" y="1871.66" font-size="13.3" fill="#262626" text-anchor="middle">150</text>
<text x="1149.1" y="1887.96" font-size="13.3" fill="#262626" text-anchor="middle">Time (sec)</text>
<text x="1149.1" y="1649.96" font-size="13.3" fill="#111" text-anchor="middle" font-weight="bold">MED ON - STIM OFF (3)</text>
<rect x="1301.9" y="1657.2" width="185.6" height="196.5" fill="url(#g12)" filter="url(#f12)"/>
<rect x="1301.9" y="1657.2" width="185.6" height="196.5" fill="none" stroke="#262626" stroke-width="1.1"/>
<line x1="1301.9" y1="1853.7" x2="1303.9" y2="1853.7" stroke="#262626" stroke-width="1"/>
<line x1="1485.5" y1="1853.7" x2="1487.5" y2="1853.7" stroke="#262626" stroke-width="1"/>
<text x="1295.9" y="1858.46" font-size="13.3" fill="#262626" text-anchor="end">0</text>
<line x1="1301.9" y1="1804.58" x2="1303.9" y2="1804.58" stroke="#262626" stroke-width="1"/>
<line x1="1485.5" y1="1804.58" x2="1487.5" y2="1804.58" stroke="#262626" stroke-width="1"/>
<text x="1295.9" y="1809.34" font-size="13.3" fill="#262626" text-anchor="end">20</text>
<line x1="1301.9" y1="1755.45" x2="1303.9" y2="1755.45" stroke="#262626" stroke-width="1"/>
<line x1="1485.5" y1="1755.45" x2="1487.5" y2="1755.45" stroke="#262626" stroke-width="1"/>
<text x="1295.9" y="1760.21" font-size="13.3" fill="#262626" text-anchor="end">40</text>
<line x1="1301.9" y1="1706.33" x2="1303.9" y2="1706.33" stroke="#262626" stroke-width="1"/>
<line x1="1485.5" y1="1706.33" x2="1487.5" y2="1706.33" stroke="#262626" stroke-width="1"/>
<text x="1295.9" y="1711.09" font-size="13.3" fill="#262626" text-anchor="end">60</text>
<line x1="1301.9" y1="1657.2" x2="1303.9" y2="1657.2" stroke="#262626" stroke-width="1"/>
<line x1="1485.5" y1="1657.2" x2="1487.5" y2="1657.2" stroke="#262626" stroke-width="1"/>
<text x="1295.9" y="1661.96" font-size="13.3" fill="#262626" text-anchor="end">80</text>
<line x1="1352.61" y1="1853.7" x2="1352.61" y2="1851.7" stroke="#262626" stroke-width="1"/>
<line x1="1352.61" y1="1657.2" x2="1352.61" y2="1659.2" stroke="#262626" stroke-width="1"/>
<text x="1352.61" y="1871.66" font-size="13.3" fill="#262626" text-anchor="middle">50</text>
<line x1="1404.89" y1="1853.7" x2="1404.89" y2="1851.7" stroke="#262626" stroke-width="1"/>
<line x1="1404.89" y1="1657.2" x2="1404.89" y2="1659.2" stroke="#262626" stroke-width="1"/>
<text x="1404.89" y="1871.66" font-size="13.3" fill="#262626" text-anchor="middle">100</text>
<line x1="1457.18" y1="1853.7" x2="1457.18" y2="1851.7" stroke="#262626" stroke-width="1"/>
<line x1="1457.18" y1="1657.2" x2="1457.18" y2="1659.2" stroke="#262626" stroke-width="1"/>
<text x="1457.18" y="1871.66" font-size="13.3" fill="#262626" text-anchor="middle">150</text>
<text x="1394.7" y="1887.96" font-size="13.3" fill="#262626" text-anchor="middle">Time (sec)</text>
<text x="1394.7" y="1649.96" font-size="13.3" fill="#111" text-anchor="middle" font-weight="bold">MED ON - STIM ON</text>
<line x1="110.92" y1="1931" x2="110.92" y2="2127.3" stroke="#8484ff" stroke-width="1.1" stroke-dasharray="1.5 2.2"/>
<line x1="145.72" y1="1931" x2="145.72" y2="2127.3" stroke="#ff8484" stroke-width="1.1" stroke-dasharray="1.5 2.2"/>
<path d="M73.8,2050.74 C73.99,2040.6 74.57,2005.27 74.96,1989.89 C75.35,1974.51 75.73,1964.04 76.12,1958.48 C76.51,1952.92 76.85,1955.86 77.28,1956.52 C77.71,1957.17 78.21,1958.15 78.67,1962.41 C79.14,1966.66 79.56,1972.88 80.06,1982.04 C80.57,1991.2 81.11,2007.88 81.69,2017.37 C82.27,2026.86 82.93,2033.4 83.54,2038.97 C84.16,2044.53 84.78,2047.47 85.4,2050.74 C86.02,2054.01 86.64,2057.45 87.26,2058.6 C87.87,2059.74 88.45,2058.27 89.11,2057.61 C89.77,2056.96 90.47,2055.39 91.2,2054.67 C91.93,2053.95 92.75,2053.36 93.52,2053.29 C94.29,2053.23 95.07,2053.56 95.84,2054.28 C96.61,2055 97.19,2056.08 98.16,2057.61 C99.13,2059.15 100.48,2061.54 101.64,2063.5 C102.8,2065.47 103.96,2067.26 105.12,2069.39 C106.28,2071.52 107.44,2074.14 108.6,2076.26 C109.76,2078.39 111.11,2080.58 112.08,2082.15 C113.05,2083.72 113.63,2085.03 114.4,2085.68 C115.17,2086.34 115.95,2085.52 116.72,2086.08 C117.49,2086.63 118.27,2087.88 119.04,2089.02 C119.81,2090.17 120.39,2091.9 121.36,2092.95 C122.33,2093.99 123.49,2094.55 124.84,2095.3 C126.19,2096.06 127.93,2096.78 129.48,2097.46 C131.03,2098.15 132.57,2099.1 134.12,2099.43 C135.67,2099.75 137.41,2099.29 138.76,2099.43 C140.11,2099.56 141.08,2099.82 142.24,2100.21 C143.4,2100.6 144.56,2101.03 145.72,2101.78 C146.88,2102.53 148.04,2103.74 149.2,2104.73 C150.36,2105.71 151.33,2106.75 152.68,2107.67 C154.03,2108.59 155.77,2109.57 157.32,2110.22 C158.87,2110.88 160.41,2111.27 161.96,2111.6 C163.51,2111.92 163.89,2111.92 166.6,2112.18 C169.31,2112.45 174.33,2112.94 178.2,2113.17 C182.07,2113.4 187.09,2113.56 189.8,2113.56 C192.51,2113.56 192.51,2113.07 194.44,2113.17 C196.37,2113.26 198.31,2113.82 201.4,2114.15 C204.49,2114.48 209.13,2114.97 213,2115.13 C216.87,2115.29 220.73,2114.97 224.6,2115.13 C228.47,2115.29 232.33,2115.85 236.2,2116.11 C240.07,2116.37 243.93,2116.47 247.8,2116.7 C251.67,2116.93 257.47,2117.35 259.4,2117.49" fill="none" stroke="#3b98d4" stroke-width="1.4" clip-path="url(#c7)"/>
<rect x="73.8" y="1931" width="185.6" height="196.3" fill="none" stroke="#262626" stroke-width="1.1"/>
<line x1="73.8" y1="2088.04" x2="75.8" y2="2088.04" stroke="#262626" stroke-width="1"/>
<line x1="257.4" y1="2088.04" x2="259.4" y2="2088.04" stroke="#262626" stroke-width="1"/>
<text x="67.8" y="2092.8" font-size="13.3" fill="#262626" text-anchor="end">2</text>
<line x1="73.8" y1="2048.78" x2="75.8" y2="2048.78" stroke="#262626" stroke-width="1"/>
<line x1="257.4" y1="2048.78" x2="259.4" y2="2048.78" stroke="#262626" stroke-width="1"/>
<text x="67.8" y="2053.54" font-size="13.3" fill="#262626" text-anchor="end">4</text>
<line x1="73.8" y1="2009.52" x2="75.8" y2="2009.52" stroke="#262626" stroke-width="1"/>
<line x1="257.4" y1="2009.52" x2="259.4" y2="2009.52" stroke="#262626" stroke-width="1"/>
<text x="67.8" y="2014.28" font-size="13.3" fill="#262626" text-anchor="end">6</text>
<line x1="73.8" y1="1970.26" x2="75.8" y2="1970.26" stroke="#262626" stroke-width="1"/>
<line x1="257.4" y1="1970.26" x2="259.4" y2="1970.26" stroke="#262626" stroke-width="1"/>
<text x="67.8" y="1975.02" font-size="13.3" fill="#262626" text-anchor="end">8</text>
<line x1="73.8" y1="1931" x2="75.8" y2="1931" stroke="#262626" stroke-width="1"/>
<line x1="257.4" y1="1931" x2="259.4" y2="1931" stroke="#262626" stroke-width="1"/>
<text x="67.8" y="1935.76" font-size="13.3" fill="#262626" text-anchor="end">10</text>
<line x1="73.8" y1="2127.3" x2="73.8" y2="2125.3" stroke="#262626" stroke-width="1"/>
<line x1="73.8" y1="1931" x2="73.8" y2="1933" stroke="#262626" stroke-width="1"/>
<text x="73.8" y="2145.26" font-size="13.3" fill="#262626" text-anchor="middle">0</text>
<line x1="120.2" y1="2127.3" x2="120.2" y2="2125.3" stroke="#262626" stroke-width="1"/>
<line x1="120.2" y1="1931" x2="120.2" y2="1933" stroke="#262626" stroke-width="1"/>
<text x="120.2" y="2145.26" font-size="13.3" fill="#262626" text-anchor="middle">20</text>
<line x1="166.6" y1="2127.3" x2="166.6" y2="2125.3" stroke="#262626" stroke-width="1"/>
<line x1="166.6" y1="1931" x2="166.6" y2="1933" stroke="#262626" stroke-width="1"/>
<text x="166.6" y="2145.26" font-size="13.3" fill="#262626" text-anchor="middle">40</text>
<line x1="213" y1="2127.3" x2="213" y2="2125.3" stroke="#262626" stroke-width="1"/>
<line x1="213" y1="1931" x2="213" y2="1933" stroke="#262626" stroke-width="1"/>
<text x="213" y="2145.26" font-size="13.3" fill="#262626" text-anchor="middle">60</text>
<line x1="259.4" y1="2127.3" x2="259.4" y2="2125.3" stroke="#262626" stroke-width="1"/>
<line x1="259.4" y1="1931" x2="259.4" y2="1933" stroke="#262626" stroke-width="1"/>
<text x="259.4" y="2145.26" font-size="13.3" fill="#262626" text-anchor="middle">80</text>
<text x="166.6" y="2161.06" font-size="13.3" fill="#262626" text-anchor="middle">f (Hz)</text>
<path d="M103,2058.2 L114.2,2058.2 L108.6,2067 Z" fill="#0000ff"/>
<text x="108.6" y="2051.96" font-size="13.3" fill="#111" text-anchor="middle">15Hz</text>
<path d="M133.16,2084.3 L144.36,2084.3 L138.76,2093.1 Z" fill="#ff0000"/>
<text x="138.76" y="2078.36" font-size="13.3" fill="#111" text-anchor="middle">28Hz</text>
<text x="47.8" y="2029.15" font-size="13.3" fill="#262626" text-anchor="middle" transform="rotate(-90 47.8 2029.15)">Relative Spectral Power (%)</text>
<line x1="356.22" y1="1931" x2="356.22" y2="2127.3" stroke="#8484ff" stroke-width="1.1" stroke-dasharray="1.5 2.2"/>
<line x1="391.02" y1="1931" x2="391.02" y2="2127.3" stroke="#ff8484" stroke-width="1.1" stroke-dasharray="1.5 2.2"/>
<path d="M319.1,2074.3 C319.29,2065.14 319.87,2030.13 320.26,2019.34 C320.65,2008.54 321.07,2011.65 321.42,2009.52 C321.77,2007.39 322,2005.59 322.35,2006.58 C322.7,2007.56 323.08,2012.96 323.51,2015.41 C323.93,2017.86 324.4,2017.04 324.9,2021.3 C325.4,2025.55 326.02,2033.73 326.52,2040.93 C327.03,2048.13 327.41,2058.76 327.92,2064.48 C328.42,2070.21 328.88,2073.15 329.54,2075.28 C330.2,2077.41 330.89,2076.92 331.86,2077.24 C332.83,2077.57 334.18,2077.24 335.34,2077.24 C336.5,2077.24 337.66,2076.75 338.82,2077.24 C339.98,2077.73 341.14,2078.98 342.3,2080.19 C343.46,2081.4 344.62,2083.53 345.78,2084.51 C346.94,2085.49 348.1,2086.14 349.26,2086.08 C350.42,2086.01 351.58,2084.77 352.74,2084.11 C353.9,2083.46 355.25,2082.22 356.22,2082.15 C357.19,2082.09 357.57,2082.74 358.54,2083.72 C359.51,2084.7 360.86,2086.83 362.02,2088.04 C363.18,2089.25 364.46,2090.07 365.5,2090.98 C366.54,2091.9 367.51,2092.55 368.28,2093.54 C369.06,2094.52 369.25,2096.42 370.14,2096.87 C371.03,2097.33 372.46,2096.51 373.62,2096.28 C374.78,2096.06 376.13,2095.5 377.1,2095.5 C378.07,2095.5 378.45,2096.71 379.42,2096.28 C380.39,2095.86 381.74,2094.16 382.9,2092.95 C384.06,2091.74 385.22,2090.33 386.38,2089.02 C387.54,2087.71 388.89,2085.98 389.86,2085.1 C390.83,2084.21 391.41,2083.56 392.18,2083.72 C392.95,2083.88 393.53,2084.7 394.5,2086.08 C395.47,2087.45 396.82,2089.84 397.98,2091.97 C399.14,2094.09 400.3,2097.04 401.46,2098.84 C402.62,2100.64 403.2,2101.68 404.94,2102.76 C406.68,2103.84 409.58,2104.5 411.9,2105.31 C414.22,2106.13 416.54,2106.95 418.86,2107.67 C421.18,2108.39 423.11,2109.04 425.82,2109.63 C428.53,2110.22 431.62,2110.81 435.1,2111.2 C438.58,2111.6 442.83,2111.53 446.7,2111.99 C450.57,2112.45 454.43,2113.43 458.3,2113.95 C462.17,2114.48 466.03,2114.74 469.9,2115.13 C473.77,2115.52 477.63,2115.91 481.5,2116.31 C485.37,2116.7 489.23,2117.16 493.1,2117.49 C496.97,2117.81 502.77,2118.14 504.7,2118.27" fill="none" stroke="#3b98d4" stroke-width="1.4" clip-path="url(#c8)"/>
<rect x="319.1" y="1931" width="185.6" height="196.3" fill="none" stroke="#262626" stroke-width="1.1"/>
<line x1="319.1" y1="2088.04" x2="321.1" y2="2088.04" stroke="#262626" stroke-width="1"/>
<line x1="502.7" y1="2088.04" x2="504.7" y2="2088.04" stroke="#262626" stroke-width="1"/>
<text x="313.1" y="2092.8" font-size="13.3" fill="#262626" text-anchor="end">2</text>
<line x1="319.1" y1="2048.78" x2="321.1" y2="2048.78" stroke="#262626" stroke-width="1"/>
<line x1="502.7" y1="2048.78" x2="504.7" y2="2048.78" stroke="#262626" stroke-width="1"/>
<text x="313.1" y="2053.54" font-size="13.3" fill="#262626" text-anchor="end">4</text>
<line x1="319.1" y1="2009.52" x2="321.1" y2="2009.52" stroke="#262626" stroke-width="1"/>
<line x1="502.7" y1="2009.52" x2="504.7" y2="2009.52" stroke="#262626" stroke-width="1"/>
<text x="313.1" y="2014.28" font-size="13.3" fill="#262626" text-anchor="end">6</text>
<line x1="319.1" y1="1970.26" x2="321.1" y2="1970.26" stroke="#262626" stroke-width="1"/>
<line x1="502.7" y1="1970.26" x2="504.7" y2="1970.26" stroke="#262626" stroke-width="1"/>
<text x="313.1" y="1975.02" font-size="13.3" fill="#262626" text-anchor="end">8</text>
<line x1="319.1" y1="1931" x2="321.1" y2="1931" stroke="#262626" stroke-width="1"/>
<line x1="502.7" y1="1931" x2="504.7" y2="1931" stroke="#262626" stroke-width="1"/>
<text x="313.1" y="1935.76" font-size="13.3" fill="#262626" text-anchor="end">10</text>
<line x1="319.1" y1="2127.3" x2="319.1" y2="2125.3" stroke="#262626" stroke-width="1"/>
<line x1="319.1" y1="1931" x2="319.1" y2="1933" stroke="#262626" stroke-width="1"/>
<text x="319.1" y="2145.26" font-size="13.3" fill="#262626" text-anchor="middle">0</text>
<line x1="365.5" y1="2127.3" x2="365.5" y2="2125.3" stroke="#262626" stroke-width="1"/>
<line x1="365.5" y1="1931" x2="365.5" y2="1933" stroke="#262626" stroke-width="1"/>
<text x="365.5" y="2145.26" font-size="13.3" fill="#262626" text-anchor="middle">20</text>
<line x1="411.9" y1="2127.3" x2="411.9" y2="2125.3" stroke="#262626" stroke-width="1"/>
<line x1="411.9" y1="1931" x2="411.9" y2="1933" stroke="#262626" stroke-width="1"/>
<text x="411.9" y="2145.26" font-size="13.3" fill="#262626" text-anchor="middle">40</text>
<line x1="458.3" y1="2127.3" x2="458.3" y2="2125.3" stroke="#262626" stroke-width="1"/>
<line x1="458.3" y1="1931" x2="458.3" y2="1933" stroke="#262626" stroke-width="1"/>
<text x="458.3" y="2145.26" font-size="13.3" fill="#262626" text-anchor="middle">60</text>
<line x1="504.7" y1="2127.3" x2="504.7" y2="2125.3" stroke="#262626" stroke-width="1"/>
<line x1="504.7" y1="1931" x2="504.7" y2="1933" stroke="#262626" stroke-width="1"/>
<text x="504.7" y="2145.26" font-size="13.3" fill="#262626" text-anchor="middle">80</text>
<text x="411.9" y="2161.06" font-size="13.3" fill="#262626" text-anchor="middle">f (Hz)</text>
<path d="M350.62,2066 L361.82,2066 L356.22,2074.8 Z" fill="#0000ff"/>
<text x="356.22" y="2060.46" font-size="13.3" fill="#111" text-anchor="middle">16Hz</text>
<path d="M385.42,2066 L396.62,2066 L391.02,2074.8 Z" fill="#ff0000"/>
<text x="391.02" y="2061.06" font-size="13.3" fill="#111" text-anchor="middle">31Hz</text>
<line x1="601.52" y1="1931" x2="601.52" y2="2127.3" stroke="#8484ff" stroke-width="1.1" stroke-dasharray="1.5 2.2"/>
<line x1="636.32" y1="1931" x2="636.32" y2="2127.3" stroke="#ff8484" stroke-width="1.1" stroke-dasharray="1.5 2.2"/>
<path d="M564.4,2072.34 C564.59,2065.14 565.17,2040.6 565.56,2029.15 C565.95,2017.7 566.33,2007.56 566.72,2003.63 C567.11,1999.71 567.49,2004.29 567.88,2005.59 C568.27,2006.9 568.61,2008.54 569.04,2011.48 C569.47,2014.43 569.93,2018.03 570.43,2023.26 C570.93,2028.5 571.51,2036.02 572.06,2042.89 C572.6,2049.76 573.1,2059.09 573.68,2064.48 C574.26,2069.88 574.84,2072.99 575.54,2075.28 C576.23,2077.57 577.01,2077.9 577.86,2078.23 C578.71,2078.55 579.79,2077.57 580.64,2077.24 C581.49,2076.92 582.19,2076.16 582.96,2076.26 C583.73,2076.36 584.51,2077.11 585.28,2077.83 C586.05,2078.55 586.63,2079.53 587.6,2080.58 C588.57,2081.63 590.11,2083.2 591.08,2084.11 C592.05,2085.03 592.43,2086.08 593.4,2086.08 C594.37,2086.08 595.72,2084.83 596.88,2084.11 C598.04,2083.39 599.39,2082.28 600.36,2081.76 C601.33,2081.23 601.71,2080.58 602.68,2080.97 C603.65,2081.37 605,2082.77 606.16,2084.11 C607.32,2085.46 608.48,2087.71 609.64,2089.02 C610.8,2090.33 611.96,2090.82 613.12,2091.97 C614.28,2093.11 615.44,2095.14 616.6,2095.89 C617.76,2096.64 618.73,2096.32 620.08,2096.48 C621.43,2096.64 623.37,2097.04 624.72,2096.87 C626.07,2096.71 627.04,2096.15 628.2,2095.5 C629.36,2094.85 630.52,2093.8 631.68,2092.95 C632.84,2092.1 634,2091.05 635.16,2090.4 C636.32,2089.74 637.48,2088.6 638.64,2089.02 C639.8,2089.45 640.96,2091.48 642.12,2092.95 C643.28,2094.42 644.25,2096.38 645.6,2097.86 C646.95,2099.33 648.31,2100.54 650.24,2101.78 C652.17,2103.02 654.88,2104.33 657.2,2105.31 C659.52,2106.3 661.84,2106.95 664.16,2107.67 C666.48,2108.39 668.41,2109.04 671.12,2109.63 C673.83,2110.22 676.92,2110.88 680.4,2111.2 C683.88,2111.53 688.13,2111.27 692,2111.6 C695.87,2111.92 699.73,2112.68 703.6,2113.17 C707.47,2113.66 711.33,2114.15 715.2,2114.54 C719.07,2114.93 722.93,2115.19 726.8,2115.52 C730.67,2115.85 734.53,2116.01 738.4,2116.5 C742.27,2116.99 748.07,2118.14 750,2118.47" fill="none" stroke="#3b98d4" stroke-width="1.4" clip-path="url(#c9)"/>
<rect x="564.4" y="1931" width="185.6" height="196.3" fill="none" stroke="#262626" stroke-width="1.1"/>
<line x1="564.4" y1="2088.04" x2="566.4" y2="2088.04" stroke="#262626" stroke-width="1"/>
<line x1="748" y1="2088.04" x2="750" y2="2088.04" stroke="#262626" stroke-width="1"/>
<text x="558.4" y="2092.8" font-size="13.3" fill="#262626" text-anchor="end">2</text>
<line x1="564.4" y1="2048.78" x2="566.4" y2="2048.78" stroke="#262626" stroke-width="1"/>
<line x1="748" y1="2048.78" x2="750" y2="2048.78" stroke="#262626" stroke-width="1"/>
<text x="558.4" y="2053.54" font-size="13.3" fill="#262626" text-anchor="end">4</text>
<line x1="564.4" y1="2009.52" x2="566.4" y2="2009.52" stroke="#262626" stroke-width="1"/>
<line x1="748" y1="2009.52" x2="750" y2="2009.52" stroke="#262626" stroke-width="1"/>
<text x="558.4" y="2014.28" font-size="13.3" fill="#262626" text-anchor="end">6</text>
<line x1="564.4" y1="1970.26" x2="566.4" y2="1970.26" stroke="#262626" stroke-width="1"/>
<line x1="748" y1="1970.26" x2="750" y2="1970.26" stroke="#262626" stroke-width="1"/>
<text x="558.4" y="1975.02" font-size="13.3" fill="#262626" text-anchor="end">8</text>
<line x1="564.4" y1="1931" x2="566.4" y2="1931" stroke="#262626" stroke-width="1"/>
<line x1="748" y1="1931" x2="750" y2="1931" stroke="#262626" stroke-width="1"/>
<text x="558.4" y="1935.76" font-size="13.3" fill="#262626" text-anchor="end">10</text>
<line x1="564.4" y1="2127.3" x2="564.4" y2="2125.3" stroke="#262626" stroke-width="1"/>
<line x1="564.4" y1="1931" x2="564.4" y2="1933" stroke="#262626" stroke-width="1"/>
<text x="564.4" y="2145.26" font-size="13.3" fill="#262626" text-anchor="middle">0</text>
<line x1="610.8" y1="2127.3" x2="610.8" y2="2125.3" stroke="#262626" stroke-width="1"/>
<line x1="610.8" y1="1931" x2="610.8" y2="1933" stroke="#262626" stroke-width="1"/>
<text x="610.8" y="2145.26" font-size="13.3" fill="#262626" text-anchor="middle">20</text>
<line x1="657.2" y1="2127.3" x2="657.2" y2="2125.3" stroke="#262626" stroke-width="1"/>
<line x1="657.2" y1="1931" x2="657.2" y2="1933" stroke="#262626" stroke-width="1"/>
<text x="657.2" y="2145.26" font-size="13.3" fill="#262626" text-anchor="middle">40</text>
<line x1="703.6" y1="2127.3" x2="703.6" y2="2125.3" stroke="#262626" stroke-width="1"/>
<line x1="703.6" y1="1931" x2="703.6" y2="1933" stroke="#262626" stroke-width="1"/>
<text x="703.6" y="2145.26" font-size="13.3" fill="#262626" text-anchor="middle">60</text>
<line x1="750" y1="2127.3" x2="750" y2="2125.3" stroke="#262626" stroke-width="1"/>
<line x1="750" y1="1931" x2="750" y2="1933" stroke="#262626" stroke-width="1"/>
<text x="750" y="2145.26" font-size="13.3" fill="#262626" text-anchor="middle">80</text>
<text x="657.2" y="2161.06" font-size="13.3" fill="#262626" text-anchor="middle">f (Hz)</text>
<path d="M595.92,2064 L607.12,2064 L601.52,2072.8 Z" fill="#0000ff"/>
<text x="601.52" y="2058.06" font-size="13.3" fill="#111" text-anchor="middle">16Hz</text>
<path d="M633.04,2072.5 L644.24,2072.5 L638.64,2081.3 Z" fill="#ff0000"/>
<text x="638.64" y="2066.16" font-size="13.3" fill="#111" text-anchor="middle">32Hz</text>
<line x1="847.72" y1="1931" x2="847.72" y2="2127.3" stroke="#8484ff" stroke-width="1.1" stroke-dasharray="1.5 2.2"/>
<line x1="882.52" y1="1931" x2="882.52" y2="2127.3" stroke="#ff8484" stroke-width="1.1" stroke-dasharray="1.5 2.2"/>
<path d="M810.6,2088.04 C810.79,2082.81 811.37,2064.48 811.76,2056.63 C812.15,2048.78 812.49,2044.04 812.92,2040.93 C813.35,2037.82 813.85,2037.98 814.31,2037.98 C814.78,2037.98 815.16,2037.82 815.7,2040.93 C816.25,2044.04 816.94,2052.05 817.56,2056.63 C818.18,2061.21 818.72,2065.47 819.42,2068.41 C820.11,2071.35 820.89,2072.66 821.74,2074.3 C822.59,2075.93 823.48,2076.92 824.52,2078.23 C825.56,2079.53 826.84,2080.68 828,2082.15 C829.16,2083.62 830.32,2085.68 831.48,2087.06 C832.64,2088.43 833.8,2089.35 834.96,2090.4 C836.12,2091.44 837.28,2092.59 838.44,2093.34 C839.6,2094.09 840.76,2094.49 841.92,2094.91 C843.08,2095.34 844.24,2095.6 845.4,2095.89 C846.56,2096.19 847.72,2096.35 848.88,2096.68 C850.04,2097 851.2,2097.99 852.36,2097.86 C853.52,2097.72 854.68,2097.36 855.84,2095.89 C857,2094.42 858.16,2091.48 859.32,2089.02 C860.48,2086.57 861.64,2083.3 862.8,2081.17 C863.96,2079.04 865.31,2078.06 866.28,2076.26 C867.25,2074.46 867.83,2072.66 868.6,2070.37 C869.37,2068.08 870.15,2064.65 870.92,2062.52 C871.69,2060.39 872.47,2058.76 873.24,2057.61 C874.01,2056.47 874.79,2055.75 875.56,2055.65 C876.33,2055.55 877.11,2056.04 877.88,2057.02 C878.65,2058.01 879.43,2059.48 880.2,2061.54 C880.97,2063.6 881.75,2066.45 882.52,2069.39 C883.29,2072.34 884.07,2075.93 884.84,2079.21 C885.61,2082.48 886.39,2086.08 887.16,2089.02 C887.93,2091.97 888.71,2094.75 889.48,2096.87 C890.25,2099 890.83,2100.57 891.8,2101.78 C892.77,2102.99 894.12,2103.32 895.28,2104.14 C896.44,2104.95 897.41,2105.77 898.76,2106.69 C900.11,2107.6 901.47,2108.75 903.4,2109.63 C905.33,2110.52 908.04,2111.27 910.36,2111.99 C912.68,2112.71 914.61,2113.36 917.32,2113.95 C920.03,2114.54 923.12,2115.03 926.6,2115.52 C930.08,2116.01 934.33,2116.5 938.2,2116.9 C942.07,2117.29 945.93,2117.52 949.8,2117.88 C953.67,2118.24 957.53,2118.79 961.4,2119.06 C965.27,2119.32 969.13,2119.22 973,2119.45 C976.87,2119.68 980.73,2120.1 984.6,2120.43 C988.47,2120.76 994.27,2121.25 996.2,2121.41" fill="none" stroke="#3b98d4" stroke-width="1.4" clip-path="url(#c10)"/>
<rect x="810.6" y="1931" width="185.6" height="196.3" fill="none" stroke="#262626" stroke-width="1.1"/>
<line x1="810.6" y1="2088.04" x2="812.6" y2="2088.04" stroke="#262626" stroke-width="1"/>
<line x1="994.2" y1="2088.04" x2="996.2" y2="2088.04" stroke="#262626" stroke-width="1"/>
<text x="804.6" y="2092.8" font-size="13.3" fill="#262626" text-anchor="end">2</text>
<line x1="810.6" y1="2048.78" x2="812.6" y2="2048.78" stroke="#262626" stroke-width="1"/>
<line x1="994.2" y1="2048.78" x2="996.2" y2="2048.78" stroke="#262626" stroke-width="1"/>
<text x="804.6" y="2053.54" font-size="13.3" fill="#262626" text-anchor="end">4</text>
<line x1="810.6" y1="2009.52" x2="812.6" y2="2009.52" stroke="#262626" stroke-width="1"/>
<line x1="994.2" y1="2009.52" x2="996.2" y2="2009.52" stroke="#262626" stroke-width="1"/>
<text x="804.6" y="2014.28" font-size="13.3" fill="#262626" text-anchor="end">6</text>
<line x1="810.6" y1="1970.26" x2="812.6" y2="1970.26" stroke="#262626" stroke-width="1"/>
<line x1="994.2" y1="1970.26" x2="996.2" y2="1970.26" stroke="#262626" stroke-width="1"/>
<text x="804.6" y="1975.02" font-size="13.3" fill="#262626" text-anchor="end">8</text>
<line x1="810.6" y1="1931" x2="812.6" y2="1931" stroke="#262626" stroke-width="1"/>
<line x1="994.2" y1="1931" x2="996.2" y2="1931" stroke="#262626" stroke-width="1"/>
<text x="804.6" y="1935.76" font-size="13.3" fill="#262626" text-anchor="end">10</text>
<line x1="810.6" y1="2127.3" x2="810.6" y2="2125.3" stroke="#262626" stroke-width="1"/>
<line x1="810.6" y1="1931" x2="810.6" y2="1933" stroke="#262626" stroke-width="1"/>
<text x="810.6" y="2145.26" font-size="13.3" fill="#262626" text-anchor="middle">0</text>
<line x1="857" y1="2127.3" x2="857" y2="2125.3" stroke="#262626" stroke-width="1"/>
<line x1="857" y1="1931" x2="857" y2="1933" stroke="#262626" stroke-width="1"/>
<text x="857" y="2145.26" font-size="13.3" fill="#262626" text-anchor="middle">20</text>
<line x1="903.4" y1="2127.3" x2="903.4" y2="2125.3" stroke="#262626" stroke-width="1"/>
<line x1="903.4" y1="1931" x2="903.4" y2="1933" stroke="#262626" stroke-width="1"/>
<text x="903.4" y="2145.26" font-size="13.3" fill="#262626" text-anchor="middle">40</text>
<line x1="949.8" y1="2127.3" x2="949.8" y2="2125.3" stroke="#262626" stroke-width="1"/>
<line x1="949.8" y1="1931" x2="949.8" y2="1933" stroke="#262626" stroke-width="1"/>
<text x="949.8" y="2145.26" font-size="13.3" fill="#262626" text-anchor="middle">60</text>
<line x1="996.2" y1="2127.3" x2="996.2" y2="2125.3" stroke="#262626" stroke-width="1"/>
<line x1="996.2" y1="1931" x2="996.2" y2="1933" stroke="#262626" stroke-width="1"/>
<text x="996.2" y="2145.26" font-size="13.3" fill="#262626" text-anchor="middle">80</text>
<text x="903.4" y="2161.06" font-size="13.3" fill="#262626" text-anchor="middle">f (Hz)</text>
<path d="M839.8,2079.6 L851,2079.6 L845.4,2088.4 Z" fill="#0000ff"/>
<text x="845.4" y="2072.96" font-size="13.3" fill="#111" text-anchor="middle">15Hz</text>
<path d="M872.28,2038.9 L883.48,2038.9 L877.88,2047.7 Z" fill="#ff0000"/>
<text x="877.88" y="2032.26" font-size="13.3" fill="#111" text-anchor="middle">29Hz</text>
<line x1="1093.42" y1="1931" x2="1093.42" y2="2127.3" stroke="#8484ff" stroke-width="1.1" stroke-dasharray="1.5 2.2"/>
<line x1="1128.22" y1="1931" x2="1128.22" y2="2127.3" stroke="#ff8484" stroke-width="1.1" stroke-dasharray="1.5 2.2"/>
<path d="M1056.3,2097.86 C1056.49,2094.26 1057.07,2081.82 1057.46,2076.26 C1057.85,2070.7 1058.12,2066.77 1058.62,2064.48 C1059.12,2062.19 1059.9,2061.87 1060.48,2062.52 C1061.06,2063.18 1061.56,2066.12 1062.1,2068.41 C1062.64,2070.7 1063.14,2074.14 1063.72,2076.26 C1064.3,2078.39 1064.88,2080.19 1065.58,2081.17 C1066.28,2082.15 1067.13,2081.99 1067.9,2082.15 C1068.67,2082.31 1069.45,2081.76 1070.22,2082.15 C1070.99,2082.54 1071.77,2083.46 1072.54,2084.51 C1073.31,2085.55 1074.09,2087.19 1074.86,2088.43 C1075.63,2089.68 1076.41,2091.12 1077.18,2091.97 C1077.95,2092.82 1078.73,2093.37 1079.5,2093.54 C1080.27,2093.7 1081.05,2093.05 1081.82,2092.95 C1082.59,2092.85 1083.37,2092.62 1084.14,2092.95 C1084.91,2093.27 1085.69,2094.29 1086.46,2094.91 C1087.23,2095.53 1087.81,2096.35 1088.78,2096.68 C1089.75,2097 1091.1,2097.07 1092.26,2096.87 C1093.42,2096.68 1094.58,2096.32 1095.74,2095.5 C1096.9,2094.68 1098.06,2093.05 1099.22,2091.97 C1100.38,2090.89 1101.54,2090.33 1102.7,2089.02 C1103.86,2087.71 1105.02,2086.24 1106.18,2084.11 C1107.34,2081.99 1108.69,2079.04 1109.66,2076.26 C1110.63,2073.48 1111.21,2071.35 1111.98,2067.43 C1112.75,2063.5 1113.53,2057.78 1114.3,2052.71 C1115.07,2047.63 1115.85,2041.26 1116.62,2037 C1117.39,2032.75 1118.24,2028 1118.94,2027.19 C1119.64,2026.37 1120.1,2030.13 1120.8,2032.09 C1121.49,2034.06 1122.27,2035.2 1123.12,2038.97 C1123.97,2042.73 1125.05,2049.43 1125.9,2054.67 C1126.75,2059.9 1127.45,2065.79 1128.22,2070.37 C1128.99,2074.95 1129.77,2078.39 1130.54,2082.15 C1131.31,2085.91 1132.09,2089.94 1132.86,2092.95 C1133.63,2095.96 1134.21,2097.92 1135.18,2100.21 C1136.15,2102.5 1137.5,2105.38 1138.66,2106.69 C1139.82,2108 1140.79,2107.57 1142.14,2108.06 C1143.49,2108.55 1145.23,2108.98 1146.78,2109.63 C1148.33,2110.29 1149.1,2111.17 1151.42,2111.99 C1153.74,2112.81 1157.22,2113.69 1160.7,2114.54 C1164.18,2115.39 1168.43,2116.5 1172.3,2117.09 C1176.17,2117.68 1180.03,2117.75 1183.9,2118.07 C1187.77,2118.4 1191.63,2118.76 1195.5,2119.06 C1199.37,2119.35 1203.23,2119.61 1207.1,2119.84 C1210.97,2120.07 1214.83,2120.27 1218.7,2120.43 C1222.57,2120.59 1226.43,2120.66 1230.3,2120.82 C1234.17,2120.99 1239.97,2121.31 1241.9,2121.41" fill="none" stroke="#3b98d4" stroke-width="1.4" clip-path="url(#c11)"/>
<rect x="1056.3" y="1931" width="185.6" height="196.3" fill="none" stroke="#262626" stroke-width="1.1"/>
<line x1="1056.3" y1="2088.04" x2="1058.3" y2="2088.04" stroke="#262626" stroke-width="1"/>
<line x1="1239.9" y1="2088.04" x2="1241.9" y2="2088.04" stroke="#262626" stroke-width="1"/>
<text x="1050.3" y="2092.8" font-size="13.3" fill="#262626" text-anchor="end">2</text>
<line x1="1056.3" y1="2048.78" x2="1058.3" y2="2048.78" stroke="#262626" stroke-width="1"/>
<line x1="1239.9" y1="2048.78" x2="1241.9" y2="2048.78" stroke="#262626" stroke-width="1"/>
<text x="1050.3" y="2053.54" font-size="13.3" fill="#262626" text-anchor="end">4</text>
<line x1="1056.3" y1="2009.52" x2="1058.3" y2="2009.52" stroke="#262626" stroke-width="1"/>
<line x1="1239.9" y1="2009.52" x2="1241.9" y2="2009.52" stroke="#262626" stroke-width="1"/>
<text x="1050.3" y="2014.28" font-size="13.3" fill="#262626" text-anchor="end">6</text>
<line x1="1056.3" y1="1970.26" x2="1058.3" y2="1970.26" stroke="#262626" stroke-width="1"/>
<line x1="1239.9" y1="1970.26" x2="1241.9" y2="1970.26" stroke="#262626" stroke-width="1"/>
<text x="1050.3" y="1975.02" font-size="13.3" fill="#262626" text-anchor="end">8</text>
<line x1="1056.3" y1="1931" x2="1058.3" y2="1931" stroke="#262626" stroke-width="1"/>
<line x1="1239.9" y1="1931" x2="1241.9" y2="1931" stroke="#262626" stroke-width="1"/>
<text x="1050.3" y="1935.76" font-size="13.3" fill="#262626" text-anchor="end">10</text>
<line x1="1056.3" y1="2127.3" x2="1056.3" y2="2125.3" stroke="#262626" stroke-width="1"/>
<line x1="1056.3" y1="1931" x2="1056.3" y2="1933" stroke="#262626" stroke-width="1"/>
<text x="1056.3" y="2145.26" font-size="13.3" fill="#262626" text-anchor="middle">0</text>
<line x1="1102.7" y1="2127.3" x2="1102.7" y2="2125.3" stroke="#262626" stroke-width="1"/>
<line x1="1102.7" y1="1931" x2="1102.7" y2="1933" stroke="#262626" stroke-width="1"/>
<text x="1102.7" y="2145.26" font-size="13.3" fill="#262626" text-anchor="middle">20</text>
<line x1="1149.1" y1="2127.3" x2="1149.1" y2="2125.3" stroke="#262626" stroke-width="1"/>
<line x1="1149.1" y1="1931" x2="1149.1" y2="1933" stroke="#262626" stroke-width="1"/>
<text x="1149.1" y="2145.26" font-size="13.3" fill="#262626" text-anchor="middle">40</text>
<line x1="1195.5" y1="2127.3" x2="1195.5" y2="2125.3" stroke="#262626" stroke-width="1"/>
<line x1="1195.5" y1="1931" x2="1195.5" y2="1933" stroke="#262626" stroke-width="1"/>
<text x="1195.5" y="2145.26" font-size="13.3" fill="#262626" text-anchor="middle">60</text>
<line x1="1241.9" y1="2127.3" x2="1241.9" y2="2125.3" stroke="#262626" stroke-width="1"/>
<line x1="1241.9" y1="1931" x2="1241.9" y2="1933" stroke="#262626" stroke-width="1"/>
<text x="1241.9" y="2145.26" font-size="13.3" fill="#262626" text-anchor="middle">80</text>
<text x="1149.1" y="2161.06" font-size="13.3" fill="#262626" text-anchor="middle">f (Hz)</text>
<path d="M1076.22,2076.2 L1087.42,2076.2 L1081.82,2085 Z" fill="#0000ff"/>
<text x="1081.82" y="2069.56" font-size="13.3" fill="#111" text-anchor="middle">11Hz</text>
<path d="M1113.34,2009.1 L1124.54,2009.1 L1118.94,2017.9 Z" fill="#ff0000"/>
<text x="1118.94" y="2002.86" font-size="13.3" fill="#111" text-anchor="middle">27Hz</text>
<line x1="1339.02" y1="1931" x2="1339.02" y2="2127.3" stroke="#8484ff" stroke-width="1.1" stroke-dasharray="1.5 2.2"/>
<line x1="1373.82" y1="1931" x2="1373.82" y2="2127.3" stroke="#ff8484" stroke-width="1.1" stroke-dasharray="1.5 2.2"/>
<path d="M1301.9,2064.48 C1302.09,2056.96 1302.67,2031.11 1303.06,2019.34 C1303.45,2007.56 1303.79,1999.05 1304.22,1993.82 C1304.65,1988.58 1305.19,1989.24 1305.61,1987.93 C1306.04,1986.62 1306.35,1984.66 1306.77,1985.96 C1307.2,1987.27 1307.62,1990.54 1308.16,1995.78 C1308.71,2001.01 1309.4,2010.83 1310.02,2017.37 C1310.64,2023.92 1311.3,2030.79 1311.88,2035.04 C1312.46,2039.29 1312.84,2041.42 1313.5,2042.89 C1314.16,2044.36 1315.05,2043.87 1315.82,2043.87 C1316.59,2043.87 1317.37,2043.22 1318.14,2042.89 C1318.91,2042.56 1319.69,2041.26 1320.46,2041.91 C1321.23,2042.56 1322.01,2044.85 1322.78,2046.82 C1323.55,2048.78 1324.33,2051.56 1325.1,2053.69 C1325.87,2055.81 1326.45,2057.94 1327.42,2059.58 C1328.39,2061.21 1329.74,2062.03 1330.9,2063.5 C1332.06,2064.97 1333.41,2066.45 1334.38,2068.41 C1335.35,2070.37 1335.93,2072.99 1336.7,2075.28 C1337.47,2077.57 1338.25,2080.19 1339.02,2082.15 C1339.79,2084.11 1340.37,2085.59 1341.34,2087.06 C1342.31,2088.53 1343.66,2090 1344.82,2090.98 C1345.98,2091.97 1347.14,2092.13 1348.3,2092.95 C1349.46,2093.77 1350.62,2095.24 1351.78,2095.89 C1352.94,2096.55 1354.1,2096.94 1355.26,2096.87 C1356.42,2096.81 1357.58,2096.32 1358.74,2095.5 C1359.9,2094.68 1361.25,2092.88 1362.22,2091.97 C1363.19,2091.05 1363.57,2090.07 1364.54,2090 C1365.51,2089.94 1366.86,2090.92 1368.02,2091.57 C1369.18,2092.23 1370.34,2093.05 1371.5,2093.93 C1372.66,2094.81 1373.82,2095.56 1374.98,2096.87 C1376.14,2098.18 1377.11,2099.98 1378.46,2101.78 C1379.81,2103.58 1381.55,2106.2 1383.1,2107.67 C1384.65,2109.14 1385.81,2109.8 1387.74,2110.61 C1389.67,2111.43 1391.61,2112.09 1394.7,2112.58 C1397.79,2113.07 1402.43,2113.23 1406.3,2113.56 C1410.17,2113.89 1414.03,2114.31 1417.9,2114.54 C1421.77,2114.77 1425.63,2114.77 1429.5,2114.93 C1433.37,2115.1 1438.01,2115.29 1441.1,2115.52 C1444.19,2115.75 1446.32,2116.63 1448.06,2116.31 C1449.8,2115.98 1450.38,2113.53 1451.54,2113.56 C1452.7,2113.59 1452.89,2115.85 1455.02,2116.5 C1457.15,2117.16 1460.82,2117.22 1464.3,2117.49 C1467.78,2117.75 1472.03,2117.91 1475.9,2118.07 C1479.77,2118.24 1485.57,2118.4 1487.5,2118.47" fill="none" stroke="#3b98d4" stroke-width="1.4" clip-path="url(#c12)"/>
<rect x="1301.9" y="1931" width="185.6" height="196.3" fill="none" stroke="#262626" stroke-width="1.1"/>
<line x1="1301.9" y1="2088.04" x2="1303.9" y2="2088.04" stroke="#262626" stroke-width="1"/>
<line x1="1485.5" y1="2088.04" x2="1487.5" y2="2088.04" stroke="#262626" stroke-width="1"/>
<text x="1295.9" y="2092.8" font-size="13.3" fill="#262626" text-anchor="end">2</text>
<line x1="1301.9" y1="2048.78" x2="1303.9" y2="2048.78" stroke="#262626" stroke-width="1"/>
<line x1="1485.5" y1="2048.78" x2="1487.5" y2="2048.78" stroke="#262626" stroke-width="1"/>
<text x="1295.9" y="2053.54" font-size="13.3" fill="#262626" text-anchor="end">4</text>
<line x1="1301.9" y1="2009.52" x2="1303.9" y2="2009.52" stroke="#262626" stroke-width="1"/>
<line x1="1485.5" y1="2009.52" x2="1487.5" y2="2009.52" stroke="#262626" stroke-width="1"/>
<text x="1295.9" y="2014.28" font-size="13.3" fill="#262626" text-anchor="end">6</text>
<line x1="1301.9" y1="1970.26" x2="1303.9" y2="1970.26" stroke="#262626" stroke-width="1"/>
<line x1="1485.5" y1="1970.26" x2="1487.5" y2="1970.26" stroke="#262626" stroke-width="1"/>
<text x="1295.9" y="1975.02" font-size="13.3" fill="#262626" text-anchor="end">8</text>
<line x1="1301.9" y1="1931" x2="1303.9" y2="1931" stroke="#262626" stroke-width="1"/>
<line x1="1485.5" y1="1931" x2="1487.5" y2="1931" stroke="#262626" stroke-width="1"/>
<text x="1295.9" y="1935.76" font-size="13.3" fill="#262626" text-anchor="end">10</text>
<line x1="1301.9" y1="2127.3" x2="1301.9" y2="2125.3" stroke="#262626" stroke-width="1"/>
<line x1="1301.9" y1="1931" x2="1301.9" y2="1933" stroke="#262626" stroke-width="1"/>
<text x="1301.9" y="2145.26" font-size="13.3" fill="#262626" text-anchor="middle">0</text>
<line x1="1348.3" y1="2127.3" x2="1348.3" y2="2125.3" stroke="#262626" stroke-width="1"/>
<line x1="1348.3" y1="1931" x2="1348.3" y2="1933" stroke="#262626" stroke-width="1"/>
<text x="1348.3" y="2145.26" font-size="13.3" fill="#262626" text-anchor="middle">20</text>
<line x1="1394.7" y1="2127.3" x2="1394.7" y2="2125.3" stroke="#262626" stroke-width="1"/>
<line x1="1394.7" y1="1931" x2="1394.7" y2="1933" stroke="#262626" stroke-width="1"/>
<text x="1394.7" y="2145.26" font-size="13.3" fill="#262626" text-anchor="middle">40</text>
<line x1="1441.1" y1="2127.3" x2="1441.1" y2="2125.3" stroke="#262626" stroke-width="1"/>
<line x1="1441.1" y1="1931" x2="1441.1" y2="1933" stroke="#262626" stroke-width="1"/>
<text x="1441.1" y="2145.26" font-size="13.3" fill="#262626" text-anchor="middle">60</text>
<line x1="1487.5" y1="2127.3" x2="1487.5" y2="2125.3" stroke="#262626" stroke-width="1"/>
<line x1="1487.5" y1="1931" x2="1487.5" y2="1933" stroke="#262626" stroke-width="1"/>
<text x="1487.5" y="2145.26" font-size="13.3" fill="#262626" text-anchor="middle">80</text>
<text x="1394.7" y="2161.06" font-size="13.3" fill="#262626" text-anchor="middle">f (Hz)</text>
<path d="M1331.1,2060.9 L1342.3,2060.9 L1336.7,2069.7 Z" fill="#0000ff"/>
<text x="1336.7" y="2053.66" font-size="13.3" fill="#111" text-anchor="middle">15Hz</text>
<path d="M1358.94,2073.5 L1370.14,2073.5 L1364.54,2082.3 Z" fill="#ff0000"/>
<text x="1364.54" y="2067.16" font-size="13.3" fill="#111" text-anchor="middle">27Hz</text>
</svg>
</body></html>
